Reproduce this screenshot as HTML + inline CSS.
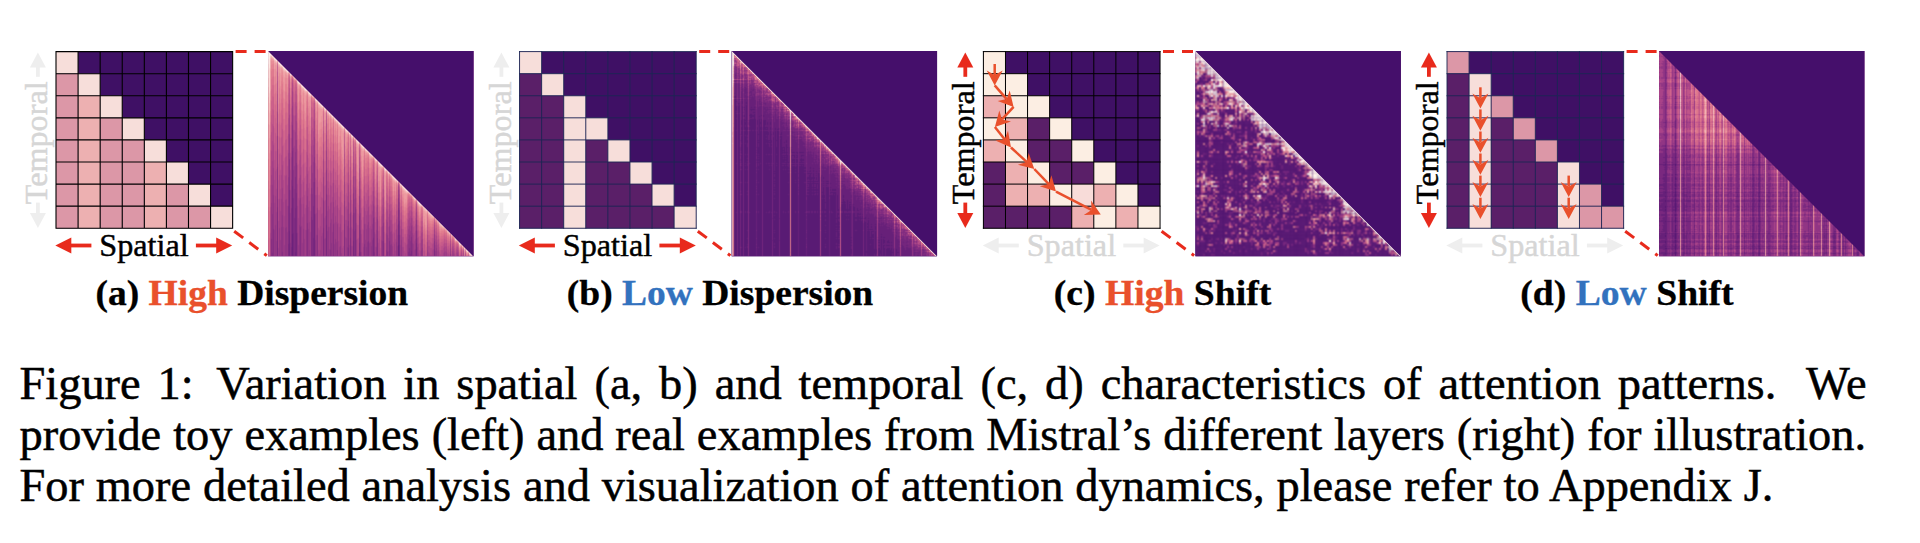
<!DOCTYPE html>
<html lang="en"><head><meta charset="utf-8"><title>Figure 1</title>
<style>
html,body{margin:0;padding:0;background:#fff;}
body{width:1920px;height:543px;overflow:hidden;position:relative;font-family:"Liberation Serif", "DejaVu Serif", serif;}
svg{position:absolute;left:0;top:0;font-family:"Liberation Serif", "DejaVu Serif", serif;}
.cap{position:absolute;left:19.5px;font-size:46.4px;line-height:52px;height:52px;color:#000;white-space:nowrap;-webkit-text-stroke:0.5px #000;}
</style></head><body>
<svg width="1920" height="543" viewBox="0 0 1920 543">
<defs>
<filter id="fs" filterUnits="userSpaceOnUse" x="-1" y="-1" width="208" height="208" color-interpolation-filters="sRGB"><feConvolveMatrix order="3" kernelMatrix="1 2 1 2 4 2 1 2 1" divisor="16" edgeMode="duplicate" preserveAlpha="true"/></filter>
<filter id="fm" filterUnits="userSpaceOnUse" x="-1" y="-1" width="208" height="208" color-interpolation-filters="sRGB"><feConvolveMatrix order="3" kernelMatrix="0 1 0 1 4 1 0 1 0" divisor="8" edgeMode="duplicate" preserveAlpha="true"/></filter>
<clipPath id="hc"><rect x="0" y="0" width="206" height="206"/></clipPath>
</defs>
<g transform="translate(56.00,51.60)">
<rect x="0" y="0" width="176.64" height="176.64" fill="#3f1065"/>
<rect x="0.00" y="0.00" width="22.13" height="22.13" fill="#f7deda"/>
<rect x="0.00" y="22.08" width="22.13" height="22.13" fill="#dc97a7"/>
<rect x="22.08" y="22.08" width="22.13" height="22.13" fill="#f7deda"/>
<rect x="0.00" y="44.16" width="22.13" height="22.13" fill="#dc97a7"/>
<rect x="22.08" y="44.16" width="22.13" height="22.13" fill="#edb0b1"/>
<rect x="44.16" y="44.16" width="22.13" height="22.13" fill="#f7deda"/>
<rect x="0.00" y="66.24" width="22.13" height="22.13" fill="#dc97a7"/>
<rect x="22.08" y="66.24" width="22.13" height="22.13" fill="#edb0b1"/>
<rect x="44.16" y="66.24" width="22.13" height="22.13" fill="#dc97a7"/>
<rect x="66.24" y="66.24" width="22.13" height="22.13" fill="#f7deda"/>
<rect x="0.00" y="88.32" width="22.13" height="22.13" fill="#dc97a7"/>
<rect x="22.08" y="88.32" width="22.13" height="22.13" fill="#edb0b1"/>
<rect x="44.16" y="88.32" width="22.13" height="22.13" fill="#dc97a7"/>
<rect x="66.24" y="88.32" width="22.13" height="22.13" fill="#dc97a7"/>
<rect x="88.32" y="88.32" width="22.13" height="22.13" fill="#f7deda"/>
<rect x="0.00" y="110.40" width="22.13" height="22.13" fill="#dc97a7"/>
<rect x="22.08" y="110.40" width="22.13" height="22.13" fill="#edb0b1"/>
<rect x="44.16" y="110.40" width="22.13" height="22.13" fill="#dc97a7"/>
<rect x="66.24" y="110.40" width="22.13" height="22.13" fill="#dc97a7"/>
<rect x="88.32" y="110.40" width="22.13" height="22.13" fill="#edb0b1"/>
<rect x="110.40" y="110.40" width="22.13" height="22.13" fill="#f7deda"/>
<rect x="0.00" y="132.48" width="22.13" height="22.13" fill="#dc97a7"/>
<rect x="22.08" y="132.48" width="22.13" height="22.13" fill="#edb0b1"/>
<rect x="44.16" y="132.48" width="22.13" height="22.13" fill="#dc97a7"/>
<rect x="66.24" y="132.48" width="22.13" height="22.13" fill="#dc97a7"/>
<rect x="88.32" y="132.48" width="22.13" height="22.13" fill="#edb0b1"/>
<rect x="110.40" y="132.48" width="22.13" height="22.13" fill="#dc97a7"/>
<rect x="132.48" y="132.48" width="22.13" height="22.13" fill="#f7deda"/>
<rect x="0.00" y="154.56" width="22.13" height="22.13" fill="#dc97a7"/>
<rect x="22.08" y="154.56" width="22.13" height="22.13" fill="#edb0b1"/>
<rect x="44.16" y="154.56" width="22.13" height="22.13" fill="#dc97a7"/>
<rect x="66.24" y="154.56" width="22.13" height="22.13" fill="#dc97a7"/>
<rect x="88.32" y="154.56" width="22.13" height="22.13" fill="#edb0b1"/>
<rect x="110.40" y="154.56" width="22.13" height="22.13" fill="#dc97a7"/>
<rect x="132.48" y="154.56" width="22.13" height="22.13" fill="#dc97a7"/>
<rect x="154.56" y="154.56" width="22.13" height="22.13" fill="#f7deda"/>
<path d="M0.00 0V176.64M0 0.00H176.64M22.08 0V176.64M0 22.08H176.64M44.16 0V176.64M0 44.16H176.64M66.24 0V176.64M0 66.24H176.64M88.32 0V176.64M0 88.32H176.64M110.40 0V176.64M0 110.40H176.64M132.48 0V176.64M0 132.48H176.64M154.56 0V176.64M0 154.56H176.64M176.64 0V176.64M0 176.64H176.64" stroke="#000000" stroke-width="1.1" fill="none" stroke-linecap="square"/>
</g>
<text x="144.0" y="256.4" font-size="32.2" text-anchor="middle" fill="black" stroke="black" stroke-width="0.45">Spatial</text>
<path d="M91.4 245.5H70.3" stroke="#e82a1c" stroke-width="3.8" fill="none"/>
<path d="M55.3 245.5L71.3 237.5V253.5Z" fill="#e82a1c"/>
<path d="M195.9 245.5H217.2" stroke="#e82a1c" stroke-width="3.8" fill="none"/>
<path d="M232.2 245.5L216.2 237.5V253.5Z" fill="#e82a1c"/>
<text transform="translate(47.0,142.8) rotate(-90)" font-size="32.2" text-anchor="middle" fill="#d6d6d6" stroke="#d6d6d6" stroke-width="0.45">Temporal</text>
<path d="M37.9 76.8V66.6" stroke="#eeeeee" stroke-width="3.8" fill="none"/>
<path d="M37.9 52.6L29.9 67.6H45.9Z" fill="#eeeeee"/>
<path d="M37.9 202.6V214.0" stroke="#eeeeee" stroke-width="3.8" fill="none"/>
<path d="M37.9 228.0L29.9 213.0H45.9Z" fill="#eeeeee"/>
<path d="M235.6 51.6H266.6" stroke="#e82a1c" stroke-width="3" stroke-dasharray="11 8" fill="none"/>
<path d="M234.2 231.2L266.8 255.6" stroke="#e82a1c" stroke-width="3" stroke-dasharray="11.2 7.6" fill="none"/>
<g transform="translate(268.1,51) scale(0.9968)" clip-path="url(#hc)"><g shape-rendering="crispEdges">
<rect x="-1" y="-1" width="208" height="208" fill="#450f6b"/>
<g filter="url(#fm)">
<rect x="-1" y="-1" width="208" height="208" fill="#8e3383"/>
<path d="M24.5 184v22M130.5 195v11" stroke="#641f78" stroke-width="1" fill="none"/>
<path d="M9.5 157v49M21.5 181v25M24.5 135v49M27.5 202v4M28.5 183v23M46.5 164v42M58.5 175v31M85.5 191v15M91.5 193v13M130.5 174v21M131.5 205v1M148.5 193v13" stroke="#6e237b" stroke-width="1" fill="none"/>
<path d="M9.5 116v41M20.5 194v12M21.5 139v42M23.5 197v9M24.5 100v35M25.5 183v23M27.5 158v44M28.5 142v41M43.5 167v39M44.5 205v1M45.5 188v18M46.5 131v33M55.5 178v28M58.5 143v32M65.5 205v1M76.5 174v32M80.5 198v8M82.5 188v18M85.5 163v28M87.5 179v27M91.5 166v27M105.5 188v18M109.5 188v18M115.5 191v15M130.5 158v16M131.5 185v20M143.5 201v5M148.5 180v13M166.5 200v6" stroke="#77277e" stroke-width="1" fill="none"/>
<path d="M3.5 189v17M4.5 203v3M5.5 179v27M9.5 85v31M14.5 202v4M20.5 155v39M21.5 108v31M23.5 158v39M24.5 74v26M25.5 147v36M26.5 168v38M27.5 126v32M28.5 112v30M32.5 177v29M39.5 173v33M43.5 137v30M44.5 170v35M45.5 155v33M46.5 106v25M49.5 185v21M55.5 149v29M58.5 119v24M60.5 205v1M62.5 200v6M65.5 174v31M69.5 200v6M76.5 150v24M80.5 171v27M82.5 163v25M85.5 142v21M86.5 205v1M87.5 157v22M91.5 145v21M92.5 202v4M96.5 194v12M100.5 191v15M105.5 168v20M106.5 202v4M109.5 169v19M115.5 173v18M118.5 200v6M119.5 202v4M121.5 191v15M130.5 147v11M131.5 171v14M133.5 205v1M140.5 202v4M141.5 198v8M142.5 204v2M143.5 187v14M148.5 170v10M166.5 191v9M182.5 204v2" stroke="#812c81" stroke-width="1" fill="none"/>
<path d="M3.5 152v37M4.5 164v39M5.5 144v35M7.5 175v31M9.5 61v24M11.5 178v28M13.5 177v29M14.5 165v37M17.5 178v28M18.5 177v29M20.5 126v29M21.5 83v25M22.5 193v13M23.5 129v29M24.5 55v19M25.5 119v28M26.5 138v30M27.5 101v25M28.5 89v23M29.5 183v23M31.5 175v31M32.5 147v30M35.5 179v27M38.5 180v26M39.5 145v28M41.5 200v6M43.5 114v23M44.5 143v27M45.5 131v24M46.5 86v20M47.5 190v16M49.5 158v27M55.5 126v23M58.5 100v19M60.5 177v28M62.5 173v27M63.5 193v13M65.5 151v23M67.5 189v17M69.5 174v26M72.5 196v10M76.5 131v19M79.5 197v9M80.5 151v20M82.5 144v19M85.5 125v17M86.5 181v24M87.5 139v18M91.5 130v15M92.5 180v22M96.5 174v20M98.5 197v9M99.5 192v14M100.5 172v19M103.5 196v10M104.5 190v16M105.5 153v15M106.5 182v20M108.5 197v9M109.5 154v15M114.5 191v15M115.5 159v14M118.5 183v17M119.5 185v17M121.5 176v15M122.5 195v11M123.5 194v12M128.5 192v14M130.5 139v8M131.5 160v11M133.5 190v15M140.5 189v13M141.5 185v13M142.5 191v13M143.5 176v11M144.5 193v13M145.5 205v1M147.5 199v7M148.5 162v8M153.5 200v6M154.5 198v8M159.5 200v6M166.5 184v7M168.5 198v8M182.5 199v5" stroke="#8d3383" stroke-width="1" fill="none"/>
<path d="M3.5 124v28M4.5 134v30M5.5 117v27M6.5 180v26M7.5 145v30M8.5 191v15M9.5 43v18M11.5 148v30M12.5 190v16M13.5 148v29M14.5 137v28M15.5 177v29M16.5 195v11M17.5 149v29M18.5 148v29M19.5 182v24M20.5 102v24M21.5 64v19M22.5 163v30M23.5 106v23M24.5 40v15M25.5 97v22M26.5 115v23M27.5 81v20M28.5 70v19M29.5 155v28M30.5 195v11M31.5 149v26M32.5 124v23M33.5 176v30M34.5 193v13M35.5 153v26M36.5 189v17M38.5 154v26M39.5 123v22M40.5 179v27M41.5 172v28M43.5 95v19M44.5 122v21M45.5 111v20M46.5 70v16M47.5 164v26M48.5 185v21M49.5 136v22M51.5 204v2M52.5 200v6M53.5 186v20M55.5 108v18M56.5 189v17M57.5 188v18M58.5 84v16M59.5 181v25M60.5 155v22M61.5 199v7M62.5 152v21M63.5 169v24M64.5 182v24M65.5 132v19M66.5 194v12M67.5 166v23M68.5 192v14M69.5 154v20M71.5 197v9M72.5 174v22M73.5 203v3M76.5 116v15M78.5 188v18M79.5 176v21M80.5 134v17M82.5 129v15M83.5 196v10M85.5 112v13M86.5 163v18M87.5 125v14M88.5 190v16M91.5 117v13M92.5 163v17M93.5 202v4M95.5 197v9M96.5 158v16M97.5 190v16M98.5 179v18M99.5 175v17M100.5 157v15M101.5 193v13M102.5 192v14M103.5 179v17M104.5 174v16M105.5 140v13M106.5 167v15M108.5 180v17M109.5 142v12M111.5 204v2M113.5 190v16M114.5 176v15M115.5 147v12M118.5 170v13M119.5 172v13M120.5 201v5M121.5 164v12M122.5 182v13M123.5 181v13M124.5 196v10M126.5 194v12M128.5 179v13M129.5 196v10M130.5 135v4M131.5 151v9M133.5 179v11M139.5 194v12M140.5 179v10M141.5 176v9M142.5 181v10M143.5 168v8M144.5 183v10M145.5 194v11M146.5 200v6M147.5 189v10M148.5 156v6M149.5 197v9M150.5 203v3M153.5 190v10M154.5 189v9M159.5 192v8M166.5 179v5M167.5 201v5M168.5 192v6M170.5 200v6M176.5 202v4M178.5 202v4M182.5 194v5M184.5 201v5M185.5 203v3M187.5 205v1M190.5 203v3M191.5 205v1M194.5 205v1M196.5 203v3" stroke="#993985" stroke-width="1" fill="none"/>
<path d="M2.5 183v23M3.5 100v24M4.5 110v24M5.5 94v23M6.5 152v28M7.5 120v25M8.5 162v29M9.5 30v13M10.5 198v8M11.5 124v24M12.5 161v29M13.5 124v24M14.5 114v23M15.5 151v26M16.5 166v29M17.5 125v24M18.5 124v24M19.5 155v27M20.5 83v19M21.5 49v15M22.5 139v24M23.5 87v19M24.5 32v8M25.5 79v18M26.5 95v20M27.5 64v17M28.5 55v15M29.5 133v22M30.5 168v27M31.5 127v22M32.5 104v20M33.5 153v23M34.5 167v26M35.5 131v22M36.5 164v25M37.5 180v26M38.5 133v21M39.5 104v19M40.5 156v23M41.5 150v22M42.5 182v24M43.5 79v16M44.5 104v18M45.5 94v17M46.5 58v12M47.5 144v20M48.5 163v22M49.5 118v18M50.5 200v6M51.5 180v24M52.5 176v24M53.5 164v22M54.5 183v23M55.5 93v15M56.5 168v21M57.5 166v22M58.5 72v12M59.5 161v20M60.5 137v18M61.5 177v22M62.5 134v18M63.5 151v18M64.5 163v19M65.5 117v15M66.5 173v21M67.5 149v17M68.5 172v20M69.5 137v17M70.5 191v15M71.5 177v20M72.5 156v18M73.5 182v21M74.5 198v8M76.5 103v13M77.5 187v19M78.5 170v18M79.5 159v17M80.5 121v13M81.5 195v11M82.5 116v13M83.5 177v19M84.5 196v10M85.5 101v11M86.5 148v15M87.5 113v12M88.5 173v17M91.5 106v11M92.5 149v14M93.5 184v18M95.5 180v17M96.5 145v13M97.5 174v16M98.5 165v14M99.5 161v14M100.5 145v12M101.5 178v15M102.5 176v16M103.5 165v14M104.5 161v13M105.5 130v10M106.5 155v12M107.5 197v9M108.5 167v13M109.5 132v10M111.5 189v15M113.5 177v13M114.5 164v12M115.5 138v9M118.5 159v11M119.5 161v11M120.5 188v13M121.5 154v10M122.5 170v12M123.5 170v11M124.5 184v12M125.5 204v2M126.5 183v11M127.5 201v5M128.5 169v10M129.5 185v11M130.5 134v1M131.5 143v8M132.5 195v11M133.5 170v9M134.5 197v9M135.5 197v9M137.5 203v3M139.5 184v10M140.5 170v9M141.5 168v8M142.5 173v8M143.5 161v7M144.5 175v8M145.5 185v9M146.5 191v9M147.5 181v8M148.5 153v3M149.5 188v9M150.5 194v9M152.5 201v5M153.5 183v7M154.5 182v7M159.5 185v7M160.5 202v4M161.5 203v3M162.5 205v1M163.5 205v1M164.5 200v6M165.5 199v7M166.5 175v4M167.5 195v6M168.5 186v6M169.5 201v5M170.5 194v6M175.5 203v3M176.5 197v5M177.5 201v5M178.5 197v5M180.5 204v2M182.5 191v3M184.5 197v4M185.5 199v4M186.5 204v2M187.5 202v3M189.5 202v4M190.5 200v3M191.5 202v3M194.5 202v3M196.5 201v2M198.5 204v2" stroke="#a54087" stroke-width="1" fill="none"/>
<path d="M2.5 157v26M3.5 81v19M4.5 90v20M5.5 75v19M6.5 129v23M7.5 100v20M8.5 138v24M9.5 21v9M10.5 171v27M11.5 103v21M12.5 138v23M13.5 104v20M14.5 95v19M15.5 129v22M16.5 143v23M17.5 106v19M18.5 105v19M19.5 134v21M20.5 67v16M21.5 37v12M22.5 119v20M23.5 71v16M24.5 29v3M25.5 64v15M26.5 79v16M27.5 51v13M28.5 43v12M29.5 114v19M30.5 147v21M31.5 109v18M32.5 88v16M33.5 133v20M34.5 146v21M35.5 113v18M36.5 144v20M37.5 158v22M38.5 116v17M39.5 89v15M40.5 137v19M41.5 132v18M42.5 161v21M43.5 66v13M44.5 89v15M45.5 80v14M46.5 52v6M47.5 127v17M48.5 144v19M49.5 103v15M50.5 178v22M51.5 160v20M52.5 157v19M53.5 146v18M54.5 163v20M55.5 80v13M56.5 150v18M57.5 149v17M58.5 65v7M59.5 144v17M60.5 122v15M61.5 159v18M62.5 120v14M63.5 135v16M64.5 146v17M65.5 104v13M66.5 156v17M67.5 134v15M68.5 155v17M69.5 124v13M70.5 173v18M71.5 160v17M72.5 141v15M73.5 165v17M74.5 180v18M75.5 196v10M76.5 93v10M77.5 170v17M78.5 155v15M79.5 145v14M80.5 109v12M81.5 178v17M82.5 105v11M83.5 162v15M84.5 179v17M85.5 93v8M86.5 136v12M87.5 103v10M88.5 159v14M89.5 189v17M90.5 203v3M91.5 99v7M92.5 138v11M93.5 170v14M94.5 193v13M95.5 167v13M96.5 134v11M97.5 161v13M98.5 153v12M99.5 149v12M100.5 134v11M101.5 165v13M102.5 164v12M103.5 154v11M104.5 150v11M105.5 121v9M106.5 145v10M107.5 184v13M108.5 156v11M109.5 124v8M110.5 193v13M111.5 176v13M113.5 166v11M114.5 154v10M115.5 130v8M116.5 193v13M118.5 150v9M119.5 152v9M120.5 177v11M121.5 145v9M122.5 161v9M123.5 160v10M124.5 174v10M125.5 192v12M126.5 173v10M127.5 189v12M128.5 161v8M129.5 175v10M130.5 133v1M131.5 138v5M132.5 185v10M133.5 162v8M134.5 187v10M135.5 187v10M136.5 201v5M137.5 193v10M138.5 195v11M139.5 176v8M140.5 163v7M141.5 161v7M142.5 166v7M143.5 155v6M144.5 168v7M145.5 177v8M146.5 183v8M147.5 174v7M148.5 152v1M149.5 181v7M150.5 187v7M151.5 200v6M152.5 193v8M153.5 177v6M154.5 176v6M156.5 201v5M159.5 180v5M160.5 196v6M161.5 196v7M162.5 198v7M163.5 198v7M164.5 194v6M165.5 193v6M166.5 172v3M167.5 189v6M168.5 182v4M169.5 195v6M170.5 189v5M171.5 202v4M172.5 204v2M173.5 200v6M174.5 200v6M175.5 198v5M176.5 193v4M177.5 196v5M178.5 193v4M179.5 203v3M180.5 200v4M182.5 189v2M184.5 194v3M185.5 196v3M186.5 201v3M187.5 198v4M189.5 199v3M190.5 197v3M191.5 200v2M194.5 200v2M196.5 200v1M198.5 203v1" stroke="#b04888" stroke-width="1" fill="none"/>
<path d="M2.5 134v23M3.5 64v17M4.5 73v17M5.5 59v16M6.5 109v20M7.5 82v18M8.5 118v20M9.5 15v6M10.5 148v23M11.5 86v17M12.5 119v19M13.5 86v18M14.5 78v17M15.5 110v19M16.5 124v19M17.5 89v17M18.5 88v17M19.5 115v19M20.5 53v14M21.5 29v8M22.5 102v17M23.5 57v14M24.5 28v1M25.5 51v13M26.5 65v14M27.5 40v11M28.5 36v7M29.5 98v16M30.5 129v18M31.5 94v15M32.5 74v14M33.5 116v17M34.5 129v17M35.5 98v15M36.5 127v17M37.5 140v18M38.5 101v15M39.5 76v13M40.5 120v17M41.5 116v16M42.5 143v18M43.5 56v10M44.5 77v12M45.5 68v12M46.5 50v2M47.5 112v15M48.5 129v15M49.5 90v13M50.5 160v18M51.5 144v16M52.5 141v16M53.5 131v15M54.5 147v16M55.5 70v10M56.5 135v15M57.5 134v15M58.5 62v3M59.5 130v14M60.5 109v13M61.5 144v15M62.5 107v13M63.5 122v13M64.5 132v14M65.5 93v11M66.5 142v14M67.5 121v13M68.5 141v14M69.5 112v12M70.5 158v15M71.5 146v14M72.5 129v12M73.5 151v14M74.5 165v15M75.5 180v16M76.5 85v8M77.5 156v14M78.5 142v13M79.5 132v13M80.5 100v9M81.5 164v14M82.5 96v9M83.5 149v13M84.5 165v14M85.5 90v3M86.5 125v11M87.5 96v7M88.5 147v12M89.5 175v14M90.5 188v15M91.5 96v3M92.5 127v11M93.5 158v12M94.5 179v14M95.5 155v12M96.5 125v9M97.5 150v11M98.5 142v11M99.5 139v10M100.5 125v9M101.5 155v10M102.5 153v11M103.5 144v10M104.5 140v10M105.5 114v7M106.5 136v9M107.5 172v12M108.5 147v9M109.5 117v7M110.5 181v12M111.5 166v10M112.5 198v8M113.5 156v10M114.5 146v8M115.5 124v6M116.5 182v11M117.5 205v1M118.5 142v8M119.5 144v8M120.5 167v10M121.5 138v7M122.5 153v8M123.5 153v7M124.5 165v9M125.5 182v10M126.5 165v8M127.5 180v9M128.5 153v8M129.5 167v8M130.5 132v1M131.5 136v2M132.5 176v9M133.5 155v7M134.5 179v8M135.5 179v8M136.5 192v9M137.5 184v9M138.5 187v8M139.5 169v7M140.5 157v6M141.5 155v6M142.5 160v6M143.5 151v4M144.5 162v6M145.5 171v6M146.5 176v7M147.5 168v6M148.5 151v1M149.5 175v6M150.5 180v7M151.5 193v7M152.5 186v7M153.5 171v6M154.5 171v5M156.5 194v7M159.5 175v5M160.5 190v6M161.5 190v6M162.5 192v6M163.5 193v5M164.5 188v6M165.5 188v5M166.5 170v2M167.5 185v4M168.5 178v4M169.5 190v5M170.5 185v4M171.5 197v5M172.5 200v4M173.5 196v4M174.5 196v4M175.5 194v4M176.5 189v4M177.5 193v3M178.5 190v3M179.5 199v4M180.5 196v4M181.5 202v4M182.5 187v2M183.5 204v2M184.5 192v2M185.5 193v3M186.5 198v3M187.5 196v2M188.5 203v3M189.5 197v2M190.5 196v1M191.5 198v2M193.5 205v1M194.5 199v1M196.5 199v1M198.5 202v1M201.5 205v1" stroke="#bb5189" stroke-width="1" fill="none"/>
<path d="M2.5 115v19M3.5 50v14M4.5 58v15M5.5 46v13M6.5 92v17M7.5 67v15M8.5 100v18M9.5 13v2M10.5 129v19M11.5 71v15M12.5 102v17M13.5 72v14M14.5 64v14M15.5 94v16M16.5 107v17M17.5 74v15M18.5 74v14M19.5 99v16M20.5 42v11M21.5 26v3M22.5 87v15M23.5 46v11M24.5 27v1M25.5 41v10M26.5 53v12M27.5 34v6M28.5 33v3M29.5 84v14M30.5 113v16M31.5 80v14M32.5 62v12M33.5 102v14M34.5 114v15M35.5 85v13M36.5 112v15M37.5 125v15M38.5 88v13M39.5 64v12M40.5 107v13M41.5 102v14M42.5 128v15M43.5 50v6M44.5 66v11M45.5 59v9M46.5 49v1M47.5 99v13M48.5 115v14M49.5 79v11M50.5 144v16M51.5 129v15M52.5 127v14M53.5 118v13M54.5 133v14M55.5 63v7M56.5 122v13M57.5 121v13M58.5 61v1M59.5 117v13M60.5 98v11M61.5 131v13M62.5 96v11M63.5 110v12M64.5 120v12M65.5 83v10M66.5 129v13M67.5 110v11M68.5 129v12M69.5 101v11M70.5 145v13M71.5 134v12M72.5 118v11M73.5 139v12M74.5 152v13M75.5 166v14M76.5 81v4M77.5 144v12M78.5 131v11M79.5 122v10M80.5 92v8M81.5 152v12M82.5 90v6M83.5 138v11M84.5 153v12M85.5 89v1M86.5 116v9M87.5 92v4M88.5 137v10M89.5 163v12M90.5 175v13M91.5 95v1M92.5 119v8M93.5 147v11M94.5 167v12M95.5 145v10M96.5 116v9M97.5 141v9M98.5 133v9M99.5 131v8M100.5 117v8M101.5 145v10M102.5 144v9M103.5 136v8M104.5 132v8M105.5 110v4M106.5 128v8M107.5 162v10M108.5 139v8M109.5 114v3M110.5 171v10M111.5 157v9M112.5 186v12M113.5 148v8M114.5 138v8M115.5 120v4M116.5 172v10M117.5 193v12M118.5 135v7M119.5 137v7M120.5 159v8M121.5 132v6M122.5 146v7M123.5 146v7M124.5 158v7M125.5 174v8M126.5 157v8M127.5 172v8M128.5 147v6M129.5 160v7M131.5 135v1M132.5 169v7M133.5 149v6M134.5 172v7M135.5 172v7M136.5 184v8M137.5 177v7M138.5 180v7M139.5 163v6M140.5 152v5M141.5 151v4M142.5 155v5M143.5 148v3M144.5 157v5M145.5 166v5M146.5 171v5M147.5 163v5M149.5 170v5M150.5 175v5M151.5 186v7M152.5 181v5M153.5 167v4M154.5 166v5M155.5 200v6M156.5 188v6M157.5 200v6M158.5 203v3M159.5 171v4M160.5 185v5M161.5 185v5M162.5 187v5M163.5 188v5M164.5 184v4M165.5 184v4M166.5 169v1M167.5 181v4M168.5 175v3M169.5 186v4M170.5 182v3M171.5 193v4M172.5 195v5M173.5 192v4M174.5 192v4M175.5 191v3M176.5 186v3M177.5 189v4M178.5 187v3M179.5 196v3M180.5 193v3M181.5 198v4M182.5 186v1M183.5 201v3M184.5 190v2M185.5 191v2M186.5 195v3M187.5 194v2M188.5 200v3M189.5 195v2M190.5 194v2M191.5 196v2M193.5 203v2M194.5 198v1M195.5 205v1M198.5 201v1M201.5 204v1" stroke="#c65a8a" stroke-width="1" fill="none"/>
<path d="M0.5 190v16M2.5 99v16M3.5 38v12M4.5 45v13M5.5 34v12M6.5 77v15M7.5 54v13M8.5 85v15M9.5 12v1M10.5 113v16M11.5 58v13M12.5 87v15M13.5 59v13M14.5 52v12M15.5 80v14M16.5 92v15M17.5 62v12M18.5 61v13M19.5 85v14M20.5 33v9M21.5 25v1M22.5 74v13M23.5 37v9M24.5 26v1M25.5 34v7M26.5 43v10M27.5 32v2M28.5 32v1M29.5 72v12M30.5 100v13M31.5 69v11M32.5 52v10M33.5 89v13M34.5 101v13M35.5 73v12M36.5 99v13M37.5 111v14M38.5 76v12M39.5 55v9M40.5 94v13M41.5 90v12M42.5 115v13M43.5 47v3M44.5 57v9M45.5 52v7M47.5 88v11M48.5 103v12M49.5 69v10M50.5 131v13M51.5 117v12M52.5 115v12M53.5 106v12M54.5 121v12M55.5 60v3M56.5 110v12M57.5 110v11M59.5 106v11M60.5 88v10M61.5 119v12M62.5 87v9M63.5 100v10M64.5 110v10M65.5 75v8M66.5 118v11M67.5 100v10M68.5 119v10M69.5 92v9M70.5 134v11M71.5 123v11M72.5 108v10M73.5 128v11M74.5 140v12M75.5 154v12M76.5 80v1M77.5 133v11M78.5 121v10M79.5 113v9M80.5 86v6M81.5 141v11M82.5 87v3M83.5 129v9M84.5 143v10M85.5 88v1M86.5 108v8M87.5 91v1M88.5 128v9M89.5 152v11M90.5 164v11M91.5 94v1M92.5 111v8M93.5 138v9M94.5 157v10M95.5 136v9M96.5 109v7M97.5 132v9M98.5 125v8M99.5 123v8M100.5 111v6M101.5 137v8M102.5 136v8M103.5 128v8M104.5 125v7M105.5 109v1M106.5 121v7M107.5 154v8M108.5 131v8M109.5 113v1M110.5 162v9M111.5 149v8M112.5 177v9M113.5 141v7M114.5 132v6M115.5 119v1M116.5 164v8M117.5 184v9M118.5 129v6M119.5 131v6M120.5 152v7M121.5 128v4M122.5 140v6M123.5 140v6M124.5 151v7M125.5 166v8M126.5 151v6M127.5 165v7M128.5 141v6M129.5 154v6M131.5 134v1M132.5 163v6M133.5 144v5M134.5 165v7M135.5 165v7M136.5 177v7M137.5 171v6M138.5 173v7M139.5 158v5M140.5 148v4M141.5 147v4M142.5 151v4M143.5 147v1M144.5 153v4M145.5 161v5M146.5 166v5M147.5 159v4M148.5 150v1M149.5 165v5M150.5 170v5M151.5 181v5M152.5 176v5M153.5 163v4M154.5 163v3M155.5 194v6M156.5 183v5M157.5 195v5M158.5 197v6M159.5 167v4M160.5 181v4M161.5 181v4M162.5 183v4M163.5 184v4M164.5 180v4M165.5 180v4M167.5 178v3M168.5 173v2M169.5 183v3M170.5 179v3M171.5 189v4M172.5 192v3M173.5 189v3M174.5 189v3M175.5 188v3M176.5 184v2M177.5 187v2M178.5 185v2M179.5 193v3M180.5 191v2M181.5 195v3M182.5 185v1M183.5 198v3M184.5 189v1M185.5 190v1M186.5 193v2M187.5 192v2M188.5 198v2M189.5 194v1M191.5 195v1M193.5 201v2M194.5 197v1M195.5 203v2M196.5 198v1" stroke="#ce628a" stroke-width="1" fill="none"/>
<path d="M0.5 157v33M2.5 84v15M3.5 28v10M4.5 34v11M5.5 25v9M6.5 64v13M7.5 42v12M8.5 72v13M10.5 98v15M11.5 47v11M12.5 74v13M13.5 48v11M14.5 41v11M15.5 68v12M16.5 79v13M17.5 51v11M18.5 50v11M19.5 73v12M20.5 27v6M21.5 24v1M22.5 63v11M23.5 31v6M25.5 30v4M26.5 36v7M27.5 30v2M28.5 31v1M29.5 62v10M30.5 88v12M31.5 58v11M32.5 44v8M33.5 78v11M34.5 89v12M35.5 63v10M36.5 87v12M37.5 99v12M38.5 66v10M39.5 48v7M40.5 83v11M41.5 80v10M42.5 103v12M43.5 46v1M44.5 51v6M45.5 50v2M46.5 48v1M47.5 78v10M48.5 92v11M49.5 61v8M50.5 119v12M51.5 106v11M52.5 104v11M53.5 96v10M54.5 110v11M55.5 59v1M56.5 100v10M57.5 99v11M58.5 60v1M59.5 96v10M60.5 79v9M61.5 109v10M62.5 78v9M63.5 91v9M64.5 100v10M65.5 71v4M66.5 109v9M67.5 91v9M68.5 109v10M69.5 84v8M70.5 124v10M71.5 114v9M72.5 99v9M73.5 119v9M74.5 130v10M75.5 143v11M76.5 79v1M77.5 124v9M78.5 112v9M79.5 104v9M80.5 84v2M81.5 132v9M82.5 86v1M83.5 120v9M84.5 134v9M85.5 87v1M86.5 100v8M87.5 90v1M88.5 120v8M89.5 143v9M90.5 154v10M91.5 93v1M92.5 104v7M93.5 130v8M94.5 148v9M95.5 128v8M96.5 104v5M97.5 125v7M98.5 118v7M99.5 116v7M100.5 107v4M101.5 130v7M102.5 129v7M103.5 121v7M104.5 118v7M105.5 108v1M106.5 116v5M107.5 146v8M108.5 125v6M109.5 112v1M110.5 154v8M111.5 142v7M112.5 169v8M113.5 135v6M114.5 126v6M115.5 118v1M116.5 157v7M117.5 176v8M118.5 125v4M119.5 127v4M120.5 146v6M121.5 126v2M122.5 135v5M123.5 135v5M124.5 145v6M125.5 160v6M126.5 145v6M127.5 159v6M128.5 137v4M129.5 148v6M130.5 131v1M131.5 133v1M132.5 157v6M133.5 140v4M134.5 160v5M135.5 160v5M136.5 172v5M137.5 165v6M138.5 168v5M139.5 153v5M140.5 145v3M141.5 146v1M142.5 148v3M143.5 146v1M144.5 150v3M145.5 157v4M146.5 161v5M147.5 155v4M149.5 161v4M150.5 166v4M151.5 176v5M152.5 171v5M153.5 160v3M154.5 160v3M155.5 189v5M156.5 179v4M157.5 190v5M158.5 192v5M159.5 165v2M160.5 177v4M161.5 177v4M162.5 179v4M163.5 180v4M164.5 177v3M165.5 177v3M166.5 168v1M167.5 175v3M168.5 172v1M169.5 180v3M170.5 176v3M171.5 186v3M172.5 188v4M173.5 186v3M174.5 186v3M175.5 185v3M176.5 182v2M177.5 185v2M178.5 183v2M179.5 190v3M180.5 188v3M181.5 193v2M183.5 196v2M184.5 188v1M185.5 189v1M186.5 192v1M187.5 191v1M188.5 196v2M189.5 193v1M190.5 193v1M191.5 194v1M192.5 204v2M193.5 200v1M195.5 201v2M198.5 200v1M201.5 203v1" stroke="#d56a8b" stroke-width="1" fill="none"/>
<path d="M0.5 130v27M1.5 188v18M2.5 71v13M3.5 20v8M4.5 26v8M5.5 18v7M6.5 53v11M7.5 33v9M8.5 60v12M9.5 11v1M10.5 85v13M11.5 37v10M12.5 62v12M13.5 38v10M14.5 33v8M15.5 57v11M16.5 68v11M17.5 41v10M18.5 41v9M19.5 62v11M20.5 25v2M21.5 23v1M22.5 53v10M23.5 28v3M25.5 29v1M26.5 32v4M28.5 30v1M29.5 52v10M30.5 77v11M31.5 50v8M32.5 39v5M33.5 68v10M34.5 78v11M35.5 54v9M36.5 77v10M37.5 88v11M38.5 57v9M39.5 44v4M40.5 74v9M41.5 70v10M42.5 93v10M44.5 49v2M45.5 49v1M47.5 69v9M48.5 83v9M49.5 56v5M50.5 109v10M51.5 96v10M52.5 95v9M53.5 86v10M54.5 100v10M55.5 58v1M56.5 91v9M57.5 90v9M59.5 88v8M60.5 72v7M61.5 100v9M62.5 72v6M63.5 83v8M64.5 92v8M65.5 69v2M66.5 100v9M67.5 84v7M68.5 101v8M69.5 78v6M70.5 115v9M71.5 105v9M72.5 92v7M73.5 110v9M74.5 121v9M75.5 134v9M76.5 78v1M77.5 115v9M78.5 105v7M79.5 97v7M80.5 83v1M81.5 124v8M82.5 85v1M83.5 112v8M84.5 126v8M86.5 95v5M87.5 89v1M88.5 112v8M89.5 135v8M90.5 145v9M92.5 99v5M93.5 123v7M94.5 140v8M95.5 121v7M96.5 101v3M97.5 118v7M98.5 112v6M99.5 110v6M100.5 105v2M101.5 123v7M102.5 123v6M103.5 116v5M104.5 113v5M106.5 112v4M107.5 140v6M108.5 120v5M109.5 111v1M110.5 148v6M111.5 136v6M112.5 161v8M113.5 129v6M114.5 122v4M116.5 151v6M117.5 169v7M118.5 123v2M119.5 124v3M120.5 140v6M121.5 125v1M122.5 130v5M123.5 130v5M124.5 140v5M125.5 154v6M126.5 140v5M127.5 153v6M128.5 134v3M129.5 144v4M132.5 152v5M133.5 138v2M134.5 155v5M135.5 155v5M136.5 166v6M137.5 160v5M138.5 163v5M139.5 149v4M140.5 144v1M141.5 145v1M142.5 146v2M144.5 148v2M145.5 153v4M146.5 158v3M147.5 153v2M148.5 149v1M149.5 158v3M150.5 162v4M151.5 172v4M152.5 168v3M153.5 158v2M154.5 159v1M155.5 184v5M156.5 175v4M157.5 185v5M158.5 188v4M159.5 163v2M160.5 173v4M161.5 174v3M162.5 176v3M163.5 177v3M164.5 174v3M165.5 174v3M167.5 173v2M168.5 171v1M169.5 177v3M170.5 175v1M171.5 183v3M172.5 186v2M173.5 183v3M174.5 184v2M175.5 183v2M176.5 180v2M177.5 183v2M178.5 182v1M179.5 188v2M180.5 186v2M181.5 191v2M182.5 184v1M183.5 193v3M184.5 187v1M185.5 188v1M186.5 191v1M188.5 194v2M189.5 192v1M192.5 202v2M193.5 198v2M194.5 196v1M195.5 200v1" stroke="#db738c" stroke-width="1" fill="none"/>
<path d="M0.5 108v22M1.5 161v27M2.5 60v11M3.5 14v6M4.5 18v8M5.5 13v5M6.5 43v10M7.5 25v8M8.5 50v10M10.5 73v12M11.5 29v8M12.5 52v10M13.5 30v8M14.5 26v7M15.5 47v10M16.5 57v11M17.5 33v8M18.5 33v8M19.5 52v10M20.5 24v1M22.5 44v9M23.5 27v1M24.5 25v1M25.5 28v1M26.5 30v2M27.5 29v1M29.5 44v8M30.5 67v10M31.5 42v8M32.5 36v3M33.5 59v9M34.5 69v9M35.5 47v7M36.5 68v9M37.5 79v9M38.5 50v7M39.5 43v1M40.5 65v9M41.5 62v8M42.5 83v10M43.5 45v1M44.5 47v2M45.5 48v1M47.5 62v7M48.5 74v9M49.5 53v3M50.5 99v10M51.5 87v9M52.5 86v9M53.5 78v8M54.5 91v9M55.5 57v1M56.5 82v9M57.5 82v8M59.5 80v8M60.5 67v5M61.5 92v8M62.5 68v4M63.5 76v7M64.5 84v8M65.5 68v1M66.5 92v8M67.5 77v7M68.5 93v8M69.5 74v4M70.5 106v9M71.5 98v7M72.5 85v7M73.5 103v7M74.5 113v8M75.5 125v9M77.5 108v7M78.5 98v7M79.5 91v6M81.5 116v8M82.5 84v1M83.5 105v7M84.5 118v8M86.5 91v4M88.5 106v6M89.5 128v7M90.5 138v7M92.5 97v2M93.5 116v7M94.5 133v7M95.5 115v6M96.5 100v1M97.5 112v6M98.5 107v5M99.5 106v4M100.5 103v2M101.5 117v6M102.5 117v6M103.5 111v5M104.5 110v3M105.5 107v1M106.5 110v2M107.5 133v7M108.5 115v5M110.5 141v7M111.5 130v6M112.5 155v6M113.5 124v5M114.5 119v3M115.5 117v1M116.5 145v6M117.5 162v7M118.5 122v1M119.5 123v1M120.5 135v5M121.5 124v1M122.5 128v2M123.5 128v2M124.5 136v4M125.5 149v5M126.5 136v4M127.5 148v5M128.5 132v2M129.5 139v5M132.5 148v4M133.5 137v1M134.5 150v5M135.5 151v4M136.5 161v5M137.5 156v4M138.5 158v5M139.5 146v3M140.5 143v1M141.5 144v1M142.5 145v1M143.5 145v1M145.5 151v2M146.5 154v4M147.5 151v2M149.5 155v3M150.5 159v3M151.5 168v4M152.5 164v4M153.5 157v1M154.5 158v1M155.5 180v4M156.5 172v3M157.5 181v4M158.5 184v4M160.5 170v3M161.5 171v3M162.5 173v3M163.5 174v3M164.5 171v3M165.5 172v2M167.5 172v1M169.5 175v2M170.5 174v1M171.5 181v2M172.5 183v3M173.5 181v2M174.5 181v3M175.5 181v2M177.5 182v1M178.5 181v1M179.5 186v2M180.5 185v1M181.5 189v2M183.5 191v2M186.5 190v1M187.5 190v1M188.5 193v1M190.5 192v1M191.5 193v1M192.5 200v2M193.5 197v1M195.5 199v1M199.5 205v1" stroke="#e17c8e" stroke-width="1" fill="none"/>
<path d="M0.5 89v19M1.5 138v23M2.5 49v11M3.5 10v4M4.5 13v5M5.5 10v3M6.5 34v9M7.5 18v7M8.5 40v10M10.5 63v10M11.5 22v7M12.5 43v9M13.5 24v6M14.5 21v5M15.5 39v8M16.5 48v9M17.5 27v6M18.5 27v6M19.5 44v8M20.5 23v1M22.5 37v7M23.5 26v1M25.5 27v1M26.5 29v1M29.5 38v6M30.5 59v8M31.5 38v4M32.5 35v1M33.5 51v8M34.5 60v9M35.5 42v5M36.5 60v8M37.5 70v9M38.5 45v5M39.5 42v1M40.5 57v8M41.5 55v7M42.5 75v8M45.5 47v1M46.5 47v1M47.5 56v6M48.5 67v7M49.5 52v1M50.5 91v8M51.5 79v8M52.5 78v8M53.5 71v7M54.5 83v8M56.5 75v7M57.5 75v7M58.5 59v1M59.5 73v7M60.5 65v2M61.5 84v8M62.5 66v2M63.5 71v5M64.5 77v7M66.5 85v7M67.5 73v4M68.5 86v7M69.5 73v1M70.5 99v7M71.5 91v7M72.5 80v5M73.5 96v7M74.5 106v7M75.5 118v7M77.5 101v7M78.5 91v7M79.5 86v5M80.5 82v1M81.5 109v7M83.5 99v6M84.5 112v6M85.5 86v1M86.5 90v1M88.5 100v6M89.5 121v7M90.5 131v7M91.5 92v1M92.5 96v1M93.5 110v6M94.5 126v7M95.5 109v6M96.5 99v1M97.5 107v5M98.5 104v3M99.5 104v2M101.5 112v5M102.5 112v5M103.5 108v3M104.5 108v2M106.5 109v1M107.5 128v5M108.5 113v2M110.5 136v5M111.5 125v5M112.5 149v6M113.5 120v4M114.5 118v1M116.5 139v6M117.5 156v6M118.5 121v1M119.5 122v1M120.5 131v4M121.5 123v1M122.5 126v2M123.5 127v1M124.5 132v4M125.5 144v5M126.5 133v3M127.5 144v4M128.5 131v1M129.5 136v3M131.5 132v1M132.5 144v4M133.5 136v1M134.5 146v4M135.5 147v4M136.5 157v4M137.5 152v4M138.5 154v4M139.5 144v2M141.5 143v1M144.5 147v1M145.5 149v2M146.5 152v2M147.5 150v1M149.5 154v1M150.5 156v3M151.5 165v3M152.5 161v3M153.5 156v1M154.5 157v1M155.5 177v3M156.5 169v3M157.5 178v3M158.5 180v4M159.5 162v1M160.5 168v2M161.5 169v2M162.5 171v2M163.5 171v3M164.5 170v1M165.5 170v2M166.5 167v1M167.5 171v1M168.5 170v1M169.5 174v1M170.5 173v1M171.5 179v2M172.5 181v2M173.5 179v2M174.5 180v1M175.5 180v1M176.5 179v1M177.5 181v1M179.5 185v1M180.5 184v1M181.5 187v2M183.5 190v1M184.5 186v1M185.5 187v1M186.5 189v1M188.5 192v1M189.5 191v1M192.5 199v1M196.5 197v1M198.5 199v1M199.5 204v1M200.5 205v1" stroke="#e58794" stroke-width="1" fill="none"/>
<path d="M0.5 73v16M1.5 119v19M2.5 40v9M3.5 8v2M4.5 10v3M5.5 9v1M6.5 26v8M7.5 14v4M8.5 32v8M9.5 10v1M10.5 53v10M11.5 18v4M12.5 35v8M13.5 19v5M14.5 19v2M15.5 31v8M16.5 40v8M17.5 23v4M18.5 24v3M19.5 36v8M20.5 22v1M21.5 22v1M22.5 31v6M23.5 25v1M28.5 29v1M29.5 35v3M30.5 51v8M31.5 35v3M33.5 44v7M34.5 53v7M35.5 40v2M36.5 52v8M37.5 62v8M38.5 43v2M39.5 41v1M40.5 51v6M41.5 49v6M42.5 67v8M44.5 46v1M47.5 52v4M48.5 60v7M50.5 83v8M51.5 72v7M52.5 71v7M53.5 65v6M54.5 76v7M56.5 69v6M57.5 69v6M59.5 68v5M60.5 64v1M61.5 78v6M62.5 65v1M63.5 68v3M64.5 72v5M65.5 67v1M66.5 79v6M67.5 71v2M68.5 80v6M69.5 72v1M70.5 92v7M71.5 85v6M72.5 77v3M73.5 89v7M74.5 99v7M75.5 108v10M76.5 77v1M77.5 95v6M78.5 86v5M79.5 84v2M81.5 103v6M83.5 94v5M84.5 105v7M86.5 89v1M87.5 88v1M88.5 96v4M89.5 114v7M90.5 122v9M92.5 95v1M93.5 105v5M94.5 119v7M95.5 105v4M96.5 98v1M97.5 104v3M98.5 102v2M99.5 103v1M100.5 102v1M101.5 108v4M102.5 108v4M103.5 107v1M104.5 107v1M107.5 123v5M108.5 112v1M109.5 110v1M110.5 130v6M111.5 121v4M112.5 141v8M113.5 118v2M114.5 117v1M116.5 134v5M117.5 149v7M118.5 120v1M120.5 128v3M122.5 125v1M123.5 126v1M124.5 129v3M125.5 140v4M126.5 131v2M127.5 140v4M129.5 134v2M132.5 140v4M134.5 143v3M135.5 143v4M136.5 153v4M137.5 148v4M138.5 151v3M139.5 143v1M140.5 142v1M142.5 144v1M144.5 146v1M145.5 148v1M146.5 150v2M149.5 153v1M150.5 155v1M151.5 162v3M152.5 159v2M154.5 156v1M155.5 173v4M156.5 166v3M157.5 175v3M158.5 177v3M159.5 161v1M160.5 166v2M161.5 167v2M162.5 169v2M163.5 169v2M164.5 168v2M165.5 169v1M167.5 170v1M169.5 173v1M171.5 177v2M172.5 179v2M173.5 178v1M174.5 179v1M175.5 179v1M177.5 180v1M178.5 180v1M179.5 183v2M180.5 183v1M181.5 186v1M182.5 183v1M183.5 189v1M187.5 189v1M192.5 198v1M193.5 196v1M194.5 195v1M195.5 198v1M197.5 204v2M199.5 203v1M200.5 204v1M201.5 202v1" stroke="#e9919a" stroke-width="1" fill="none"/>
<path d="M0.5 59v14M1.5 102v17M2.5 18v22M3.5 7v1M4.5 8v2M5.5 8v1M6.5 18v8M7.5 12v2M8.5 20v12M10.5 25v28M11.5 16v2M12.5 22v13M13.5 17v2M14.5 18v1M15.5 24v7M16.5 26v14M17.5 21v2M18.5 22v2M19.5 27v9M22.5 28v3M26.5 28v1M27.5 28v1M29.5 33v2M30.5 37v14M31.5 34v1M32.5 34v1M33.5 39v5M34.5 41v12M35.5 39v1M36.5 42v10M37.5 44v18M38.5 42v1M40.5 46v5M41.5 46v3M42.5 49v18M43.5 44v1M47.5 51v1M48.5 54v6M49.5 51v1M50.5 57v26M51.5 57v15M52.5 58v13M53.5 58v7M54.5 60v16M55.5 56v1M56.5 61v8M57.5 62v7M59.5 64v4M60.5 63v1M61.5 67v11M63.5 67v1M64.5 69v3M66.5 71v8M67.5 70v1M68.5 73v7M70.5 76v16M71.5 76v9M72.5 76v1M73.5 78v11M74.5 80v19M75.5 82v26M77.5 82v13M78.5 83v3M79.5 83v1M81.5 87v16M82.5 83v1M83.5 88v6M84.5 90v15M88.5 93v3M89.5 95v19M90.5 97v25M92.5 94v1M93.5 98v7M94.5 100v19M95.5 100v5M97.5 102v2M98.5 101v1M99.5 102v1M101.5 106v2M102.5 107v1M103.5 106v1M105.5 106v1M106.5 108v1M107.5 112v11M108.5 111v1M110.5 116v14M111.5 116v5M112.5 119v22M113.5 117v1M115.5 116v1M116.5 122v12M117.5 124v25M119.5 121v1M120.5 125v3M124.5 128v1M125.5 130v10M126.5 130v1M127.5 132v8M128.5 130v1M129.5 133v1M132.5 137v3M133.5 135v1M134.5 139v4M135.5 140v3M136.5 142v11M137.5 142v6M138.5 143v8M139.5 142v1M143.5 144v1M147.5 149v1M149.5 152v1M150.5 154v1M151.5 156v6M152.5 157v2M153.5 155v1M155.5 161v12M156.5 161v5M157.5 163v12M158.5 164v13M160.5 165v1M161.5 165v2M162.5 167v2M163.5 168v1M165.5 168v1M169.5 172v1M170.5 172v1M171.5 176v1M172.5 177v2M173.5 177v1M174.5 178v1M175.5 178v1M176.5 178v1M181.5 185v1M183.5 188v1M186.5 188v1M188.5 191v1M190.5 191v1M192.5 197v1M197.5 202v2M199.5 202v1M200.5 203v1M202.5 205v1" stroke="#ed9ca0" stroke-width="1" fill="none"/>
<path d="M0.5 46v13M1.5 87v15M2.5 9v9M3.5 6v1M4.5 7v1M6.5 12v6M7.5 11v1M8.5 14v6M10.5 16v9M11.5 15v1M12.5 17v5M13.5 16v1M14.5 17v1M15.5 20v4M16.5 21v5M17.5 20v1M18.5 21v1M19.5 24v3M22.5 26v2M25.5 26v1M29.5 32v1M30.5 34v3M33.5 37v2M34.5 38v3M35.5 38v1M36.5 40v2M37.5 41v3M38.5 41v1M40.5 44v2M41.5 45v1M42.5 46v3M45.5 46v1M47.5 50v1M48.5 52v2M50.5 54v3M51.5 55v2M52.5 56v2M53.5 57v1M54.5 58v2M56.5 60v1M57.5 61v1M59.5 63v1M60.5 62v1M61.5 65v2M62.5 64v1M63.5 66v1M64.5 68v1M66.5 70v1M68.5 72v1M69.5 71v1M70.5 74v2M71.5 75v1M72.5 75v1M73.5 77v1M74.5 78v2M75.5 79v3M77.5 81v1M78.5 82v1M79.5 82v1M80.5 81v1M81.5 85v2M83.5 87v1M84.5 88v2M86.5 88v1M88.5 92v1M89.5 93v2M90.5 94v3M93.5 97v1M94.5 98v2M95.5 99v1M97.5 100v2M99.5 101v1M101.5 104v2M102.5 105v2M104.5 106v1M107.5 111v1M110.5 114v2M111.5 115v1M112.5 116v3M113.5 116v1M114.5 116v1M116.5 120v2M117.5 121v3M120.5 123v2M121.5 122v1M122.5 124v1M123.5 125v1M124.5 127v1M125.5 129v1M126.5 129v1M127.5 131v1M129.5 132v1M130.5 130v1M132.5 136v1M134.5 138v1M135.5 139v1M136.5 140v2M137.5 141v1M138.5 142v1M141.5 142v1M145.5 147v1M146.5 149v1M149.5 151v1M150.5 153v1M151.5 155v1M152.5 155v2M155.5 159v2M156.5 160v1M157.5 161v2M158.5 162v2M160.5 163v2M161.5 164v1M162.5 165v2M163.5 166v2M164.5 167v1M167.5 169v1M168.5 169v1M171.5 174v2M172.5 176v1M173.5 176v1M174.5 177v1M177.5 179v1M179.5 182v1M180.5 182v1M181.5 184v1M183.5 186v2M184.5 185v1M185.5 186v1M191.5 192v1M192.5 196v1M193.5 195v1M195.5 197v1M197.5 201v1" stroke="#f0a8a9" stroke-width="1" fill="none"/>
<path d="M0.5 36v10M1.5 74v13M2.5 7v2M3.5 5v1M5.5 7v1M6.5 10v2M7.5 10v1M8.5 12v2M10.5 14v2M11.5 14v1M12.5 16v1M14.5 16v1M15.5 19v1M16.5 20v1M19.5 22v2M20.5 21v1M22.5 25v1M23.5 24v1M30.5 33v1M31.5 33v1M33.5 36v1M34.5 37v1M35.5 37v1M36.5 39v1M37.5 40v1M38.5 40v1M39.5 40v1M40.5 43v1M41.5 44v1M42.5 45v1M44.5 45v1M48.5 51v1M50.5 53v1M51.5 54v1M52.5 55v1M53.5 56v1M54.5 57v1M56.5 59v1M57.5 60v1M59.5 62v1M61.5 64v1M63.5 65v1M64.5 67v1M65.5 66v1M66.5 69v1M67.5 69v1M68.5 71v1M70.5 73v1M71.5 74v1M72.5 74v1M73.5 76v1M74.5 77v1M75.5 78v1M77.5 80v1M78.5 81v1M79.5 81v1M81.5 84v1M83.5 86v1M84.5 87v1M88.5 91v1M89.5 92v1M90.5 93v1M93.5 96v1M94.5 97v1M95.5 98v1M96.5 97v1M98.5 100v1M100.5 101v1M103.5 105v1M107.5 110v1M108.5 110v1M110.5 113v1M111.5 114v1M112.5 115v1M116.5 119v1M117.5 120v1M118.5 119v1M125.5 128v1M127.5 130v1M132.5 135v1M134.5 137v1M135.5 138v1M136.5 139v1M137.5 140v1M138.5 141v1M139.5 141v1M140.5 141v1M142.5 143v1M144.5 145v1M146.5 148v1M148.5 148v1M151.5 154v1M154.5 155v1M155.5 158v1M156.5 159v1M157.5 160v1M158.5 161v1M164.5 166v1M165.5 167v1M169.5 171v1M172.5 175v1M175.5 177v1M187.5 188v1M188.5 190v1M189.5 190v1M192.5 195v1M197.5 200v1M199.5 201v1M200.5 202v1M202.5 204v1" stroke="#f2b4b3" stroke-width="1" fill="none"/>
<path d="M0.5 27v9M1.5 62v12M2.5 5v2M4.5 6v1M6.5 9v1M7.5 9v1M8.5 11v1M10.5 13v1M11.5 13v1M12.5 15v1M13.5 15v1M15.5 18v1M16.5 19v1M17.5 19v1M18.5 20v1M24.5 24v1M26.5 27v1M29.5 31v1M32.5 33v1M40.5 42v1M41.5 43v1M46.5 46v1M47.5 49v1M48.5 50v1M49.5 50v1M51.5 53v1M52.5 54v1M53.5 55v1M54.5 56v1M56.5 58v1M57.5 59v1M58.5 58v1M59.5 61v1M61.5 63v1M64.5 66v1M66.5 68v1M68.5 70v1M70.5 72v1M71.5 73v1M73.5 75v1M74.5 76v1M77.5 79v1M78.5 80v1M81.5 83v1M83.5 85v1M84.5 86v1M88.5 90v1M89.5 91v1M92.5 93v1M93.5 95v1M94.5 96v1M95.5 97v1M97.5 99v1M101.5 103v1M102.5 104v1M106.5 107v1M107.5 109v1M110.5 112v1M111.5 113v1M113.5 115v1M116.5 118v1M119.5 120v1M120.5 122v1M124.5 126v1M125.5 127v1M126.5 128v1M127.5 129v1M128.5 129v1M129.5 131v1M132.5 134v1M133.5 134v1M134.5 136v1M135.5 137v1M136.5 138v1M137.5 139v1M138.5 140v1M147.5 148v1M150.5 152v1M151.5 153v1M152.5 154v1M153.5 154v1M156.5 158v1M157.5 159v1M159.5 160v1M160.5 162v1M161.5 163v1M162.5 164v1M163.5 165v1M170.5 171v1M171.5 173v1M172.5 174v1M173.5 175v1M174.5 176v1M176.5 177v1M178.5 179v1M179.5 181v1M181.5 183v1M183.5 185v1M186.5 187v1M192.5 194v1M196.5 196v1M197.5 199v1M203.5 205v1" stroke="#f5c1bd" stroke-width="1" fill="none"/>
<path d="M0.5 19v8M1.5 52v10M9.5 9v1M12.5 14v1M15.5 17v1M16.5 18v1M19.5 21v1M22.5 24v1M30.5 32v1M33.5 35v1M34.5 36v1M36.5 38v1M37.5 39v1M42.5 44v1M50.5 52v1M60.5 61v1M62.5 63v1M69.5 70v1M75.5 77v1M85.5 85v1M86.5 87v1M90.5 92v1M91.5 91v1M99.5 100v1M104.5 105v1M112.5 114v1M114.5 115v1M117.5 119v1M122.5 123v1M123.5 124v1M131.5 131v1M145.5 146v1M155.5 157v1M158.5 160v1M166.5 166v1M167.5 168v1M177.5 178v1M195.5 196v1M198.5 198v1" stroke="#f8cdc7" stroke-width="1" fill="none"/>
<path d="M0.5 13v6M1.5 42v10M2.5 4v1M3.5 4v1M5.5 6v1M6.5 8v1M8.5 10v1M10.5 12v1M14.5 15v1M21.5 21v1M28.5 28v1M31.5 32v1M35.5 36v1M38.5 39v1M43.5 43v1M63.5 64v1M67.5 68v1M72.5 73v1M76.5 76v1M79.5 80v1M87.5 87v1M98.5 99v1M103.5 104v1M105.5 105v1M108.5 109v1M109.5 109v1M115.5 115v1M139.5 140v1M143.5 143v1M146.5 147v1M149.5 150v1M165.5 166v1M169.5 170v1M175.5 176v1M180.5 181v1M182.5 182v1M188.5 189v1M193.5 194v1M194.5 194v1M201.5 201v1" stroke="#fadad3" stroke-width="1" fill="none"/>
<path d="M0.5 8v5M1.5 17v25M4.5 5v1M7.5 8v1M11.5 12v1M13.5 14v1M17.5 18v1M18.5 19v1M27.5 27v1M29.5 30v1M33.5 34v1M34.5 35v1M36.5 37v1M40.5 41v1M41.5 42v1M42.5 43v1M47.5 48v1M48.5 49v1M50.5 51v1M51.5 52v1M52.5 53v1M53.5 54v1M54.5 55v1M55.5 55v1M56.5 57v1M57.5 58v1M59.5 60v1M61.5 62v1M64.5 65v1M66.5 67v1M68.5 69v1M70.5 71v1M71.5 72v1M73.5 74v1M74.5 75v1M75.5 76v1M77.5 78v1M78.5 79v1M80.5 80v1M81.5 82v1M82.5 82v1M83.5 84v1M84.5 85v1M88.5 89v1M89.5 90v1M90.5 91v1M93.5 94v1M94.5 95v1M95.5 96v1M97.5 98v1M101.5 102v1M102.5 103v1M107.5 108v1M110.5 111v1M111.5 112v1M112.5 113v1M113.5 114v1M116.5 117v1M120.5 121v1M124.5 125v1M125.5 126v1M126.5 127v1M127.5 128v1M129.5 130v1M132.5 133v1M134.5 135v1M135.5 136v1M136.5 137v1M137.5 138v1M138.5 139v1M150.5 151v1M151.5 152v1M152.5 153v1M155.5 156v1M156.5 157v1M157.5 158v1M158.5 159v1M160.5 161v1M161.5 162v1M162.5 163v1M163.5 164v1M164.5 165v1M171.5 172v1M172.5 173v1M173.5 174v1M174.5 175v1M179.5 180v1M181.5 182v1M183.5 184v1M190.5 190v1M192.5 193v1M197.5 198v1M199.5 200v1M200.5 201v1M202.5 203v1M203.5 204v1M204.5 205v1" stroke="#fce6e0" stroke-width="1" fill="none"/>
<path d="M0.5 0v8M1.5 1v16M2.5 2v2M3.5 3v1M4.5 4v1M5.5 5v1M6.5 6v2M7.5 7v1M8.5 8v2M10.5 10v2M11.5 11v1M12.5 12v2M13.5 13v1M14.5 14v1M15.5 15v2M16.5 16v2M17.5 17v1M18.5 18v1M19.5 19v2M20.5 20v1M22.5 22v2M23.5 23v1M25.5 25v1M26.5 26v1M29.5 29v1M30.5 30v2M31.5 31v1M32.5 32v1M33.5 33v1M34.5 34v1M35.5 35v1M36.5 36v1M37.5 37v2M38.5 38v1M39.5 39v1M40.5 40v1M41.5 41v1M42.5 42v1M44.5 44v1M45.5 45v1M47.5 47v1M48.5 48v1M49.5 49v1M50.5 50v1M51.5 51v1M52.5 52v1M53.5 53v1M54.5 54v1M56.5 56v1M57.5 57v1M59.5 59v1M60.5 60v1M61.5 61v1M62.5 62v1M63.5 63v1M64.5 64v1M65.5 65v1M66.5 66v1M67.5 67v1M68.5 68v1M69.5 69v1M70.5 70v1M71.5 71v1M72.5 72v1M73.5 73v1M74.5 74v1M75.5 75v1M77.5 77v1M78.5 78v1M79.5 79v1M81.5 81v1M83.5 83v1M84.5 84v1M86.5 86v1M88.5 88v1M89.5 89v1M90.5 90v1M92.5 92v1M93.5 93v1M94.5 94v1M95.5 95v1M96.5 96v1M97.5 97v1M98.5 98v1M99.5 99v1M100.5 100v1M101.5 101v1M102.5 102v1M103.5 103v1M104.5 104v1M106.5 106v1M107.5 107v1M108.5 108v1M110.5 110v1M111.5 111v1M112.5 112v1M113.5 113v1M114.5 114v1M116.5 116v1M117.5 117v2M118.5 118v1M119.5 119v1M120.5 120v1M121.5 121v1M122.5 122v1M123.5 123v1M124.5 124v1M125.5 125v1M126.5 126v1M127.5 127v1M128.5 128v1M129.5 129v1M132.5 132v1M133.5 133v1M134.5 134v1M135.5 135v1M136.5 136v1M137.5 137v1M138.5 138v1M139.5 139v1M140.5 140v1M141.5 141v1M142.5 142v1M144.5 144v1M145.5 145v1M146.5 146v1M147.5 147v1M149.5 149v1M150.5 150v1M151.5 151v1M152.5 152v1M153.5 153v1M154.5 154v1M155.5 155v1M156.5 156v1M157.5 157v1M158.5 158v1M159.5 159v1M160.5 160v1M161.5 161v1M162.5 162v1M163.5 163v1M164.5 164v1M165.5 165v1M167.5 167v1M168.5 168v1M169.5 169v1M170.5 170v1M171.5 171v1M172.5 172v1M173.5 173v1M174.5 174v1M175.5 175v1M176.5 176v1M177.5 177v1M178.5 178v1M179.5 179v1M180.5 180v1M181.5 181v1M183.5 183v1M184.5 184v1M185.5 185v1M186.5 186v1M187.5 187v1M188.5 188v1M189.5 189v1M191.5 191v1M192.5 192v1M193.5 193v1M195.5 195v1M197.5 197v1M199.5 199v1M200.5 200v1M202.5 202v1M203.5 203v1M204.5 204v1M205.5 205v1" stroke="#fef3ec" stroke-width="1" fill="none"/>
</g>
<path d="M0 0L-1 -1H207V207Z" fill="#450f6b" shape-rendering="geometricPrecision"/>
</g></g>
<text x="95.5" y="304.7" font-size="35.6" font-weight="bold" textLength="312.6" lengthAdjust="spacingAndGlyphs"><tspan fill="#000" stroke="#000" stroke-width="0.3">(a) </tspan><tspan fill="#e9502c" stroke="#e9502c" stroke-width="0.3">High</tspan><tspan fill="#000" stroke="#000" stroke-width="0.3"> Dispersion</tspan></text>
<g transform="translate(519.55,51.60)">
<rect x="0" y="0" width="176.64" height="176.64" fill="#3f1065"/>
<rect x="0.00" y="0.00" width="22.13" height="22.13" fill="#f7deda"/>
<rect x="0.00" y="22.08" width="22.13" height="22.13" fill="#5a1f68"/>
<rect x="22.08" y="22.08" width="22.13" height="22.13" fill="#f7deda"/>
<rect x="0.00" y="44.16" width="22.13" height="22.13" fill="#5a1f68"/>
<rect x="22.08" y="44.16" width="22.13" height="22.13" fill="#5a1f68"/>
<rect x="44.16" y="44.16" width="22.13" height="22.13" fill="#f7deda"/>
<rect x="0.00" y="66.24" width="22.13" height="22.13" fill="#5a1f68"/>
<rect x="22.08" y="66.24" width="22.13" height="22.13" fill="#5a1f68"/>
<rect x="44.16" y="66.24" width="22.13" height="22.13" fill="#f7deda"/>
<rect x="66.24" y="66.24" width="22.13" height="22.13" fill="#f7deda"/>
<rect x="0.00" y="88.32" width="22.13" height="22.13" fill="#5a1f68"/>
<rect x="22.08" y="88.32" width="22.13" height="22.13" fill="#5a1f68"/>
<rect x="44.16" y="88.32" width="22.13" height="22.13" fill="#f7deda"/>
<rect x="66.24" y="88.32" width="22.13" height="22.13" fill="#5a1f68"/>
<rect x="88.32" y="88.32" width="22.13" height="22.13" fill="#f7deda"/>
<rect x="0.00" y="110.40" width="22.13" height="22.13" fill="#5a1f68"/>
<rect x="22.08" y="110.40" width="22.13" height="22.13" fill="#5a1f68"/>
<rect x="44.16" y="110.40" width="22.13" height="22.13" fill="#f7deda"/>
<rect x="66.24" y="110.40" width="22.13" height="22.13" fill="#5a1f68"/>
<rect x="88.32" y="110.40" width="22.13" height="22.13" fill="#5a1f68"/>
<rect x="110.40" y="110.40" width="22.13" height="22.13" fill="#f7deda"/>
<rect x="0.00" y="132.48" width="22.13" height="22.13" fill="#5a1f68"/>
<rect x="22.08" y="132.48" width="22.13" height="22.13" fill="#5a1f68"/>
<rect x="44.16" y="132.48" width="22.13" height="22.13" fill="#f7deda"/>
<rect x="66.24" y="132.48" width="22.13" height="22.13" fill="#5a1f68"/>
<rect x="88.32" y="132.48" width="22.13" height="22.13" fill="#5a1f68"/>
<rect x="110.40" y="132.48" width="22.13" height="22.13" fill="#5a1f68"/>
<rect x="132.48" y="132.48" width="22.13" height="22.13" fill="#f7deda"/>
<rect x="0.00" y="154.56" width="22.13" height="22.13" fill="#5a1f68"/>
<rect x="22.08" y="154.56" width="22.13" height="22.13" fill="#5a1f68"/>
<rect x="44.16" y="154.56" width="22.13" height="22.13" fill="#f7deda"/>
<rect x="66.24" y="154.56" width="22.13" height="22.13" fill="#5a1f68"/>
<rect x="88.32" y="154.56" width="22.13" height="22.13" fill="#5a1f68"/>
<rect x="110.40" y="154.56" width="22.13" height="22.13" fill="#5a1f68"/>
<rect x="132.48" y="154.56" width="22.13" height="22.13" fill="#5a1f68"/>
<rect x="154.56" y="154.56" width="22.13" height="22.13" fill="#f7deda"/>
<path d="M0.00 0V176.64M0 0.00H176.64M22.08 0V176.64M0 22.08H176.64M44.16 0V176.64M0 44.16H176.64M66.24 0V176.64M0 66.24H176.64M88.32 0V176.64M0 88.32H176.64M110.40 0V176.64M0 110.40H176.64M132.48 0V176.64M0 132.48H176.64M154.56 0V176.64M0 154.56H176.64M176.64 0V176.64M0 176.64H176.64" stroke="#1c2653" stroke-width="0.9" fill="none" stroke-linecap="square"/>
</g>
<text x="607.5" y="256.4" font-size="32.2" text-anchor="middle" fill="black" stroke="black" stroke-width="0.45">Spatial</text>
<path d="M554.9 245.5H533.8" stroke="#e82a1c" stroke-width="3.8" fill="none"/>
<path d="M518.8 245.5L534.8 237.5V253.5Z" fill="#e82a1c"/>
<path d="M659.4 245.5H680.8" stroke="#e82a1c" stroke-width="3.8" fill="none"/>
<path d="M695.8 245.5L679.8 237.5V253.5Z" fill="#e82a1c"/>
<text transform="translate(510.5,142.8) rotate(-90)" font-size="32.2" text-anchor="middle" fill="#d6d6d6" stroke="#d6d6d6" stroke-width="0.45">Temporal</text>
<path d="M501.4 76.8V66.6" stroke="#eeeeee" stroke-width="3.8" fill="none"/>
<path d="M501.4 52.6L493.4 67.6H509.4Z" fill="#eeeeee"/>
<path d="M501.4 202.6V214.0" stroke="#eeeeee" stroke-width="3.8" fill="none"/>
<path d="M501.4 228.0L493.4 213.0H509.4Z" fill="#eeeeee"/>
<path d="M699.2 51.6H730.2" stroke="#e82a1c" stroke-width="3" stroke-dasharray="11 8" fill="none"/>
<path d="M697.8 231.2L730.4 255.6" stroke="#e82a1c" stroke-width="3" stroke-dasharray="11.2 7.6" fill="none"/>
<g transform="translate(731.7,51) scale(0.9968)" clip-path="url(#hc)"><g shape-rendering="crispEdges">
<rect x="-1" y="-1" width="208" height="208" fill="#450f6b"/>
<g filter="url(#fm)">
<rect x="-1" y="-1" width="208" height="208" fill="#561973"/>
<path d="M2.5 42v1M2.5 45v2M2.5 48v158M3.5 45v2M3.5 48v158M4.5 50v1M4.5 55v5M4.5 61v1M4.5 63v4M4.5 68v11M4.5 80v32M4.5 113v49M4.5 163v43M6.5 52v2M6.5 55v151M7.5 48v1M7.5 52v1M7.5 54v8M7.5 63v143M9.5 69v5M9.5 76v3M9.5 80v4M9.5 85v7M9.5 93v10M9.5 104v8M9.5 113v1M9.5 115v3M9.5 119v12M9.5 132v11M9.5 144v17M9.5 163v34M9.5 198v8M10.5 48v1M10.5 50v3M10.5 55v151M12.5 56v1M12.5 58v1M12.5 64v2M12.5 68v11M12.5 80v126M13.5 69v1M13.5 71v3M13.5 76v3M13.5 80v4M13.5 85v7M13.5 93v10M13.5 104v8M13.5 113v1M13.5 115v3M13.5 119v12M13.5 132v29M13.5 163v34M13.5 198v8M14.5 51v2M14.5 54v152M15.5 76v3M15.5 80v4M15.5 86v1M15.5 89v3M15.5 96v7M15.5 104v3M15.5 108v2M15.5 111v1M15.5 115v3M15.5 119v12M15.5 132v8M15.5 141v2M15.5 144v17M15.5 163v17M15.5 181v7M15.5 189v5M15.5 195v1M15.5 198v8M17.5 64v1M17.5 69v6M17.5 76v3M17.5 80v32M17.5 113v49M17.5 163v43M18.5 58v1M18.5 63v4M18.5 68v11M18.5 80v126M19.5 56v1M19.5 58v2M19.5 63v4M19.5 68v138M20.5 58v1M20.5 64v2M20.5 68v11M20.5 80v126M21.5 58v1M21.5 61v1M21.5 64v2M21.5 68v11M21.5 80v126M22.5 56v1M22.5 58v1M22.5 61v1M22.5 63v143M23.5 68v11M23.5 80v126M25.5 69v5M25.5 76v3M25.5 80v126M26.5 83v1M26.5 89v1M26.5 91v1M26.5 96v7M26.5 104v1M26.5 106v1M26.5 108v2M26.5 111v1M26.5 115v3M26.5 119v12M26.5 132v11M26.5 144v17M26.5 163v34M26.5 198v8M27.5 65v1M27.5 68v138M28.5 71v2M28.5 76v3M28.5 80v32M28.5 113v93M29.5 64v1M29.5 68v138M31.5 64v2M31.5 69v137M32.5 69v10M32.5 80v126M33.5 69v5M33.5 76v3M33.5 80v126M34.5 76v1M34.5 78v1M34.5 80v4M34.5 85v2M34.5 88v4M34.5 93v10M34.5 104v8M34.5 113v49M34.5 163v43M35.5 71v3M35.5 76v3M35.5 80v126M36.5 81v3M36.5 89v3M36.5 93v10M36.5 104v8M36.5 113v49M36.5 163v43M37.5 89v1M37.5 91v1M37.5 96v7M37.5 104v8M37.5 113v1M37.5 115v3M37.5 119v42M37.5 163v43M38.5 71v3M38.5 76v3M38.5 80v126M39.5 83v1M39.5 89v3M39.5 93v2M39.5 96v7M39.5 104v8M39.5 113v1M39.5 115v47M39.5 163v43M41.5 81v3M41.5 86v26M41.5 113v93M42.5 120v1M42.5 122v1M42.5 126v2M42.5 130v1M42.5 132v1M42.5 136v1M42.5 138v2M42.5 141v1M42.5 144v3M42.5 148v13M42.5 163v2M42.5 166v3M42.5 170v10M42.5 181v1M42.5 183v5M42.5 189v4M42.5 195v1M42.5 198v8M43.5 77v2M43.5 80v126M44.5 89v1M44.5 96v7M44.5 104v8M44.5 113v1M44.5 115v47M44.5 163v43M45.5 78v1M45.5 80v126M46.5 77v2M46.5 80v126M48.5 83v1M48.5 85v2M48.5 88v118M49.5 81v3M49.5 85v121M50.5 96v7M50.5 104v8M50.5 113v1M50.5 115v91M51.5 96v1M51.5 99v1M51.5 101v1M51.5 104v1M51.5 106v1M51.5 108v4M51.5 113v1M51.5 115v3M51.5 119v42M51.5 163v43M52.5 91v1M52.5 96v7M52.5 104v8M52.5 113v93M53.5 101v1M53.5 104v1M53.5 106v1M53.5 108v2M53.5 111v1M53.5 113v1M53.5 115v3M53.5 119v43M53.5 163v43M54.5 89v3M54.5 93v113M55.5 96v1M55.5 101v1M55.5 104v8M55.5 113v1M55.5 115v91M56.5 111v1M56.5 116v2M56.5 119v2M56.5 122v9M56.5 132v11M56.5 144v17M56.5 163v43M57.5 96v7M57.5 104v8M57.5 113v93M59.5 96v1M59.5 98v4M59.5 104v8M59.5 113v93M60.5 101v1M60.5 104v1M60.5 108v4M60.5 113v1M60.5 115v91M61.5 101v1M61.5 104v1M61.5 108v2M61.5 111v1M61.5 113v1M61.5 115v91M62.5 101v1M62.5 104v3M62.5 108v4M62.5 113v1M62.5 115v91M63.5 96v7M63.5 104v8M63.5 113v93M64.5 116v2M64.5 119v2M64.5 122v7M64.5 130v1M64.5 132v29M64.5 163v43M65.5 101v1M65.5 104v1M65.5 106v1M65.5 108v4M65.5 113v1M65.5 115v91M66.5 101v2M66.5 104v3M66.5 108v4M66.5 113v93M68.5 101v1M68.5 111v1M68.5 113v1M68.5 115v91M69.5 101v1M69.5 108v2M69.5 111v1M69.5 113v1M69.5 115v91M70.5 101v1M70.5 104v2M70.5 107v5M70.5 113v93M71.5 101v1M71.5 104v1M71.5 108v2M71.5 111v1M71.5 113v1M71.5 115v91M72.5 101v1M72.5 104v1M72.5 108v2M72.5 111v1M72.5 113v93M73.5 116v2M73.5 119v2M73.5 122v9M73.5 132v74M74.5 116v2M74.5 119v2M74.5 122v9M74.5 132v30M74.5 163v43M76.5 120v1M76.5 122v1M76.5 126v3M76.5 130v1M76.5 132v1M76.5 134v1M76.5 136v1M76.5 138v2M76.5 141v2M76.5 144v17M76.5 163v43M77.5 122v1M77.5 126v2M77.5 130v1M77.5 132v1M77.5 136v1M77.5 138v2M77.5 141v2M77.5 144v17M77.5 163v43M78.5 120v1M78.5 122v1M78.5 124v5M78.5 130v1M78.5 132v29M78.5 163v43M79.5 116v2M79.5 119v2M79.5 122v84M80.5 122v1M80.5 126v3M80.5 130v1M80.5 132v29M80.5 163v43M81.5 126v2M81.5 130v1M81.5 132v1M81.5 136v1M81.5 138v2M81.5 141v2M81.5 144v17M81.5 163v43M82.5 117v1M82.5 119v2M82.5 122v84M83.5 126v2M83.5 130v1M83.5 132v1M83.5 136v1M83.5 138v2M83.5 141v2M83.5 144v17M83.5 163v43M84.5 130v1M84.5 132v1M84.5 136v1M84.5 138v2M84.5 141v1M84.5 144v17M84.5 163v43M85.5 120v1M85.5 122v1M85.5 124v1M85.5 126v3M85.5 130v1M85.5 132v74M86.5 130v1M86.5 132v1M86.5 138v2M86.5 141v1M86.5 144v17M86.5 163v43M87.5 122v9M87.5 132v74M88.5 117v1M88.5 119v2M88.5 122v84M90.5 124v7M90.5 132v74M91.5 141v1M91.5 144v3M91.5 148v13M91.5 163v43M92.5 126v2M92.5 130v1M92.5 132v1M92.5 134v1M92.5 136v70M93.5 144v3M93.5 148v13M93.5 163v43M94.5 151v1M94.5 159v2M94.5 163v2M94.5 167v2M94.5 171v4M94.5 176v4M94.5 181v1M94.5 183v5M94.5 189v5M94.5 195v1M94.5 198v8M95.5 130v1M95.5 132v1M95.5 134v1M95.5 136v70M96.5 130v1M96.5 132v1M96.5 136v70M97.5 130v1M97.5 132v1M97.5 136v70M99.5 132v1M99.5 136v1M99.5 138v2M99.5 141v2M99.5 144v62M100.5 141v1M100.5 144v17M100.5 163v43M101.5 138v2M101.5 141v1M101.5 144v18M101.5 163v43M102.5 138v2M102.5 141v65M103.5 138v2M103.5 141v2M103.5 144v62M104.5 138v2M104.5 141v65M105.5 168v1M105.5 173v2M105.5 176v2M105.5 179v1M105.5 181v1M105.5 187v1M105.5 189v4M105.5 195v1M105.5 199v7M106.5 144v17M106.5 163v43M107.5 159v2M107.5 163v2M107.5 167v2M107.5 171v9M107.5 181v7M107.5 189v5M107.5 195v1M107.5 198v8M108.5 167v2M108.5 172v3M108.5 176v2M108.5 179v1M108.5 181v1M108.5 183v3M108.5 187v1M108.5 189v5M108.5 195v1M108.5 198v8M110.5 151v1M110.5 153v8M110.5 163v43M111.5 151v1M111.5 153v8M111.5 163v43M112.5 144v3M112.5 148v58M113.5 150v11M113.5 163v43M114.5 151v1M114.5 153v8M114.5 163v43M115.5 159v2M115.5 163v2M115.5 166v3M115.5 170v36M116.5 149v13M116.5 163v43M117.5 159v2M117.5 163v2M117.5 166v3M117.5 170v36M118.5 151v1M118.5 153v8M118.5 163v43M119.5 151v1M119.5 153v1M119.5 155v6M119.5 163v43M120.5 187v1M120.5 190v1M120.5 192v1M120.5 195v1M120.5 199v5M122.5 153v1M122.5 155v6M122.5 163v43M123.5 156v5M123.5 163v43M124.5 167v2M124.5 171v9M124.5 181v25M125.5 167v2M125.5 171v9M125.5 181v25M126.5 158v3M126.5 163v43M127.5 160v1M127.5 163v2M127.5 166v40M128.5 164v1M128.5 167v2M128.5 170v36M129.5 159v1M129.5 163v2M129.5 166v40M130.5 168v1M130.5 171v35M131.5 164v1M131.5 166v3M131.5 170v36M133.5 168v1M133.5 171v35M134.5 167v2M134.5 172v34M135.5 201v2M136.5 173v2M136.5 176v2M136.5 179v1M136.5 181v25M137.5 168v1M137.5 170v36M138.5 179v1M138.5 181v25M139.5 179v1M139.5 187v1M139.5 189v5M139.5 195v11M140.5 174v1M140.5 176v2M140.5 179v1M140.5 181v25M141.5 179v1M141.5 181v1M141.5 184v4M141.5 189v17M142.5 181v1M142.5 184v4M142.5 189v17M143.5 199v5M144.5 174v1M144.5 176v4M144.5 181v25M145.5 199v5M147.5 190v1M147.5 192v1M147.5 195v1M147.5 198v8M148.5 190v1M148.5 192v1M148.5 195v1M148.5 198v8M149.5 200v4M150.5 184v1M150.5 186v2M150.5 189v17M152.5 187v1M152.5 189v5M152.5 195v11M153.5 187v1M153.5 190v3M153.5 195v1M153.5 198v8M155.5 195v1M155.5 199v7M156.5 191v2M156.5 195v1M156.5 198v8M157.5 190v3M157.5 195v1M157.5 198v8M158.5 192v1M158.5 195v1M158.5 198v8M159.5 200v6M160.5 192v1M160.5 195v1M160.5 198v8M161.5 202v1M162.5 199v7M165.5 199v7M166.5 202v1M167.5 202v1" stroke="#591b74" stroke-width="1" fill="none"/>
<path d="M2.5 29v2M2.5 32v10M2.5 43v2M3.5 24v1M3.5 27v1M3.5 29v2M3.5 32v13M4.5 29v1M4.5 32v15M4.5 48v2M4.5 51v4M4.5 60v1M4.5 62v1M4.5 67v1M4.5 79v1M4.5 112v1M4.5 162v1M6.5 32v15M6.5 48v4M6.5 54v1M7.5 29v1M7.5 32v15M7.5 49v3M7.5 53v1M7.5 62v1M9.5 36v1M9.5 38v1M9.5 40v7M9.5 48v21M9.5 74v2M9.5 79v1M9.5 84v1M9.5 92v1M9.5 103v1M9.5 112v1M9.5 114v1M9.5 118v1M9.5 131v1M9.5 143v1M9.5 161v2M9.5 197v1M10.5 33v1M10.5 35v1M10.5 37v11M10.5 49v1M10.5 53v2M12.5 36v1M12.5 38v9M12.5 48v8M12.5 57v1M12.5 59v5M12.5 66v2M12.5 79v1M13.5 36v7M13.5 44v3M13.5 48v21M13.5 70v1M13.5 74v2M13.5 79v1M13.5 84v1M13.5 92v1M13.5 103v1M13.5 112v1M13.5 114v1M13.5 118v1M13.5 131v1M13.5 161v2M13.5 197v1M14.5 34v1M14.5 37v14M14.5 53v1M15.5 41v1M15.5 45v2M15.5 48v28M15.5 79v1M15.5 84v2M15.5 87v2M15.5 92v4M15.5 103v1M15.5 107v1M15.5 110v1M15.5 112v3M15.5 118v1M15.5 131v1M15.5 140v1M15.5 143v1M15.5 161v2M15.5 180v1M15.5 188v1M15.5 194v1M15.5 196v2M17.5 41v2M17.5 44v20M17.5 65v4M17.5 75v1M17.5 79v1M17.5 112v1M17.5 162v1M18.5 40v2M18.5 44v1M18.5 46v1M18.5 48v10M18.5 59v4M18.5 67v1M18.5 79v1M19.5 38v1M19.5 40v5M19.5 46v10M19.5 57v1M19.5 60v3M19.5 67v1M20.5 39v1M20.5 45v13M20.5 59v5M20.5 66v2M20.5 79v1M21.5 38v2M21.5 43v1M21.5 46v12M21.5 59v2M21.5 62v2M21.5 66v2M21.5 79v1M22.5 43v13M22.5 57v1M22.5 59v2M22.5 62v1M23.5 49v5M23.5 55v13M23.5 79v1M24.5 96v1M24.5 99v1M24.5 101v1M24.5 104v1M24.5 108v2M24.5 111v1M24.5 116v2M24.5 119v2M24.5 122v7M24.5 130v1M24.5 132v3M24.5 136v1M24.5 138v2M24.5 141v2M24.5 144v17M24.5 163v17M24.5 181v7M24.5 189v5M24.5 195v2M24.5 198v8M25.5 50v19M25.5 74v2M25.5 79v1M26.5 56v27M26.5 84v5M26.5 90v1M26.5 92v4M26.5 103v1M26.5 105v1M26.5 107v1M26.5 110v1M26.5 112v3M26.5 118v1M26.5 131v1M26.5 143v1M26.5 161v2M26.5 197v1M27.5 48v6M27.5 55v10M27.5 66v2M28.5 50v1M28.5 52v2M28.5 55v16M28.5 73v3M28.5 79v1M28.5 112v1M29.5 51v13M29.5 65v3M31.5 52v1M31.5 55v9M31.5 66v3M32.5 52v1M32.5 56v3M32.5 60v9M32.5 79v1M33.5 52v2M33.5 56v13M33.5 74v2M33.5 79v1M34.5 56v1M34.5 58v4M34.5 63v13M34.5 77v1M34.5 79v1M34.5 84v1M34.5 87v1M34.5 92v1M34.5 103v1M34.5 112v1M34.5 162v1M35.5 56v4M35.5 61v10M35.5 74v2M35.5 79v1M36.5 58v1M36.5 63v4M36.5 68v13M36.5 84v5M36.5 92v1M36.5 103v1M36.5 112v1M36.5 162v1M37.5 56v1M37.5 58v1M37.5 60v1M37.5 62v27M37.5 90v1M37.5 92v4M37.5 103v1M37.5 112v1M37.5 114v1M37.5 118v1M37.5 161v2M38.5 56v1M38.5 58v1M38.5 61v10M38.5 74v2M38.5 79v1M39.5 63v1M39.5 66v1M39.5 68v15M39.5 84v5M39.5 92v1M39.5 95v1M39.5 103v1M39.5 112v1M39.5 114v1M39.5 162v1M40.5 168v1M40.5 190v1M41.5 65v16M41.5 84v2M41.5 112v1M42.5 71v49M42.5 121v1M42.5 123v3M42.5 128v2M42.5 131v1M42.5 133v3M42.5 137v1M42.5 140v1M42.5 142v2M42.5 147v1M42.5 161v2M42.5 165v1M42.5 169v1M42.5 180v1M42.5 182v1M42.5 188v1M42.5 193v2M42.5 196v2M43.5 58v1M43.5 61v16M43.5 79v1M44.5 68v21M44.5 90v6M44.5 103v1M44.5 112v1M44.5 114v1M44.5 162v1M45.5 66v1M45.5 68v10M45.5 79v1M46.5 61v1M46.5 65v12M46.5 79v1M47.5 168v1M47.5 190v1M48.5 68v1M48.5 70v13M48.5 84v1M48.5 87v1M49.5 66v1M49.5 69v12M49.5 84v1M50.5 69v1M50.5 71v3M50.5 75v21M50.5 103v1M50.5 112v1M50.5 114v1M51.5 71v2M51.5 74v5M51.5 80v16M51.5 97v2M51.5 100v1M51.5 102v2M51.5 105v1M51.5 107v1M51.5 112v1M51.5 114v1M51.5 118v1M51.5 161v2M52.5 72v1M52.5 76v3M52.5 80v11M52.5 92v4M52.5 103v1M52.5 112v1M53.5 78v1M53.5 80v21M53.5 102v2M53.5 105v1M53.5 107v1M53.5 110v1M53.5 112v1M53.5 114v1M53.5 118v1M53.5 162v1M54.5 71v4M54.5 76v13M54.5 92v1M55.5 76v3M55.5 80v4M55.5 85v11M55.5 97v4M55.5 102v2M55.5 112v1M55.5 114v1M56.5 78v1M56.5 80v4M56.5 85v26M56.5 112v4M56.5 118v1M56.5 121v1M56.5 131v1M56.5 143v1M56.5 161v2M57.5 78v1M57.5 80v16M57.5 103v1M57.5 112v1M59.5 76v3M59.5 80v16M59.5 97v1M59.5 102v2M59.5 112v1M60.5 80v3M60.5 84v17M60.5 102v2M60.5 105v3M60.5 112v1M60.5 114v1M61.5 81v1M61.5 85v2M61.5 88v13M61.5 102v2M61.5 105v3M61.5 110v1M61.5 112v1M61.5 114v1M62.5 78v1M62.5 81v3M62.5 85v16M62.5 102v2M62.5 107v1M62.5 112v1M62.5 114v1M63.5 81v1M63.5 83v13M63.5 103v1M63.5 112v1M64.5 86v1M64.5 89v27M64.5 118v1M64.5 121v1M64.5 129v1M64.5 131v1M64.5 161v2M65.5 86v1M65.5 89v1M65.5 91v10M65.5 102v2M65.5 105v1M65.5 107v1M65.5 112v1M65.5 114v1M66.5 81v1M66.5 83v1M66.5 85v2M66.5 88v13M66.5 103v1M66.5 107v1M66.5 112v1M67.5 122v1M67.5 126v2M67.5 130v1M67.5 132v1M67.5 136v1M67.5 138v2M67.5 141v1M67.5 144v17M67.5 163v43M68.5 86v1M68.5 88v13M68.5 102v9M68.5 112v1M68.5 114v1M69.5 86v1M69.5 88v13M69.5 102v6M69.5 110v1M69.5 112v1M69.5 114v1M70.5 86v1M70.5 88v13M70.5 102v2M70.5 106v1M70.5 112v1M71.5 90v11M71.5 102v2M71.5 105v3M71.5 110v1M71.5 112v1M71.5 114v1M72.5 91v3M72.5 95v6M72.5 102v2M72.5 105v3M72.5 110v1M72.5 112v1M73.5 92v2M73.5 95v21M73.5 118v1M73.5 121v1M73.5 131v1M74.5 97v19M74.5 118v1M74.5 121v1M74.5 131v1M74.5 162v1M75.5 144v2M75.5 149v12M75.5 163v2M75.5 166v3M75.5 170v10M75.5 181v1M75.5 183v5M75.5 189v5M75.5 195v1M75.5 198v8M76.5 98v1M76.5 101v19M76.5 121v1M76.5 123v3M76.5 129v1M76.5 131v1M76.5 133v1M76.5 135v1M76.5 137v1M76.5 140v1M76.5 143v1M76.5 161v2M77.5 100v22M77.5 123v3M77.5 128v2M77.5 131v1M77.5 133v3M77.5 137v1M77.5 140v1M77.5 143v1M77.5 161v2M78.5 101v1M78.5 103v17M78.5 121v1M78.5 123v1M78.5 129v1M78.5 131v1M78.5 161v2M79.5 100v16M79.5 118v1M79.5 121v1M80.5 101v1M80.5 103v19M80.5 123v3M80.5 129v1M80.5 131v1M80.5 161v2M81.5 104v1M81.5 106v6M81.5 113v13M81.5 128v2M81.5 131v1M81.5 133v3M81.5 137v1M81.5 140v1M81.5 143v1M81.5 161v2M82.5 101v16M82.5 118v1M82.5 121v1M83.5 108v1M83.5 111v15M83.5 128v2M83.5 131v1M83.5 133v3M83.5 137v1M83.5 140v1M83.5 143v1M83.5 161v2M84.5 104v1M84.5 106v1M84.5 108v4M84.5 113v17M84.5 131v1M84.5 133v3M84.5 137v1M84.5 140v1M84.5 142v2M84.5 161v2M85.5 104v5M85.5 110v10M85.5 121v1M85.5 123v1M85.5 125v1M85.5 129v1M85.5 131v1M86.5 113v17M86.5 131v1M86.5 133v5M86.5 140v1M86.5 142v2M86.5 161v2M87.5 101v1M87.5 105v1M87.5 107v3M87.5 111v11M87.5 131v1M88.5 108v9M88.5 118v1M88.5 121v1M90.5 110v1M90.5 113v11M90.5 131v1M91.5 115v3M91.5 119v22M91.5 142v2M91.5 147v1M91.5 161v2M92.5 113v13M92.5 128v2M92.5 131v1M92.5 133v1M92.5 135v1M93.5 116v2M93.5 119v25M93.5 147v1M93.5 161v2M94.5 116v2M94.5 119v32M94.5 152v7M94.5 161v2M94.5 165v2M94.5 169v2M94.5 175v1M94.5 180v1M94.5 182v1M94.5 188v1M94.5 194v1M94.5 196v2M95.5 117v13M95.5 131v1M95.5 133v1M95.5 135v1M96.5 115v15M96.5 131v1M96.5 133v3M97.5 115v15M97.5 131v1M97.5 133v3M98.5 144v2M98.5 148v13M98.5 163v43M99.5 115v3M99.5 119v13M99.5 133v3M99.5 137v1M99.5 140v1M99.5 143v1M100.5 120v1M100.5 123v18M100.5 142v2M100.5 161v2M101.5 122v16M101.5 140v1M101.5 142v2M101.5 162v1M102.5 117v1M102.5 119v2M102.5 122v16M102.5 140v1M103.5 120v1M103.5 123v15M103.5 140v1M103.5 143v1M104.5 119v1M104.5 122v1M104.5 124v1M104.5 126v12M104.5 140v1M105.5 127v1M105.5 130v1M105.5 132v2M105.5 135v33M105.5 169v4M105.5 175v1M105.5 178v1M105.5 180v1M105.5 182v5M105.5 188v1M105.5 193v2M105.5 196v3M106.5 122v3M106.5 126v18M106.5 161v2M107.5 130v1M107.5 134v1M107.5 137v22M107.5 161v2M107.5 165v2M107.5 169v2M107.5 180v1M107.5 188v1M107.5 194v1M107.5 196v2M108.5 130v1M108.5 132v1M108.5 134v33M108.5 169v3M108.5 175v1M108.5 178v1M108.5 180v1M108.5 182v1M108.5 186v1M108.5 188v1M108.5 194v1M108.5 196v2M110.5 127v1M110.5 130v1M110.5 132v1M110.5 134v3M110.5 138v13M110.5 152v1M110.5 161v2M111.5 130v1M111.5 132v1M111.5 134v2M111.5 137v14M111.5 152v1M111.5 161v2M112.5 130v1M112.5 133v11M112.5 147v1M113.5 127v1M113.5 130v1M113.5 133v17M113.5 161v2M114.5 135v16M114.5 152v1M114.5 161v2M115.5 138v21M115.5 161v2M115.5 165v1M115.5 169v1M116.5 130v1M116.5 136v1M116.5 138v11M116.5 162v1M117.5 138v21M117.5 161v2M117.5 165v1M117.5 169v1M118.5 134v1M118.5 137v14M118.5 152v1M118.5 161v2M119.5 138v2M119.5 141v10M119.5 152v1M119.5 154v1M119.5 161v2M120.5 144v3M120.5 148v39M120.5 188v2M120.5 191v1M120.5 193v2M120.5 196v3M120.5 204v2M122.5 139v1M122.5 141v12M122.5 154v1M122.5 161v2M123.5 140v3M123.5 144v12M123.5 161v2M124.5 144v23M124.5 169v2M124.5 180v1M125.5 145v1M125.5 149v18M125.5 169v2M125.5 180v1M126.5 142v1M126.5 144v2M126.5 147v11M126.5 161v2M127.5 145v15M127.5 161v2M127.5 165v1M128.5 145v1M128.5 147v1M128.5 149v15M128.5 165v2M128.5 169v1M129.5 145v1M129.5 149v1M129.5 151v8M129.5 160v3M129.5 165v1M130.5 149v5M130.5 155v13M130.5 169v2M131.5 149v15M131.5 165v1M131.5 169v1M133.5 153v2M133.5 156v12M133.5 169v2M134.5 151v16M134.5 169v3M135.5 159v2M135.5 164v37M135.5 203v3M136.5 153v1M136.5 156v2M136.5 159v2M136.5 162v11M136.5 175v1M136.5 178v1M136.5 180v1M137.5 153v2M137.5 156v12M137.5 169v1M138.5 157v4M138.5 163v16M138.5 180v1M139.5 160v1M139.5 164v15M139.5 180v7M139.5 188v1M139.5 194v1M140.5 159v2M140.5 163v11M140.5 175v1M140.5 178v1M140.5 180v1M141.5 159v1M141.5 164v15M141.5 180v1M141.5 182v2M141.5 188v1M142.5 164v17M142.5 182v2M142.5 188v1M143.5 167v32M143.5 204v2M144.5 159v1M144.5 166v8M144.5 175v1M144.5 180v1M145.5 167v2M145.5 170v29M145.5 204v2M147.5 168v1M147.5 173v17M147.5 191v1M147.5 193v2M147.5 196v2M148.5 168v1M148.5 170v2M148.5 173v17M148.5 191v1M148.5 193v2M148.5 196v2M149.5 168v1M149.5 174v1M149.5 176v24M149.5 204v2M150.5 167v2M150.5 170v1M150.5 172v12M150.5 185v1M150.5 188v1M151.5 173v2M151.5 176v30M152.5 168v1M152.5 172v15M152.5 188v1M152.5 194v1M153.5 175v12M153.5 188v2M153.5 193v2M153.5 196v2M154.5 174v32M155.5 173v2M155.5 176v19M155.5 196v3M156.5 177v1M156.5 179v12M156.5 193v2M156.5 196v2M157.5 177v1M157.5 179v11M157.5 193v2M157.5 196v2M158.5 175v1M158.5 177v15M158.5 193v2M158.5 196v2M159.5 179v21M160.5 176v1M160.5 178v14M160.5 193v2M160.5 196v2M161.5 182v20M161.5 203v3M162.5 179v1M162.5 182v1M162.5 184v15M164.5 187v19M165.5 179v1M165.5 182v2M165.5 185v14M166.5 189v13M166.5 203v3M167.5 186v1M167.5 189v13M167.5 203v3M168.5 191v2M168.5 194v1M168.5 197v9M170.5 187v1M170.5 189v1M170.5 191v15M171.5 195v11M172.5 192v1M172.5 196v10M173.5 198v8M174.5 200v6M175.5 192v1M175.5 195v1M175.5 197v9M176.5 191v1M176.5 195v1M176.5 197v9M177.5 198v8M178.5 198v8M179.5 198v8M180.5 200v6M183.5 200v1M183.5 202v4M184.5 202v1M186.5 202v1M186.5 205v1M187.5 203v1M187.5 205v1M188.5 202v1M189.5 205v1" stroke="#672079" stroke-width="1" fill="none"/>
<path d="M2.5 17v2M2.5 20v8M2.5 47v1M3.5 22v2M3.5 25v2M3.5 47v1M4.5 16v1M4.5 18v2M4.5 21v7M4.5 30v1M4.5 47v1M5.5 48v1M5.5 50v3M5.5 54v8M5.5 63v143M6.5 22v1M6.5 27v1M6.5 29v2M6.5 47v1M7.5 19v1M7.5 21v1M7.5 24v4M7.5 30v1M7.5 47v1M8.5 83v1M8.5 89v1M8.5 96v4M8.5 101v1M8.5 104v1M8.5 108v2M8.5 111v1M8.5 115v3M8.5 119v12M8.5 132v8M8.5 141v2M8.5 144v17M8.5 163v34M8.5 198v8M9.5 27v1M9.5 29v2M9.5 32v4M9.5 37v1M9.5 39v1M9.5 47v1M10.5 24v2M10.5 29v2M10.5 32v1M10.5 34v1M10.5 36v1M11.5 56v1M11.5 61v1M11.5 64v2M11.5 68v11M11.5 80v126M12.5 29v2M12.5 32v4M12.5 37v1M12.5 47v1M13.5 29v2M13.5 32v4M13.5 43v1M13.5 47v1M14.5 27v1M14.5 29v5M14.5 35v2M15.5 33v1M15.5 35v6M15.5 42v3M15.5 47v1M17.5 30v1M17.5 34v7M17.5 43v1M18.5 34v1M18.5 36v4M18.5 42v2M18.5 45v1M18.5 47v1M19.5 29v1M19.5 34v4M19.5 39v1M19.5 45v1M20.5 33v1M20.5 36v3M20.5 40v5M21.5 34v4M21.5 40v3M21.5 44v2M22.5 32v1M22.5 37v6M23.5 38v1M23.5 40v3M23.5 45v4M23.5 54v1M24.5 56v1M24.5 58v38M24.5 97v2M24.5 100v1M24.5 102v2M24.5 105v3M24.5 110v1M24.5 112v4M24.5 118v1M24.5 121v1M24.5 129v1M24.5 131v1M24.5 135v1M24.5 137v1M24.5 140v1M24.5 143v1M24.5 161v2M24.5 180v1M24.5 188v1M24.5 194v1M24.5 197v1M25.5 39v1M25.5 41v1M25.5 45v5M26.5 45v2M26.5 48v1M26.5 50v6M27.5 39v3M27.5 44v4M27.5 54v1M28.5 40v1M28.5 45v5M28.5 51v1M28.5 54v1M29.5 41v1M29.5 46v5M30.5 76v3M30.5 80v126M31.5 41v1M31.5 45v7M31.5 53v2M32.5 47v1M32.5 49v3M32.5 53v3M32.5 59v1M33.5 46v1M33.5 48v1M33.5 51v1M33.5 54v2M34.5 46v1M34.5 48v1M34.5 51v5M34.5 57v1M34.5 62v1M35.5 50v6M35.5 60v1M36.5 52v6M36.5 59v4M36.5 67v1M37.5 46v1M37.5 50v6M37.5 57v1M37.5 59v1M37.5 61v1M38.5 46v1M38.5 50v6M38.5 57v1M38.5 59v2M39.5 53v1M39.5 56v1M39.5 58v5M39.5 64v2M39.5 67v1M40.5 77v2M40.5 80v88M40.5 169v21M40.5 191v15M41.5 57v2M41.5 61v4M42.5 58v1M42.5 60v2M42.5 63v8M43.5 53v5M43.5 59v2M44.5 58v3M44.5 63v5M45.5 58v2M45.5 61v5M45.5 67v1M46.5 56v1M46.5 58v2M46.5 62v3M47.5 77v2M47.5 80v4M47.5 85v83M47.5 169v21M47.5 191v15M48.5 63v1M48.5 65v3M48.5 69v1M49.5 58v2M49.5 61v1M49.5 63v3M49.5 67v2M50.5 58v1M50.5 61v2M50.5 64v5M50.5 70v1M50.5 74v1M51.5 63v4M51.5 68v3M51.5 73v1M51.5 79v1M52.5 68v4M52.5 73v3M52.5 79v1M53.5 71v7M53.5 79v1M54.5 63v1M54.5 65v1M54.5 68v3M54.5 75v1M55.5 70v1M55.5 72v1M55.5 74v2M55.5 79v1M55.5 84v1M56.5 69v1M56.5 71v7M56.5 79v1M56.5 84v1M57.5 69v1M57.5 71v2M57.5 75v3M57.5 79v1M59.5 69v7M59.5 79v1M60.5 72v3M60.5 76v4M60.5 83v1M61.5 76v3M61.5 80v1M61.5 82v3M61.5 87v1M62.5 71v1M62.5 77v1M62.5 79v2M62.5 84v1M63.5 76v5M63.5 82v1M64.5 78v1M64.5 80v6M64.5 87v2M65.5 78v1M65.5 80v4M65.5 85v1M65.5 87v2M65.5 90v1M66.5 77v2M66.5 80v1M66.5 82v1M66.5 84v1M66.5 87v1M67.5 93v1M67.5 97v25M67.5 123v3M67.5 128v2M67.5 131v1M67.5 133v3M67.5 137v1M67.5 140v1M67.5 142v2M67.5 161v2M68.5 78v1M68.5 80v4M68.5 85v1M68.5 87v1M69.5 78v1M69.5 80v6M70.5 77v1M70.5 80v4M70.5 85v1M70.5 87v1M71.5 80v4M71.5 86v4M72.5 84v7M72.5 94v1M73.5 85v2M73.5 88v4M73.5 94v1M74.5 88v1M74.5 90v7M75.5 101v1M75.5 105v7M75.5 113v31M75.5 146v3M75.5 161v2M75.5 165v1M75.5 169v1M75.5 180v1M75.5 182v1M75.5 188v1M75.5 194v1M75.5 196v2M76.5 91v7M76.5 99v2M77.5 89v1M77.5 91v9M78.5 93v1M78.5 96v5M78.5 102v1M79.5 91v9M80.5 91v1M80.5 93v1M80.5 96v5M80.5 102v1M81.5 92v1M81.5 95v2M81.5 98v6M81.5 105v1M81.5 112v1M82.5 91v5M82.5 97v4M83.5 96v12M83.5 109v2M84.5 97v2M84.5 100v4M84.5 105v1M84.5 107v1M84.5 112v1M85.5 96v2M85.5 99v5M85.5 109v1M86.5 101v1M86.5 104v9M87.5 97v1M87.5 99v2M87.5 102v3M87.5 106v1M87.5 110v1M88.5 97v1M88.5 99v9M90.5 101v1M90.5 103v2M90.5 106v4M90.5 111v2M91.5 103v4M91.5 108v2M91.5 111v4M91.5 118v1M92.5 103v4M92.5 108v5M93.5 106v2M93.5 113v3M93.5 118v1M94.5 108v8M94.5 118v1M95.5 110v2M95.5 113v4M96.5 113v2M97.5 108v3M97.5 112v3M98.5 123v21M98.5 146v2M98.5 161v2M99.5 114v1M99.5 118v1M100.5 114v6M100.5 121v2M101.5 114v8M102.5 113v4M102.5 118v1M102.5 121v1M103.5 115v1M103.5 117v3M103.5 121v2M104.5 114v1M104.5 117v2M104.5 120v1M104.5 123v1M104.5 125v1M105.5 115v1M105.5 117v1M105.5 119v8M105.5 128v2M105.5 131v1M105.5 134v1M106.5 116v2M106.5 119v2M106.5 125v1M107.5 124v2M107.5 127v3M107.5 131v3M107.5 135v2M108.5 120v1M108.5 122v1M108.5 124v6M108.5 131v1M108.5 133v1M110.5 122v1M110.5 124v2M110.5 128v2M110.5 131v1M110.5 133v1M110.5 137v1M111.5 124v6M111.5 131v1M111.5 133v1M111.5 136v1M112.5 123v7M112.5 131v2M113.5 120v1M113.5 122v1M113.5 124v3M113.5 128v2M113.5 131v2M114.5 127v8M115.5 128v10M116.5 127v3M116.5 131v5M116.5 137v1M117.5 126v1M117.5 128v10M118.5 127v1M118.5 129v5M118.5 135v2M119.5 127v1M119.5 130v1M119.5 132v1M119.5 137v1M119.5 140v1M120.5 138v6M120.5 147v1M121.5 153v8M121.5 163v43M122.5 134v1M122.5 137v2M122.5 140v1M123.5 138v2M123.5 143v1M124.5 138v1M124.5 140v4M125.5 140v5M125.5 146v3M126.5 139v3M126.5 143v1M126.5 146v1M127.5 137v2M127.5 140v5M128.5 138v1M128.5 140v1M128.5 142v3M128.5 146v1M128.5 148v1M129.5 138v1M129.5 140v1M129.5 142v3M129.5 146v3M129.5 150v1M130.5 144v5M130.5 154v1M131.5 142v1M131.5 145v4M132.5 168v1M132.5 173v7M132.5 181v25M133.5 146v7M133.5 155v1M134.5 142v1M134.5 144v7M135.5 151v1M135.5 153v1M135.5 156v3M135.5 161v3M136.5 149v1M136.5 151v2M136.5 154v2M136.5 158v1M136.5 161v1M137.5 151v1M137.5 155v1M138.5 150v1M138.5 152v5M138.5 161v2M139.5 152v5M139.5 158v2M139.5 161v3M140.5 155v2M140.5 158v1M140.5 161v2M141.5 153v2M141.5 156v3M141.5 160v4M142.5 156v8M143.5 153v1M143.5 155v12M144.5 153v1M144.5 156v3M144.5 160v6M145.5 160v7M145.5 169v1M147.5 162v4M147.5 167v1M147.5 169v4M148.5 164v4M148.5 169v1M148.5 172v1M149.5 164v1M149.5 166v2M149.5 169v5M149.5 175v1M150.5 160v1M150.5 164v1M150.5 166v1M150.5 169v1M150.5 171v1M151.5 164v1M151.5 166v7M151.5 175v1M152.5 164v4M152.5 169v3M153.5 167v2M153.5 170v1M153.5 172v3M154.5 167v7M155.5 167v6M155.5 175v1M156.5 167v1M156.5 173v4M156.5 178v1M157.5 167v1M157.5 170v2M157.5 173v4M157.5 178v1M158.5 168v1M158.5 170v1M158.5 172v3M158.5 176v1M159.5 170v1M159.5 173v6M160.5 168v1M160.5 170v6M160.5 177v1M161.5 173v9M162.5 168v1M162.5 170v1M162.5 172v7M162.5 180v2M162.5 183v1M164.5 174v1M164.5 179v4M164.5 184v3M165.5 174v1M165.5 177v2M165.5 180v2M165.5 184v1M166.5 180v9M167.5 179v2M167.5 182v4M167.5 187v2M168.5 182v1M168.5 186v5M168.5 193v1M168.5 195v2M170.5 179v1M170.5 182v5M170.5 188v1M170.5 190v1M171.5 186v1M171.5 188v7M172.5 186v6M172.5 193v3M173.5 189v9M174.5 190v10M175.5 187v5M175.5 193v2M175.5 196v1M176.5 186v5M176.5 192v3M176.5 196v1M177.5 191v2M177.5 194v4M178.5 189v9M179.5 189v9M180.5 191v1M180.5 196v4M182.5 197v9M183.5 197v3M183.5 201v1M184.5 197v1M184.5 199v2M184.5 203v3M185.5 200v1M185.5 202v4M186.5 199v2M186.5 203v2M187.5 200v3M187.5 204v1M188.5 200v2M188.5 203v3M189.5 199v6M191.5 199v2M191.5 202v4M192.5 199v5M192.5 205v1M193.5 200v1M193.5 202v1M193.5 205v1M194.5 202v1M194.5 204v2" stroke="#74267d" stroke-width="1" fill="none"/>
<path d="M2.5 15v2M2.5 19v1M2.5 31v1M3.5 9v1M3.5 13v1M3.5 15v7M3.5 31v1M4.5 17v1M4.5 20v1M4.5 31v1M5.5 29v1M5.5 32v15M5.5 49v1M5.5 53v1M5.5 62v1M6.5 17v2M6.5 20v1M6.5 23v3M6.5 31v1M7.5 17v2M7.5 20v1M7.5 22v2M7.5 31v1M8.5 46v1M8.5 48v1M8.5 50v33M8.5 84v5M8.5 90v6M8.5 100v1M8.5 102v2M8.5 105v3M8.5 110v1M8.5 112v3M8.5 118v1M8.5 131v1M8.5 140v1M8.5 143v1M8.5 161v2M8.5 197v1M9.5 18v1M9.5 23v4M10.5 26v2M10.5 31v1M11.5 37v4M11.5 42v5M11.5 48v8M11.5 57v4M11.5 62v2M11.5 66v2M11.5 79v1M12.5 19v1M12.5 22v3M12.5 27v1M12.5 31v1M13.5 23v5M13.5 31v1M14.5 19v1M14.5 23v2M14.5 26v1M15.5 29v2M15.5 32v1M15.5 34v1M16.5 69v1M16.5 71v3M16.5 76v3M16.5 80v126M17.5 27v1M17.5 29v1M17.5 32v2M18.5 33v1M18.5 35v1M19.5 30v4M20.5 29v4M20.5 34v2M21.5 29v2M21.5 32v2M22.5 35v2M23.5 36v1M23.5 39v1M23.5 43v2M24.5 41v1M24.5 45v11M24.5 57v1M25.5 37v2M25.5 40v1M25.5 43v2M26.5 38v4M26.5 44v1M26.5 47v1M26.5 49v1M27.5 38v1M27.5 42v2M28.5 37v1M28.5 39v1M28.5 41v4M29.5 37v2M29.5 40v1M29.5 42v1M29.5 44v2M30.5 51v1M30.5 53v1M30.5 55v21M30.5 79v1M31.5 37v1M31.5 39v2M31.5 42v3M32.5 40v1M32.5 43v2M32.5 46v1M33.5 41v1M33.5 44v1M33.5 49v2M34.5 40v1M34.5 44v2M34.5 47v1M34.5 49v2M35.5 41v1M35.5 45v5M36.5 46v3M36.5 50v2M37.5 47v1M37.5 49v1M38.5 44v1M38.5 47v1M39.5 51v2M39.5 54v2M39.5 57v1M40.5 58v1M40.5 61v1M40.5 63v4M40.5 68v9M40.5 79v1M41.5 51v6M41.5 59v2M42.5 52v5M42.5 59v1M42.5 62v1M43.5 47v6M44.5 51v1M44.5 53v1M44.5 56v2M44.5 61v2M45.5 51v4M45.5 56v1M45.5 60v1M46.5 50v6M46.5 57v1M46.5 60v1M47.5 65v1M47.5 68v9M47.5 79v1M47.5 84v1M48.5 58v1M48.5 61v2M48.5 64v1M49.5 56v1M49.5 60v1M49.5 62v1M50.5 56v2M50.5 59v2M50.5 63v1M51.5 58v1M51.5 61v1M51.5 67v1M52.5 62v2M52.5 65v3M53.5 68v3M54.5 58v1M54.5 62v1M54.5 66v2M55.5 63v1M55.5 69v1M55.5 71v1M55.5 73v1M56.5 66v1M56.5 68v1M56.5 70v1M57.5 66v1M57.5 68v1M57.5 70v1M57.5 73v2M59.5 66v3M60.5 70v2M60.5 75v1M61.5 70v4M61.5 79v1M62.5 72v1M62.5 74v3M64.5 72v1M64.5 74v2M64.5 77v1M64.5 79v1M65.5 77v1M65.5 79v1M65.5 84v1M66.5 71v1M66.5 79v1M67.5 80v1M67.5 82v2M67.5 88v5M67.5 94v3M68.5 75v1M68.5 77v1M68.5 79v1M68.5 84v1M69.5 75v1M69.5 77v1M69.5 87v1M70.5 78v1M70.5 84v1M71.5 77v2M71.5 84v2M72.5 78v1M72.5 80v4M73.5 78v1M73.5 80v5M73.5 87v1M74.5 81v2M74.5 84v4M74.5 89v1M75.5 93v1M75.5 95v6M75.5 102v3M75.5 112v1M76.5 81v1M76.5 85v2M76.5 88v3M77.5 81v1M77.5 86v1M77.5 88v1M77.5 90v1M78.5 86v1M78.5 88v2M78.5 91v2M78.5 94v2M79.5 85v1M79.5 90v1M80.5 88v1M80.5 90v1M80.5 92v1M80.5 94v2M81.5 89v3M81.5 93v2M81.5 97v1M82.5 88v2M82.5 96v1M84.5 92v2M84.5 96v1M84.5 99v1M85.5 92v2M85.5 95v1M85.5 98v1M86.5 98v3M86.5 102v2M87.5 92v1M87.5 96v1M87.5 98v1M88.5 91v1M88.5 93v1M88.5 98v1M90.5 100v1M90.5 102v1M90.5 105v1M91.5 100v2M91.5 107v1M91.5 110v1M92.5 101v1M92.5 107v1M93.5 100v1M93.5 103v2M93.5 109v4M94.5 100v8M95.5 101v1M95.5 103v4M95.5 108v2M96.5 103v2M96.5 106v1M96.5 108v5M97.5 103v3M97.5 107v1M97.5 111v1M98.5 115v8M99.5 105v2M99.5 108v6M100.5 113v1M101.5 108v1M101.5 110v4M102.5 110v1M103.5 110v1M103.5 112v3M103.5 116v1M104.5 113v1M104.5 115v2M104.5 121v1M105.5 113v1M105.5 116v1M105.5 118v1M106.5 113v3M106.5 118v1M106.5 121v1M107.5 115v1M107.5 117v7M107.5 126v1M108.5 116v4M108.5 121v1M108.5 123v1M110.5 118v4M110.5 123v1M110.5 126v1M111.5 117v3M111.5 122v2M112.5 117v1M112.5 119v1M112.5 121v2M113.5 117v3M113.5 123v1M114.5 123v3M115.5 122v6M116.5 122v1M116.5 124v2M117.5 122v4M117.5 127v1M118.5 124v3M118.5 128v1M119.5 124v1M119.5 128v1M119.5 133v4M120.5 128v1M120.5 130v1M120.5 133v5M121.5 138v1M121.5 141v12M121.5 161v2M122.5 127v2M122.5 130v1M122.5 132v2M122.5 135v2M123.5 127v2M123.5 131v2M123.5 134v4M124.5 134v2M124.5 139v1M125.5 137v3M126.5 134v1M126.5 137v2M127.5 134v3M127.5 139v1M128.5 139v1M128.5 141v1M129.5 139v1M129.5 141v1M130.5 138v1M130.5 140v1M130.5 142v1M131.5 140v2M131.5 143v2M132.5 156v1M132.5 158v10M132.5 169v4M132.5 180v1M133.5 142v4M134.5 138v4M134.5 143v1M135.5 145v1M135.5 147v1M135.5 149v2M135.5 152v1M135.5 154v2M136.5 144v5M136.5 150v1M137.5 144v1M137.5 146v1M137.5 148v2M137.5 152v1M138.5 145v2M138.5 148v2M138.5 151v1M139.5 147v2M139.5 151v1M139.5 157v1M140.5 149v3M140.5 153v2M140.5 157v1M141.5 149v4M141.5 155v1M142.5 147v1M142.5 149v1M142.5 153v2M143.5 150v2M143.5 154v1M144.5 152v1M144.5 155v1M145.5 153v1M145.5 156v2M145.5 159v1M147.5 156v1M147.5 159v1M147.5 161v1M147.5 166v1M148.5 156v1M148.5 158v6M149.5 160v1M149.5 162v1M149.5 165v1M150.5 156v1M150.5 159v1M150.5 161v3M150.5 165v1M151.5 156v1M151.5 159v5M151.5 165v1M152.5 158v3M152.5 162v1M153.5 165v1M153.5 171v1M154.5 160v1M154.5 164v3M155.5 160v2M155.5 164v3M156.5 168v4M157.5 165v1M157.5 168v1M157.5 172v1M158.5 166v1M158.5 169v1M158.5 171v1M159.5 166v3M159.5 171v2M160.5 164v2M160.5 167v1M161.5 168v5M162.5 167v1M163.5 198v8M164.5 170v1M164.5 173v1M164.5 176v3M164.5 183v1M165.5 168v1M165.5 170v1M165.5 172v2M165.5 175v2M166.5 174v1M166.5 177v3M167.5 174v3M167.5 181v1M168.5 178v3M168.5 183v3M170.5 177v2M170.5 180v2M171.5 179v1M171.5 182v1M171.5 187v1M172.5 180v6M173.5 179v4M173.5 184v1M173.5 186v3M174.5 180v1M174.5 182v8M175.5 180v1M175.5 182v2M175.5 186v1M176.5 180v1M177.5 185v2M177.5 188v3M177.5 193v1M178.5 182v1M178.5 186v1M179.5 186v2M180.5 186v2M180.5 189v2M180.5 192v4M182.5 187v1M182.5 189v8M183.5 191v1M183.5 194v3M184.5 196v1M184.5 198v1M184.5 201v1M185.5 191v2M185.5 195v5M185.5 201v1M186.5 196v2M186.5 201v1M187.5 198v2M188.5 195v1M188.5 197v3M189.5 195v1M189.5 197v2M191.5 197v1M191.5 201v1M192.5 197v1M192.5 204v1M193.5 201v1M193.5 203v2M194.5 199v2M194.5 203v1M195.5 202v2M195.5 205v1M196.5 204v1M197.5 203v3M199.5 203v1" stroke="#822c81" stroke-width="1" fill="none"/>
<path d="M2.5 7v1M2.5 9v2M2.5 13v1M3.5 10v1M3.5 14v1M4.5 10v2M4.5 15v1M5.5 22v1M5.5 24v4M5.5 30v1M5.5 47v1M6.5 15v1M6.5 19v1M6.5 21v1M6.5 26v1M7.5 16v1M8.5 34v1M8.5 36v10M8.5 49v1M9.5 16v2M9.5 20v1M9.5 22v1M9.5 31v1M10.5 16v1M10.5 19v1M10.5 21v1M10.5 23v1M11.5 30v1M11.5 33v4M11.5 41v1M11.5 47v1M12.5 16v3M12.5 20v1M12.5 25v2M12.5 28v1M13.5 19v2M14.5 21v1M14.5 25v1M14.5 28v1M15.5 24v3M15.5 28v1M15.5 31v1M16.5 45v2M16.5 48v21M16.5 70v1M16.5 74v2M16.5 79v1M17.5 23v2M17.5 31v1M18.5 24v1M18.5 29v1M18.5 32v1M19.5 23v1M19.5 27v2M21.5 27v1M21.5 31v1M22.5 33v2M23.5 29v1M23.5 32v1M23.5 35v1M23.5 37v1M24.5 34v1M24.5 36v5M24.5 42v3M25.5 34v3M25.5 42v1M26.5 36v2M26.5 42v2M27.5 32v2M27.5 35v3M28.5 35v2M28.5 38v1M29.5 36v1M29.5 39v1M29.5 43v1M30.5 44v1M30.5 46v5M30.5 52v1M30.5 54v1M32.5 42v1M32.5 48v1M33.5 42v1M33.5 45v1M33.5 47v1M34.5 38v2M34.5 41v1M34.5 43v1M35.5 38v3M35.5 44v1M36.5 41v1M36.5 45v1M36.5 49v1M37.5 41v1M37.5 44v2M37.5 48v1M38.5 45v1M38.5 48v2M39.5 49v2M40.5 53v1M40.5 56v2M40.5 59v2M40.5 62v1M40.5 67v1M42.5 46v1M42.5 57v1M44.5 52v1M44.5 55v1M45.5 57v1M47.5 56v1M47.5 60v4M47.5 66v2M48.5 55v1M48.5 57v1M48.5 60v1M49.5 52v1M49.5 54v1M49.5 57v1M50.5 53v1M50.5 55v1M51.5 56v1M51.5 60v1M51.5 62v1M52.5 61v1M53.5 61v1M53.5 63v1M53.5 65v3M54.5 59v2M54.5 64v1M55.5 61v2M55.5 65v4M56.5 60v1M56.5 62v1M56.5 64v2M56.5 67v1M57.5 63v1M57.5 65v1M59.5 63v1M59.5 65v1M60.5 65v2M60.5 69v1M61.5 74v2M62.5 65v1M62.5 69v2M62.5 73v1M63.5 71v2M63.5 75v1M64.5 69v3M64.5 73v1M64.5 76v1M65.5 72v1M65.5 75v1M66.5 70v1M66.5 74v3M67.5 78v2M67.5 81v1M67.5 85v3M68.5 72v3M68.5 76v1M69.5 74v1M69.5 76v1M69.5 79v1M70.5 76v1M70.5 79v1M71.5 76v1M72.5 76v1M72.5 79v1M73.5 77v1M73.5 79v1M74.5 78v1M74.5 80v1M75.5 90v3M75.5 94v1M76.5 80v1M76.5 84v1M76.5 87v1M77.5 80v1M77.5 84v2M78.5 83v1M78.5 85v1M78.5 90v1M79.5 83v1M80.5 85v1M80.5 87v1M80.5 89v1M81.5 86v2M82.5 87v1M82.5 90v1M83.5 89v1M83.5 92v2M83.5 95v1M84.5 88v1M84.5 91v1M84.5 94v2M85.5 90v2M85.5 94v1M86.5 92v1M86.5 95v3M87.5 93v1M87.5 95v1M88.5 92v1M88.5 95v2M90.5 95v5M91.5 97v3M91.5 102v1M92.5 96v2M92.5 99v2M92.5 102v1M93.5 101v1M93.5 105v1M93.5 108v1M94.5 98v1M95.5 112v1M96.5 101v1M96.5 105v1M96.5 107v1M97.5 102v1M97.5 106v1M98.5 107v1M98.5 109v1M98.5 112v3M99.5 103v1M99.5 107v1M100.5 105v2M100.5 110v1M101.5 105v1M102.5 107v1M102.5 109v1M102.5 111v2M103.5 108v1M103.5 111v1M104.5 109v1M104.5 111v1M105.5 112v1M105.5 114v1M107.5 116v1M108.5 113v3M110.5 115v3M111.5 115v1M111.5 120v1M112.5 120v1M113.5 121v1M114.5 118v2M114.5 122v1M114.5 126v1M115.5 120v1M116.5 123v1M116.5 126v1M117.5 120v2M118.5 121v3M119.5 123v1M119.5 125v1M119.5 129v1M119.5 131v1M120.5 126v2M120.5 131v2M121.5 132v1M121.5 136v1M121.5 139v2M122.5 124v3M122.5 131v1M123.5 130v1M123.5 133v1M124.5 131v1M124.5 136v1M125.5 132v1M125.5 134v3M126.5 130v1M126.5 133v1M127.5 130v3M128.5 134v1M128.5 136v1M129.5 135v3M130.5 141v1M130.5 143v1M131.5 136v1M131.5 138v1M132.5 148v2M132.5 151v5M132.5 157v1M133.5 138v1M133.5 140v2M135.5 142v2M135.5 148v1M136.5 141v2M137.5 140v1M137.5 145v1M137.5 147v1M137.5 150v1M138.5 144v1M138.5 147v1M139.5 145v1M139.5 149v2M140.5 147v2M140.5 152v1M142.5 146v1M142.5 151v2M142.5 155v1M143.5 146v4M143.5 152v1M144.5 149v1M144.5 151v1M144.5 154v1M145.5 154v1M145.5 158v1M146.5 187v1M146.5 189v17M147.5 153v2M147.5 157v2M147.5 160v1M148.5 153v3M148.5 157v1M149.5 153v1M149.5 159v1M149.5 161v1M149.5 163v1M150.5 153v1M151.5 158v1M152.5 156v2M152.5 161v1M152.5 163v1M153.5 161v2M153.5 164v1M153.5 166v1M153.5 169v1M154.5 159v1M154.5 161v3M155.5 159v1M155.5 162v2M156.5 164v2M156.5 172v1M157.5 162v1M157.5 166v1M157.5 169v1M158.5 163v3M158.5 167v1M159.5 165v1M159.5 169v1M160.5 163v1M160.5 166v1M160.5 169v1M161.5 164v1M162.5 166v1M162.5 169v1M162.5 171v1M163.5 179v1M163.5 182v16M164.5 172v1M164.5 175v1M165.5 171v1M166.5 173v1M167.5 172v1M167.5 177v2M168.5 174v2M168.5 177v1M168.5 181v1M170.5 173v4M171.5 180v2M171.5 183v1M171.5 185v1M172.5 178v2M173.5 183v1M173.5 185v1M174.5 179v1M175.5 184v2M176.5 182v3M177.5 187v1M178.5 187v2M179.5 182v1M179.5 185v1M179.5 188v1M180.5 185v1M181.5 197v9M182.5 186v1M182.5 188v1M183.5 189v1M183.5 192v1M184.5 191v1M184.5 194v2M185.5 189v1M185.5 194v1M186.5 190v1M186.5 194v1M186.5 198v1M187.5 195v1M187.5 197v1M189.5 194v1M189.5 196v1M191.5 198v1M192.5 198v1M193.5 198v2M194.5 201v1M195.5 200v2M195.5 204v1M196.5 200v1M196.5 202v2M196.5 205v1M197.5 200v1M197.5 202v1M199.5 204v2" stroke="#933684" stroke-width="1" fill="none"/>
<path d="M2.5 11v1M2.5 14v1M2.5 28v1M3.5 7v1M4.5 12v2M4.5 28v1M5.5 16v6M5.5 23v1M5.5 31v1M6.5 28v1M7.5 10v1M7.5 13v3M7.5 28v1M8.5 23v1M8.5 25v3M8.5 29v2M8.5 32v2M8.5 35v1M8.5 47v1M9.5 13v1M9.5 19v1M9.5 28v1M10.5 17v1M10.5 20v1M10.5 22v1M10.5 28v1M11.5 24v3M11.5 29v1M11.5 32v1M12.5 21v1M13.5 16v3M13.5 21v2M13.5 28v1M14.5 17v1M14.5 20v1M14.5 22v1M15.5 19v1M15.5 23v1M15.5 27v1M16.5 32v1M16.5 35v1M16.5 37v8M16.5 47v1M17.5 21v1M17.5 25v1M18.5 23v1M18.5 25v1M18.5 27v1M18.5 30v2M19.5 24v1M19.5 26v1M20.5 24v1M20.5 26v1M20.5 28v1M21.5 23v1M21.5 26v1M21.5 28v1M22.5 28v2M23.5 34v1M24.5 32v2M24.5 35v1M25.5 29v4M26.5 34v1M30.5 38v4M30.5 43v1M30.5 45v1M31.5 35v2M31.5 38v1M32.5 36v1M32.5 39v1M32.5 41v1M32.5 45v1M33.5 37v1M33.5 39v2M34.5 37v1M35.5 37v1M35.5 43v1M36.5 42v1M36.5 44v1M37.5 40v1M37.5 43v1M38.5 42v1M39.5 45v3M40.5 50v3M40.5 54v1M41.5 45v2M41.5 50v1M42.5 51v1M43.5 46v1M44.5 48v1M44.5 54v1M45.5 49v2M45.5 55v1M47.5 52v1M47.5 54v1M47.5 57v3M47.5 64v1M48.5 53v1M48.5 56v1M48.5 59v1M49.5 53v1M51.5 54v1M51.5 59v1M52.5 56v1M52.5 58v2M52.5 64v1M53.5 62v1M54.5 61v1M55.5 60v1M55.5 64v1M56.5 58v1M56.5 61v1M56.5 63v1M57.5 62v1M57.5 67v1M59.5 64v1M60.5 68v1M61.5 65v2M61.5 69v1M62.5 68v1M63.5 69v2M63.5 73v2M65.5 71v1M65.5 73v1M65.5 76v1M66.5 69v1M66.5 72v2M67.5 76v2M67.5 84v1M68.5 70v2M69.5 71v2M70.5 72v1M70.5 74v2M71.5 75v1M71.5 79v1M72.5 77v1M73.5 76v1M74.5 83v1M75.5 81v1M75.5 83v1M75.5 85v2M75.5 88v2M76.5 82v2M77.5 82v2M77.5 87v1M78.5 82v1M78.5 84v1M79.5 82v1M79.5 86v1M79.5 88v2M80.5 83v1M80.5 86v1M81.5 85v1M81.5 88v1M82.5 85v2M83.5 91v1M83.5 94v1M84.5 90v1M85.5 88v1M86.5 91v1M86.5 93v1M87.5 91v1M87.5 94v1M88.5 94v1M89.5 160v1M89.5 163v2M89.5 167v2M89.5 170v10M89.5 181v25M90.5 94v1M92.5 95v1M92.5 98v1M93.5 97v1M93.5 99v1M94.5 99v1M95.5 99v1M95.5 102v1M95.5 107v1M96.5 99v2M97.5 101v1M98.5 104v3M98.5 108v1M98.5 111v1M99.5 104v1M100.5 103v1M100.5 107v1M100.5 111v2M101.5 106v2M101.5 109v1M102.5 104v2M102.5 108v1M103.5 106v1M104.5 108v1M104.5 112v1M105.5 110v1M108.5 112v1M110.5 114v1M111.5 114v1M111.5 121v1M112.5 116v1M112.5 118v1M113.5 116v1M114.5 121v1M115.5 117v1M115.5 121v1M116.5 119v2M118.5 120v1M119.5 126v1M120.5 123v1M120.5 125v1M120.5 129v1M121.5 127v1M121.5 130v1M121.5 134v2M121.5 137v1M122.5 129v1M123.5 126v1M124.5 128v1M124.5 130v1M124.5 137v1M127.5 129v1M127.5 133v1M128.5 130v1M128.5 135v1M128.5 137v1M129.5 134v1M130.5 135v2M131.5 139v1M132.5 142v2M132.5 145v3M132.5 150v1M134.5 137v1M135.5 139v1M135.5 144v1M135.5 146v1M136.5 139v1M136.5 143v1M137.5 142v2M138.5 140v4M139.5 143v1M139.5 146v1M140.5 143v1M141.5 145v4M142.5 145v1M142.5 148v1M142.5 150v1M143.5 145v1M144.5 147v1M144.5 150v1M145.5 149v1M145.5 151v2M145.5 155v1M146.5 167v2M146.5 170v17M146.5 188v1M148.5 152v1M149.5 156v1M149.5 158v1M151.5 153v3M153.5 158v3M153.5 163v1M154.5 158v1M155.5 158v1M156.5 162v1M157.5 161v1M157.5 164v1M158.5 162v1M159.5 162v3M160.5 162v1M161.5 165v1M161.5 167v1M163.5 174v1M163.5 177v1M163.5 180v2M164.5 168v2M164.5 171v1M165.5 167v1M165.5 169v1M166.5 170v1M166.5 175v2M167.5 170v2M168.5 176v1M169.5 190v1M169.5 195v1M169.5 197v9M171.5 175v1M171.5 184v1M172.5 175v1M172.5 177v1M173.5 178v1M174.5 181v1M175.5 179v1M175.5 181v1M176.5 185v1M177.5 182v1M177.5 184v1M178.5 180v1M178.5 184v1M180.5 184v1M180.5 188v1M181.5 194v3M183.5 188v1M183.5 190v1M183.5 193v1M184.5 187v2M184.5 192v1M185.5 188v1M185.5 190v1M185.5 193v1M186.5 191v3M186.5 195v1M187.5 191v1M187.5 194v1M188.5 193v1M188.5 196v1M189.5 191v3M190.5 200v6M191.5 195v2M192.5 195v2M193.5 197v1M194.5 197v1M195.5 199v1M196.5 199v1M197.5 201v1M198.5 202v4M200.5 203v1M201.5 205v1M202.5 205v1" stroke="#a44087" stroke-width="1" fill="none"/>
<path d="M2.5 8v1M2.5 12v1M3.5 8v1M3.5 11v1M3.5 28v1M4.5 7v1M4.5 9v1M4.5 14v1M5.5 15v1M6.5 11v2M6.5 16v1M7.5 12v1M8.5 19v1M8.5 24v1M8.5 31v1M9.5 14v2M9.5 21v1M10.5 13v1M10.5 15v1M10.5 18v1M11.5 20v1M11.5 23v1M11.5 31v1M14.5 18v1M15.5 20v1M16.5 24v1M16.5 29v2M16.5 33v2M16.5 36v1M17.5 19v1M17.5 26v1M17.5 28v1M18.5 22v1M19.5 25v1M20.5 23v1M20.5 25v1M20.5 27v1M21.5 25v1M22.5 27v1M22.5 30v2M24.5 29v3M26.5 30v1M26.5 32v2M26.5 35v1M28.5 34v1M29.5 32v1M29.5 34v2M30.5 37v1M30.5 42v1M31.5 34v1M32.5 38v1M33.5 38v1M33.5 43v1M34.5 42v1M35.5 42v1M36.5 38v1M37.5 42v1M38.5 40v2M38.5 43v1M39.5 44v1M40.5 46v1M40.5 55v1M41.5 47v2M42.5 48v1M42.5 50v1M45.5 47v2M47.5 51v1M47.5 53v1M47.5 55v1M48.5 51v1M49.5 51v1M49.5 55v1M50.5 52v1M50.5 54v1M51.5 53v1M51.5 57v1M52.5 60v1M53.5 56v1M53.5 58v1M53.5 60v1M53.5 64v1M54.5 56v1M57.5 61v1M57.5 64v1M59.5 62v1M60.5 62v3M61.5 67v2M62.5 66v1M63.5 65v1M65.5 69v1M66.5 68v1M67.5 72v1M69.5 73v1M71.5 74v1M73.5 75v1M74.5 77v1M74.5 79v1M75.5 80v1M75.5 87v1M76.5 78v1M79.5 81v1M79.5 87v1M80.5 84v1M82.5 84v1M83.5 88v1M84.5 86v1M84.5 89v1M85.5 89v1M86.5 94v1M87.5 89v1M88.5 90v1M89.5 126v34M89.5 161v2M89.5 165v2M89.5 169v1M89.5 180v1M90.5 93v1M91.5 95v2M92.5 94v1M93.5 98v1M93.5 102v1M94.5 97v1M96.5 102v1M97.5 100v1M98.5 101v1M98.5 103v1M98.5 110v1M99.5 102v1M100.5 104v1M100.5 108v2M101.5 103v1M102.5 106v1M103.5 105v1M103.5 107v1M103.5 109v1M104.5 110v1M105.5 108v1M105.5 111v1M106.5 109v4M107.5 113v1M108.5 111v1M110.5 113v1M111.5 113v1M111.5 116v1M112.5 115v1M113.5 115v1M114.5 117v1M114.5 120v1M115.5 119v1M116.5 121v1M119.5 122v1M120.5 122v1M120.5 124v1M121.5 126v1M121.5 128v2M121.5 131v1M121.5 133v1M123.5 125v1M123.5 129v1M124.5 127v1M124.5 129v1M124.5 132v2M125.5 128v1M125.5 130v1M125.5 133v1M126.5 135v2M128.5 133v1M129.5 133v1M130.5 134v1M130.5 139v1M131.5 134v1M131.5 137v1M132.5 138v1M132.5 144v1M133.5 139v1M134.5 136v1M135.5 138v1M135.5 140v2M136.5 140v1M139.5 142v1M141.5 143v1M144.5 146v1M145.5 147v1M145.5 150v1M146.5 159v4M146.5 164v3M146.5 169v1M147.5 155v1M150.5 154v2M150.5 157v2M151.5 157v1M152.5 154v1M153.5 156v1M154.5 156v2M155.5 157v1M156.5 161v1M156.5 166v1M157.5 163v1M158.5 161v1M161.5 163v1M161.5 166v1M162.5 164v2M163.5 170v1M163.5 173v1M163.5 176v1M163.5 178v1M166.5 168v1M166.5 172v1M167.5 173v1M168.5 172v2M169.5 182v1M169.5 186v2M169.5 189v1M169.5 191v4M169.5 196v1M171.5 176v1M171.5 178v1M172.5 174v1M172.5 176v1M173.5 176v2M176.5 179v1M176.5 181v1M177.5 180v2M178.5 183v1M178.5 185v1M179.5 184v1M180.5 182v1M181.5 187v1M181.5 189v5M183.5 187v1M184.5 193v1M185.5 187v1M186.5 189v1M187.5 192v1M187.5 196v1M188.5 194v1M190.5 197v1M190.5 199v1M194.5 196v1M194.5 198v1M195.5 197v1M199.5 202v1M200.5 205v1M201.5 204v1M202.5 204v1" stroke="#b44c89" stroke-width="1" fill="none"/>
<path d="M2.5 4v1M5.5 8v4M5.5 13v2M5.5 28v1M7.5 9v1M8.5 22v1M9.5 12v1M10.5 14v1M11.5 17v1M11.5 19v1M11.5 27v1M14.5 16v1M15.5 17v1M16.5 23v1M16.5 26v2M16.5 31v1M17.5 20v1M17.5 22v1M18.5 28v1M19.5 21v2M21.5 24v1M23.5 30v2M23.5 33v1M25.5 28v1M26.5 31v1M28.5 32v1M29.5 31v1M30.5 35v1M32.5 37v1M36.5 40v1M37.5 39v1M39.5 43v1M39.5 48v1M40.5 45v1M40.5 47v2M41.5 49v1M42.5 47v1M42.5 49v1M43.5 45v1M44.5 46v1M44.5 49v2M47.5 50v1M48.5 52v1M51.5 55v1M52.5 57v1M55.5 58v1M57.5 60v1M60.5 67v1M61.5 63v1M63.5 66v3M64.5 68v1M65.5 74v1M70.5 71v1M71.5 73v1M72.5 74v1M75.5 78v1M75.5 82v1M78.5 80v2M78.5 87v1M79.5 84v1M83.5 86v1M83.5 90v1M86.5 89v1M89.5 111v1M89.5 115v11M90.5 92v1M91.5 94v1M93.5 96v1M94.5 96v1M95.5 100v1M98.5 102v1M99.5 101v1M101.5 104v1M102.5 103v1M105.5 109v1M107.5 114v1M109.5 156v5M109.5 163v43M112.5 114v1M114.5 116v1M115.5 118v1M117.5 119v1M118.5 119v1M121.5 124v2M123.5 124v1M125.5 127v1M125.5 129v1M125.5 131v1M127.5 128v1M129.5 131v1M131.5 135v1M132.5 139v3M133.5 136v1M136.5 138v1M137.5 141v1M140.5 144v3M144.5 148v1M146.5 156v3M146.5 163v1M147.5 149v1M147.5 151v1M148.5 151v1M149.5 154v1M149.5 157v1M152.5 155v1M153.5 157v1M156.5 159v1M158.5 159v1M159.5 161v1M163.5 169v1M163.5 175v1M164.5 166v1M166.5 169v1M167.5 169v1M168.5 170v1M169.5 180v1M169.5 183v3M169.5 188v1M171.5 174v1M171.5 177v1M176.5 178v1M179.5 183v1M181.5 188v1M182.5 184v2M183.5 185v2M184.5 186v1M184.5 189v2M187.5 189v1M187.5 193v1M188.5 190v3M190.5 196v1M190.5 198v1M191.5 194v1M192.5 194v1M196.5 198v1M197.5 199v1M198.5 200v1M200.5 202v1M200.5 204v1M201.5 203v1" stroke="#c3588a" stroke-width="1" fill="none"/>
<path d="M2.5 5v2M3.5 12v1M4.5 5v1M4.5 8v1M5.5 12v1M6.5 8v1M6.5 13v2M7.5 11v1M8.5 21v1M8.5 28v1M11.5 21v2M11.5 28v1M15.5 18v1M15.5 21v2M16.5 20v2M16.5 25v1M16.5 28v1M18.5 26v1M22.5 25v2M23.5 25v1M24.5 27v1M25.5 33v1M27.5 29v1M27.5 31v1M27.5 34v1M28.5 31v1M28.5 33v1M30.5 32v1M30.5 34v1M30.5 36v1M32.5 35v1M33.5 35v1M34.5 36v1M36.5 39v1M36.5 43v1M37.5 38v1M38.5 39v1M40.5 43v2M41.5 43v1M45.5 46v1M46.5 49v1M50.5 51v1M51.5 52v1M52.5 55v1M53.5 59v1M54.5 57v1M55.5 57v1M57.5 58v1M59.5 61v1M62.5 67v1M64.5 66v1M65.5 68v1M67.5 71v1M67.5 74v2M70.5 73v1M71.5 72v1M74.5 76v1M75.5 84v1M77.5 78v2M79.5 80v1M80.5 81v2M83.5 87v1M84.5 87v1M85.5 87v1M86.5 90v1M87.5 90v1M89.5 104v7M89.5 112v3M90.5 91v1M91.5 93v1M92.5 93v1M98.5 100v1M104.5 105v1M104.5 107v1M107.5 112v1M109.5 138v18M109.5 161v2M116.5 117v2M119.5 121v1M126.5 132v1M128.5 132v1M129.5 132v1M130.5 132v2M130.5 137v1M132.5 136v1M139.5 144v1M141.5 142v1M141.5 144v1M146.5 151v1M146.5 153v1M146.5 155v1M152.5 153v1M156.5 160v1M156.5 163v1M157.5 160v1M163.5 167v2M163.5 171v1M164.5 167v1M169.5 174v4M169.5 179v1M169.5 181v1M170.5 172v1M171.5 173v1M173.5 174v1M174.5 175v4M175.5 176v3M178.5 179v1M179.5 181v1M180.5 183v1M181.5 186v1M185.5 186v1M186.5 187v1M187.5 190v1M190.5 195v1M191.5 192v2M193.5 196v1M196.5 201v1M199.5 200v2" stroke="#d0648a" stroke-width="1" fill="none"/>
<path d="M1.5 72v1M1.5 76v3M1.5 80v126M6.5 9v2M8.5 14v2M8.5 17v2M8.5 20v1M11.5 16v1M11.5 18v1M12.5 14v2M16.5 19v1M17.5 18v1M18.5 20v1M22.5 23v2M24.5 26v1M24.5 28v1M26.5 28v1M28.5 30v1M29.5 33v1M30.5 33v1M31.5 32v1M39.5 40v1M40.5 49v1M42.5 45v1M44.5 47v1M46.5 48v1M48.5 54v1M49.5 50v1M52.5 53v1M53.5 55v1M53.5 57v1M54.5 55v1M55.5 56v1M56.5 59v1M58.5 202v1M62.5 64v1M64.5 65v1M65.5 70v1M72.5 75v1M76.5 77v1M76.5 79v1M81.5 83v2M84.5 85v1M86.5 88v1M89.5 98v4M89.5 103v1M91.5 92v1M94.5 95v1M95.5 98v1M96.5 98v1M100.5 102v1M104.5 106v1M106.5 107v2M108.5 110v1M109.5 130v8M113.5 114v1M114.5 115v1M117.5 118v1M126.5 127v3M126.5 131v1M128.5 131v1M129.5 130v1M132.5 135v1M133.5 134v1M134.5 135v1M138.5 139v1M142.5 143v2M143.5 144v1M145.5 146v1M146.5 149v2M146.5 152v1M146.5 154v1M147.5 152v1M148.5 150v1M149.5 151v1M149.5 155v1M150.5 152v1M155.5 156v1M157.5 159v1M158.5 160v1M159.5 160v1M160.5 161v1M163.5 172v1M166.5 171v1M167.5 168v1M168.5 171v1M169.5 178v1M173.5 175v1M176.5 177v1M177.5 183v1M181.5 183v2M194.5 195v1M195.5 198v1M197.5 198v1M202.5 203v1M203.5 205v1" stroke="#d9708b" stroke-width="1" fill="none"/>
<path d="M1.5 45v2M1.5 48v24M1.5 73v3M1.5 79v1M2.5 3v1M3.5 5v1M4.5 6v1M9.5 10v1M11.5 13v3M13.5 15v1M16.5 22v1M18.5 21v1M23.5 24v1M24.5 25v1M33.5 36v1M39.5 41v1M41.5 44v1M47.5 49v1M58.5 117v1M58.5 119v2M58.5 122v80M58.5 203v3M62.5 63v1M64.5 67v1M67.5 69v1M67.5 73v1M68.5 69v1M69.5 70v1M72.5 73v1M73.5 74v1M75.5 77v1M75.5 79v1M87.5 88v1M89.5 93v1M89.5 95v3M89.5 102v1M97.5 98v2M103.5 104v1M107.5 109v1M107.5 111v1M109.5 124v6M110.5 112v1M111.5 112v1M119.5 120v1M121.5 123v1M131.5 132v1M133.5 137v1M137.5 138v2M140.5 142v1M144.5 145v1M145.5 148v1M146.5 148v1M154.5 155v1M157.5 158v1M163.5 165v1M169.5 173v1M172.5 173v1M177.5 179v1M178.5 181v1M179.5 180v1M181.5 185v1M186.5 188v1M188.5 189v1M190.5 193v2M192.5 193v1M198.5 201v1M204.5 205v1" stroke="#e17c8e" stroke-width="1" fill="none"/>
<path d="M1.5 32v1M1.5 34v11M5.5 7v1M8.5 16v1M10.5 12v1M12.5 13v1M15.5 16v1M16.5 18v1M18.5 19v1M20.5 21v1M23.5 26v3M26.5 27v1M26.5 29v1M27.5 30v1M28.5 29v1M32.5 34v1M40.5 41v1M41.5 42v1M42.5 44v1M46.5 47v1M48.5 49v1M58.5 96v21M58.5 118v1M58.5 121v1M59.5 60v1M65.5 67v1M75.5 76v1M78.5 79v1M81.5 82v1M83.5 84v1M85.5 86v1M88.5 89v1M89.5 92v1M89.5 94v1M93.5 95v1M96.5 97v1M99.5 100v1M100.5 101v1M105.5 107v1M107.5 108v1M107.5 110v1M109.5 115v2M109.5 118v2M109.5 121v3M112.5 113v1M122.5 123v1M124.5 126v1M128.5 129v1M131.5 133v1M132.5 137v1M136.5 137v1M149.5 150v1M149.5 152v1M161.5 162v1M163.5 166v1M166.5 167v1M169.5 172v1M187.5 188v1M189.5 190v1M190.5 192v1M193.5 194v2M198.5 199v1M201.5 202v1" stroke="#e78c97" stroke-width="1" fill="none"/>
<path d="M1.5 23v1M1.5 25v1M1.5 29v2M1.5 33v1M1.5 47v1M3.5 6v1M8.5 10v1M8.5 12v1M10.5 11v1M19.5 20v1M20.5 22v1M25.5 27v1M29.5 30v1M31.5 33v1M33.5 34v1M34.5 35v1M35.5 36v1M39.5 42v1M43.5 44v1M44.5 45v1M48.5 50v1M52.5 54v1M55.5 59v1M58.5 80v1M58.5 84v12M60.5 61v1M61.5 64v1M67.5 68v1M67.5 70v1M82.5 83v1M83.5 85v1M89.5 91v1M95.5 97v1M105.5 106v1M109.5 114v1M109.5 117v1M109.5 120v1M115.5 116v1M120.5 121v1M125.5 126v1M132.5 134v1M135.5 136v1M139.5 140v2M147.5 150v1M150.5 151v1M151.5 152v1M153.5 154v1M156.5 158v1M162.5 163v1M164.5 165v1M165.5 166v1M168.5 169v1M181.5 182v1M182.5 183v1" stroke="#ed9ba0" stroke-width="1" fill="none"/>
<path d="M1.5 17v1M1.5 20v1M1.5 24v1M1.5 26v2M6.5 7v1M7.5 8v1M8.5 13v1M13.5 14v1M16.5 17v1M36.5 37v1M42.5 43v1M47.5 48v1M57.5 59v1M58.5 72v1M58.5 77v3M58.5 81v3M61.5 62v1M65.5 66v1M74.5 75v1M95.5 96v1M108.5 109v1M110.5 111v1M121.5 122v1M130.5 131v1M133.5 135v1M140.5 141v1M148.5 149v1M153.5 155v1M169.5 171v1M170.5 171v1M190.5 191v1M196.5 197v1M203.5 204v1" stroke="#f1acac" stroke-width="1" fill="none"/>
<path d="M0.5 81v3M0.5 86v6M0.5 93v113M1.5 15v2M1.5 18v2M1.5 21v2M1.5 31v1M3.5 4v1M8.5 11v1M21.5 22v1M27.5 28v1M32.5 33v1M40.5 42v1M51.5 51v1M56.5 57v1M58.5 70v2M58.5 73v4M66.5 67v1M93.5 94v1M98.5 99v1M101.5 102v1M127.5 127v1M132.5 133v1M135.5 137v1M146.5 147v1M169.5 170v1M177.5 178v1M180.5 181v1M191.5 191v1M195.5 196v1" stroke="#f4bdba" stroke-width="1" fill="none"/>
<path d="M0.5 54v27M0.5 84v2M0.5 92v1M9.5 11v1M14.5 15v1M19.5 19v1M30.5 31v1M49.5 49v1M56.5 56v1M58.5 69v1M69.5 69v1M71.5 71v1M72.5 72v1M77.5 77v1M81.5 81v1M82.5 82v1M88.5 88v1M101.5 101v1M106.5 106v1M109.5 113v1M117.5 117v1M118.5 118v1M142.5 142v1M143.5 143v1M154.5 154v1M156.5 157v1M160.5 160v1M161.5 161v1M162.5 162v1M174.5 174v1M175.5 175v1M182.5 182v1M183.5 184v1M184.5 185v1M189.5 189v1M200.5 200v1M202.5 202v1" stroke="#f8cfc9" stroke-width="1" fill="none"/>
<path d="M0.5 36v11M0.5 48v6M1.5 8v2M1.5 14v1M1.5 28v1M5.5 6v1M13.5 13v1M29.5 29v1M46.5 46v1M50.5 50v1M58.5 63v1M58.5 65v1M58.5 67v2M66.5 66v1M68.5 68v1M70.5 70v1M90.5 90v1M93.5 93v1M97.5 97v1M103.5 103v1M109.5 111v1M115.5 115v1M122.5 122v1M124.5 125v1M138.5 138v1M140.5 140v1M141.5 141v1M145.5 145v1M147.5 148v1M153.5 153v1M156.5 156v1M170.5 170v1M171.5 172v1M179.5 179v1M186.5 186v1M188.5 188v1M200.5 201v1M205.5 205v1" stroke="#fbe1da" stroke-width="1" fill="none"/>
<path d="M0.5 0v36M0.5 47v1M1.5 1v7M1.5 10v4M2.5 2v1M3.5 3v1M4.5 4v1M5.5 5v1M6.5 6v1M7.5 7v1M8.5 8v2M9.5 9v1M10.5 10v1M11.5 11v2M12.5 12v1M14.5 14v1M15.5 15v1M16.5 16v1M17.5 17v1M18.5 18v1M20.5 20v1M21.5 21v1M22.5 22v1M23.5 23v1M24.5 24v1M25.5 25v2M26.5 26v1M27.5 27v1M28.5 28v1M30.5 30v1M31.5 31v1M32.5 32v1M33.5 33v1M34.5 34v1M35.5 35v1M36.5 36v1M37.5 37v1M38.5 38v1M39.5 39v1M40.5 40v1M41.5 41v1M42.5 42v1M43.5 43v1M44.5 44v1M45.5 45v1M47.5 47v1M48.5 48v1M52.5 52v1M53.5 53v2M54.5 54v1M55.5 55v1M57.5 57v1M58.5 58v5M58.5 64v1M58.5 66v1M59.5 59v1M60.5 60v1M61.5 61v1M62.5 62v1M63.5 63v2M64.5 64v1M65.5 65v1M67.5 67v1M73.5 73v1M74.5 74v1M75.5 75v1M76.5 76v1M78.5 78v1M79.5 79v1M80.5 80v1M83.5 83v1M84.5 84v1M85.5 85v1M86.5 86v2M87.5 87v1M89.5 89v2M91.5 91v1M92.5 92v1M94.5 94v1M95.5 95v1M96.5 96v1M98.5 98v1M99.5 99v1M100.5 100v1M102.5 102v1M104.5 104v1M105.5 105v1M107.5 107v1M108.5 108v1M109.5 109v2M109.5 112v1M110.5 110v1M111.5 111v1M112.5 112v1M113.5 113v1M114.5 114v1M116.5 116v1M119.5 119v1M120.5 120v1M121.5 121v1M123.5 123v1M124.5 124v1M125.5 125v1M126.5 126v1M128.5 128v1M129.5 129v1M130.5 130v1M131.5 131v1M132.5 132v1M133.5 133v1M134.5 134v1M135.5 135v1M136.5 136v1M137.5 137v1M139.5 139v1M144.5 144v1M146.5 146v1M147.5 147v1M148.5 148v1M149.5 149v1M150.5 150v1M151.5 151v1M152.5 152v1M155.5 155v1M157.5 157v1M158.5 158v1M159.5 159v1M163.5 163v2M164.5 164v1M165.5 165v1M166.5 166v1M167.5 167v1M168.5 168v1M169.5 169v1M171.5 171v1M172.5 172v1M173.5 173v1M176.5 176v1M177.5 177v1M178.5 178v1M180.5 180v1M181.5 181v1M183.5 183v1M184.5 184v1M185.5 185v1M187.5 187v1M190.5 190v1M192.5 192v1M193.5 193v1M194.5 194v1M195.5 195v1M196.5 196v1M197.5 197v1M198.5 198v1M199.5 199v1M201.5 201v1M203.5 203v1M204.5 204v1" stroke="#fef3ec" stroke-width="1" fill="none"/>
</g>
<path d="M0 0L206 206" stroke="#fdf1ea" stroke-width="1.2" shape-rendering="geometricPrecision"/>
<path d="M0 0L-1 -1H207V207Z" fill="#450f6b" shape-rendering="geometricPrecision"/>
</g></g>
<text x="566.8" y="304.7" font-size="35.6" font-weight="bold" textLength="306.4" lengthAdjust="spacingAndGlyphs"><tspan fill="#000" stroke="#000" stroke-width="0.3">(b) </tspan><tspan fill="#3272be" stroke="#3272be" stroke-width="0.3">Low</tspan><tspan fill="#000" stroke="#000" stroke-width="0.3"> Dispersion</tspan></text>
<g transform="translate(983.40,51.60)">
<rect x="0" y="0" width="176.64" height="176.64" fill="#3f1065"/>
<rect x="0.00" y="0.00" width="22.13" height="22.13" fill="#fceee3"/>
<rect x="0.00" y="22.08" width="22.13" height="22.13" fill="#fceee3"/>
<rect x="22.08" y="22.08" width="22.13" height="22.13" fill="#fceee3"/>
<rect x="0.00" y="44.16" width="22.13" height="22.13" fill="#edb0b1"/>
<rect x="22.08" y="44.16" width="22.13" height="22.13" fill="#fceee3"/>
<rect x="44.16" y="44.16" width="22.13" height="22.13" fill="#fceee3"/>
<rect x="0.00" y="66.24" width="22.13" height="22.13" fill="#fceee3"/>
<rect x="22.08" y="66.24" width="22.13" height="22.13" fill="#edb0b1"/>
<rect x="44.16" y="66.24" width="22.13" height="22.13" fill="#5a1f68"/>
<rect x="66.24" y="66.24" width="22.13" height="22.13" fill="#fceee3"/>
<rect x="0.00" y="88.32" width="22.13" height="22.13" fill="#edb0b1"/>
<rect x="22.08" y="88.32" width="22.13" height="22.13" fill="#fceee3"/>
<rect x="44.16" y="88.32" width="22.13" height="22.13" fill="#5a1f68"/>
<rect x="66.24" y="88.32" width="22.13" height="22.13" fill="#5a1f68"/>
<rect x="88.32" y="88.32" width="22.13" height="22.13" fill="#fceee3"/>
<rect x="0.00" y="110.40" width="22.13" height="22.13" fill="#5a1f68"/>
<rect x="22.08" y="110.40" width="22.13" height="22.13" fill="#edb0b1"/>
<rect x="44.16" y="110.40" width="22.13" height="22.13" fill="#fceee3"/>
<rect x="66.24" y="110.40" width="22.13" height="22.13" fill="#5a1f68"/>
<rect x="88.32" y="110.40" width="22.13" height="22.13" fill="#5a1f68"/>
<rect x="110.40" y="110.40" width="22.13" height="22.13" fill="#fceee3"/>
<rect x="0.00" y="132.48" width="22.13" height="22.13" fill="#5a1f68"/>
<rect x="22.08" y="132.48" width="22.13" height="22.13" fill="#edb0b1"/>
<rect x="44.16" y="132.48" width="22.13" height="22.13" fill="#edb0b1"/>
<rect x="66.24" y="132.48" width="22.13" height="22.13" fill="#fceee3"/>
<rect x="88.32" y="132.48" width="22.13" height="22.13" fill="#f8dcd9"/>
<rect x="110.40" y="132.48" width="22.13" height="22.13" fill="#edb0b1"/>
<rect x="132.48" y="132.48" width="22.13" height="22.13" fill="#fceee3"/>
<rect x="0.00" y="154.56" width="22.13" height="22.13" fill="#5a1f68"/>
<rect x="22.08" y="154.56" width="22.13" height="22.13" fill="#5a1f68"/>
<rect x="44.16" y="154.56" width="22.13" height="22.13" fill="#5a1f68"/>
<rect x="66.24" y="154.56" width="22.13" height="22.13" fill="#5a1f68"/>
<rect x="88.32" y="154.56" width="22.13" height="22.13" fill="#edb0b1"/>
<rect x="110.40" y="154.56" width="22.13" height="22.13" fill="#fceee3"/>
<rect x="132.48" y="154.56" width="22.13" height="22.13" fill="#edb0b1"/>
<rect x="154.56" y="154.56" width="22.13" height="22.13" fill="#fceee3"/>
<path d="M0.00 0V176.64M0 0.00H176.64M22.08 0V176.64M0 22.08H176.64M44.16 0V176.64M0 44.16H176.64M66.24 0V176.64M0 66.24H176.64M88.32 0V176.64M0 88.32H176.64M110.40 0V176.64M0 110.40H176.64M132.48 0V176.64M0 132.48H176.64M154.56 0V176.64M0 154.56H176.64M176.64 0V176.64M0 176.64H176.64" stroke="#000000" stroke-width="1.0" fill="none" stroke-linecap="square"/>
</g>
<text x="1071.4" y="256.4" font-size="32.2" text-anchor="middle" fill="#d6d6d6" stroke="#d6d6d6" stroke-width="0.45">Spatial</text>
<path d="M1018.8 245.5H997.7" stroke="#eeeeee" stroke-width="3.8" fill="none"/>
<path d="M982.7 245.5L998.7 237.5V253.5Z" fill="#eeeeee"/>
<path d="M1123.3 245.5H1144.6" stroke="#eeeeee" stroke-width="3.8" fill="none"/>
<path d="M1159.6 245.5L1143.6 237.5V253.5Z" fill="#eeeeee"/>
<text transform="translate(974.4,142.8) rotate(-90)" font-size="32.2" text-anchor="middle" fill="black" stroke="black" stroke-width="0.45">Temporal</text>
<path d="M965.3 76.8V66.6" stroke="#e82a1c" stroke-width="3.8" fill="none"/>
<path d="M965.3 52.6L957.3 67.6H973.3Z" fill="#e82a1c"/>
<path d="M965.3 202.6V214.0" stroke="#e82a1c" stroke-width="3.8" fill="none"/>
<path d="M965.3 228.0L957.3 213.0H973.3Z" fill="#e82a1c"/>
<path d="M1163.0 51.6H1193.9" stroke="#e82a1c" stroke-width="3" stroke-dasharray="11 8" fill="none"/>
<path d="M1161.6 231.2L1194.1 255.6" stroke="#e82a1c" stroke-width="3" stroke-dasharray="11.2 7.6" fill="none"/>
<g transform="translate(1195.4,51) scale(0.9968)" clip-path="url(#hc)"><g shape-rendering="crispEdges">
<rect x="-1" y="-1" width="208" height="208" fill="#450f6b"/>
<g filter="url(#fs)">
<rect x="-1" y="-1" width="208" height="208" fill="#5b1b75"/>
<path d="M8 23h2M4 27h2M8 27h2M4 29h4M12 29h4M2 31h12M18 31h2M0 33h4M8 33h2M0 35h2M4 37h2M10 37h2M24 37h2M0 39h2M24 39h4M0 41h4M6 41h2M22 41h2M26 41h2M0 43h6M28 43h2M0 45h2M6 45h2M10 45h4M24 45h2M0 47h4M12 47h2M16 47h2M28 47h2M32 47h2M0 49h8M14 49h2M22 49h2M28 49h2M32 49h2M26 51h2M14 55h2M28 55h2M38 55h2M4 57h2M10 57h4M42 57h2M4 59h4M12 59h2M18 59h2M24 59h2M30 59h10M50 59h2M0 61h10M24 61h2M30 61h10M42 61h2M0 63h2M4 63h6M24 63h6M32 63h8M42 63h2M4 65h2M26 65h4M38 65h2M42 65h2M54 65h2M0 67h4M50 67h4M0 69h4M42 69h2M46 69h2M50 69h2M54 69h2M0 71h6M10 71h2M14 71h4M24 71h4M36 71h4M42 71h14M58 71h2M0 73h2M4 73h4M10 73h2M14 73h2M24 73h4M36 73h2M42 73h16M0 75h6M12 75h2M16 75h2M24 75h2M42 75h2M46 75h12M60 75h2M0 77h2M6 77h2M16 77h4M22 77h10M34 77h4M46 77h4M52 77h4M58 77h2M62 77h2M0 79h2M4 79h4M12 79h6M26 79h2M32 79h6M40 79h16M58 79h2M62 79h2M0 81h2M14 81h18M36 81h6M46 81h4M52 81h8M62 81h4M0 83h2M4 83h2M10 83h6M18 83h12M36 83h2M40 83h8M52 83h10M66 83h2M74 83h2M0 85h4M6 85h2M18 85h2M24 85h2M28 85h6M36 85h2M40 85h4M52 85h10M64 85h4M0 87h12M20 87h2M28 87h8M40 87h10M52 87h4M58 87h4M68 87h8M0 89h14M18 89h20M40 89h2M46 89h4M52 89h6M60 89h2M70 89h6M78 89h2M0 91h14M18 91h8M28 91h12M42 91h2M46 91h2M54 91h4M70 91h2M76 91h4M84 91h2M0 93h8M10 93h2M18 93h14M34 93h2M38 93h4M46 93h2M58 93h2M0 95h2M4 95h6M12 95h2M16 95h18M36 95h6M54 95h8M64 95h2M74 95h2M84 95h2M0 97h14M16 97h18M36 97h4M42 97h2M46 97h2M54 97h4M64 97h4M80 97h6M0 99h18M20 99h16M38 99h6M52 99h14M70 99h2M78 99h4M84 99h2M0 101h2M4 101h10M24 101h6M34 101h2M38 101h4M52 101h2M56 101h2M78 101h4M84 101h2M0 103h2M4 103h4M12 103h2M18 103h12M32 103h16M54 103h2M58 103h4M70 103h2M80 103h2M90 103h2M94 103h2M0 105h2M4 105h2M8 105h6M18 105h14M36 105h6M44 105h2M48 105h4M54 105h2M58 105h2M62 105h4M76 105h6M84 105h6M98 105h2M0 107h40M42 107h16M62 107h4M68 107h2M72 107h2M78 107h14M94 107h2M0 109h10M12 109h24M38 109h6M52 109h2M56 109h2M70 109h4M76 109h14M92 109h2M96 109h4M6 111h2M14 111h18M34 111h2M38 111h2M52 111h10M78 111h12M92 111h2M98 111h2M0 113h10M12 113h6M20 113h22M44 113h2M52 113h8M62 113h2M66 113h4M74 113h2M78 113h6M86 113h8M96 113h6M0 115h2M4 115h4M12 115h4M18 115h16M36 115h10M56 115h6M68 115h2M80 115h6M88 115h12M102 115h2M106 115h4M0 117h8M12 117h38M54 117h16M74 117h12M88 117h14M106 117h2M0 119h2M4 119h2M8 119h2M12 119h24M38 119h12M52 119h10M64 119h6M72 119h2M78 119h24M106 119h4M0 121h2M4 121h2M12 121h4M18 121h16M38 121h26M66 121h4M74 121h4M84 121h4M94 121h14M0 123h2M4 123h2M12 123h22M38 123h6M46 123h14M64 123h2M68 123h2M74 123h4M82 123h2M86 123h4M92 123h6M100 123h8M2 125h4M12 125h2M18 125h12M32 125h2M36 125h4M42 125h6M52 125h4M66 125h2M70 125h2M84 125h14M102 125h4M112 125h2M0 127h2M16 127h4M22 127h4M28 127h8M38 127h2M42 127h6M50 127h12M76 127h4M86 127h2M92 127h10M104 127h8M0 129h2M18 129h26M46 129h10M58 129h2M62 129h2M70 129h4M76 129h2M84 129h12M100 129h18M0 131h2M4 131h2M24 131h4M30 131h2M34 131h16M52 131h14M72 131h2M76 131h4M86 131h2M90 131h4M96 131h2M104 131h2M108 131h2M112 131h2M0 133h2M4 133h2M18 133h26M46 133h2M52 133h6M60 133h4M74 133h4M80 133h2M84 133h2M90 133h2M96 133h4M104 133h2M108 133h4M114 133h2M4 135h2M14 135h2M24 135h6M32 135h16M52 135h4M58 135h4M74 135h2M78 135h2M84 135h4M90 135h6M98 135h14M122 135h2M0 137h6M10 137h2M16 137h2M22 137h12M36 137h22M64 137h2M70 137h2M74 137h8M84 137h16M102 137h10M118 137h2M0 139h6M10 139h2M16 139h2M22 139h6M32 139h4M38 139h8M48 139h2M52 139h4M62 139h4M72 139h2M76 139h2M80 139h12M94 139h6M102 139h6M120 139h2M0 141h2M4 141h2M12 141h2M16 141h2M24 141h8M36 141h4M42 141h2M46 141h2M50 141h4M64 141h4M72 141h2M80 141h6M88 141h10M104 141h4M114 141h2M118 141h2M0 143h6M8 143h4M14 143h4M20 143h20M42 143h8M52 143h12M66 143h6M78 143h4M84 143h4M90 143h6M100 143h6M108 143h2M114 143h2M122 143h8M2 145h2M12 145h2M18 145h2M22 145h4M30 145h2M34 145h10M46 145h2M54 145h4M68 145h2M74 145h6M82 145h2M88 145h2M92 145h4M98 145h2M102 145h4M108 145h2M126 145h2M132 145h2M0 147h2M20 147h2M24 147h4M40 147h8M54 147h4M72 147h10M84 147h4M92 147h14M114 147h2M118 147h2M124 147h6M132 147h2M140 147h4M0 149h6M8 149h4M16 149h2M22 149h10M38 149h8M48 149h2M52 149h4M58 149h4M64 149h4M70 149h2M74 149h8M90 149h16M108 149h26M138 149h4M0 151h2M4 151h4M10 151h2M14 151h4M20 151h2M24 151h8M36 151h4M42 151h6M50 151h6M60 151h2M66 151h8M76 151h2M80 151h2M84 151h2M88 151h2M92 151h2M96 151h2M100 151h6M108 151h6M116 151h16M136 151h8M0 153h8M12 153h6M22 153h8M36 153h8M46 153h2M50 153h10M64 153h22M90 153h2M94 153h26M122 153h2M126 153h8M136 153h10M0 155h4M12 155h4M18 155h2M22 155h8M36 155h8M46 155h4M52 155h2M58 155h2M62 155h14M78 155h2M86 155h2M92 155h2M96 155h8M106 155h4M112 155h2M118 155h8M128 155h16M0 157h2M6 157h8M18 157h2M22 157h8M42 157h2M46 157h2M52 157h6M60 157h4M66 157h4M72 157h6M82 157h4M88 157h2M96 157h8M106 157h10M118 157h2M122 157h4M128 157h2M132 157h2M140 157h8M0 159h2M4 159h2M10 159h4M18 159h2M24 159h2M28 159h2M42 159h2M46 159h4M54 159h4M62 159h2M66 159h16M84 159h4M90 159h2M94 159h6M104 159h12M118 159h20M144 159h2M148 159h2M4 161h2M8 161h6M16 161h2M22 161h8M32 161h6M58 161h2M68 161h2M74 161h4M80 161h2M84 161h4M94 161h2M98 161h4M104 161h16M122 161h2M128 161h8M140 161h6M0 163h2M4 163h2M8 163h2M12 163h2M18 163h4M24 163h10M38 163h6M52 163h2M56 163h2M74 163h8M84 163h16M102 163h12M116 163h8M126 163h4M132 163h2M144 163h2M0 165h2M6 165h4M12 165h4M18 165h2M22 165h12M36 165h8M46 165h2M50 165h2M54 165h2M58 165h4M64 165h2M68 165h2M76 165h2M82 165h6M92 165h12M108 165h2M112 165h6M122 165h2M130 165h2M136 165h2M140 165h2M0 167h2M4 167h2M12 167h6M24 167h8M36 167h4M50 167h8M62 167h2M66 167h4M72 167h6M80 167h8M90 167h2M94 167h2M98 167h2M104 167h12M118 167h2M142 167h2M160 167h2M0 169h10M18 169h18M40 169h4M46 169h2M52 169h4M62 169h2M66 169h2M70 169h6M84 169h2M92 169h24M126 169h4M142 169h2M0 171h12M20 171h2M24 171h20M46 171h4M54 171h14M70 171h4M76 171h4M84 171h2M88 171h10M102 171h12M116 171h2M120 171h4M126 171h6M138 171h6M146 171h2M152 171h4M160 171h2M166 171h2M0 173h8M12 173h10M24 173h10M36 173h2M40 173h8M52 173h4M60 173h4M66 173h10M78 173h2M82 173h8M92 173h2M98 173h16M116 173h2M122 173h6M130 173h4M136 173h4M142 173h6M154 173h4M162 173h4M0 175h14M16 175h2M22 175h8M38 175h2M42 175h14M62 175h2M66 175h8M76 175h2M80 175h6M88 175h28M120 175h2M124 175h2M128 175h2M132 175h2M136 175h2M140 175h2M144 175h4M150 175h4M156 175h6M164 175h4M170 175h2M4 177h2M8 177h10M22 177h12M38 177h2M42 177h12M56 177h2M60 177h6M68 177h4M76 177h10M88 177h10M104 177h6M122 177h2M128 177h30M160 177h14M0 179h2M4 179h4M12 179h4M20 179h24M46 179h2M52 179h8M62 179h12M78 179h4M84 179h2M88 179h22M112 179h4M118 179h2M126 179h4M132 179h14M148 179h2M152 179h6M160 179h10M174 179h2M0 181h2M4 181h4M10 181h4M16 181h2M20 181h18M42 181h8M54 181h4M60 181h2M64 181h2M68 181h2M74 181h2M78 181h12M94 181h6M102 181h8M112 181h6M120 181h4M128 181h2M132 181h2M136 181h2M140 181h6M148 181h4M154 181h2M158 181h4M166 181h4M172 181h6M0 183h10M12 183h2M18 183h12M32 183h4M40 183h4M46 183h2M52 183h6M68 183h4M76 183h2M82 183h34M118 183h8M140 183h2M144 183h2M158 183h4M166 183h2M172 183h2M176 183h2M0 185h2M4 185h32M38 185h4M46 185h2M54 185h8M64 185h14M80 185h44M126 185h6M134 185h4M140 185h12M156 185h2M160 185h2M164 185h2M168 185h10M0 187h2M4 187h2M8 187h34M44 187h12M58 187h24M84 187h34M120 187h18M142 187h6M154 187h14M170 187h2M174 187h6M0 189h2M4 189h2M8 189h8M18 189h2M24 189h2M28 189h2M36 189h4M52 189h2M60 189h6M68 189h6M76 189h2M84 189h2M88 189h22M114 189h2M122 189h10M142 189h6M158 189h6M176 189h2M0 191h4M10 191h4M16 191h14M46 191h2M52 191h2M62 191h2M78 191h22M102 191h10M114 191h2M120 191h14M136 191h2M140 191h2M144 191h4M156 191h8M168 191h2M176 191h2M182 191h2M0 193h2M4 193h16M22 193h4M28 193h2M32 193h2M38 193h2M42 193h2M46 193h10M58 193h4M64 193h2M72 193h2M78 193h2M84 193h4M92 193h8M102 193h2M106 193h12M120 193h8M140 193h6M152 193h2M156 193h12M176 193h4M0 195h2M4 195h8M18 195h10M30 195h2M34 195h22M58 195h2M64 195h4M76 195h4M84 195h4M90 195h2M94 195h2M98 195h18M120 195h8M134 195h4M142 195h4M148 195h4M158 195h4M164 195h4M170 195h2M176 195h10M188 195h2M192 195h2M0 197h32M34 197h2M38 197h10M50 197h10M66 197h2M72 197h2M76 197h2M80 197h12M94 197h22M120 197h6M128 197h4M134 197h2M138 197h10M150 197h4M156 197h14M174 197h4M180 197h6M188 197h2M0 199h12M14 199h4M20 199h10M32 199h24M58 199h4M64 199h8M76 199h34M112 199h16M136 199h14M152 199h10M164 199h4M170 199h10M182 199h2M186 199h4M192 199h2M0 201h10M12 201h2M16 201h2M20 201h6M28 201h6M36 201h8M46 201h4M52 201h18M72 201h6M82 201h28M114 201h2M120 201h4M126 201h8M136 201h26M164 201h4M174 201h8M184 201h8M0 203h28M30 203h8M40 203h26M68 203h4M74 203h2M78 203h34M114 203h4M122 203h8M134 203h2M138 203h18M158 203h12M172 203h2M176 203h18M0 205h8M10 205h6M20 205h46M68 205h4M74 205h46M122 205h48M174 205h6M182 205h14" stroke="#5b1b75" stroke-width="2" fill="none"/>
<path d="M0 23h2M6 25h4M6 27h2M14 27h2M0 29h2M8 29h2M4 33h4M22 37h2M26 37h2M4 39h2M4 41h2M28 41h2M4 45h2M28 45h2M4 47h4M22 47h2M34 47h2M30 49h2M38 49h2M0 51h2M4 51h2M14 51h2M18 51h2M10 53h2M2 55h4M32 55h4M6 57h2M34 57h2M0 59h2M14 59h4M28 59h2M42 59h2M12 61h2M26 61h4M50 61h2M10 63h2M18 63h4M52 63h6M24 65h2M32 65h2M50 65h2M26 67h4M4 69h2M24 69h4M18 71h2M38 73h4M32 75h2M12 77h2M2 79h2M22 79h4M28 79h2M38 79h2M12 81h2M34 81h2M42 81h4M60 81h2M48 83h2M4 85h2M8 85h2M34 85h2M44 85h4M12 87h2M16 87h2M22 87h2M56 87h2M66 87h2M84 87h2M16 89h2M42 89h2M50 89h2M76 89h2M26 91h2M72 91h4M12 93h2M32 93h2M36 93h2M60 93h2M2 95h2M44 95h2M52 95h2M14 97h2M40 97h2M48 97h2M52 97h2M76 97h2M36 99h2M18 101h4M46 101h2M54 101h2M86 101h2M8 103h4M14 103h4M52 103h2M56 103h2M62 103h4M82 103h2M96 103h2M16 105h2M42 105h2M82 105h2M40 107h2M58 107h2M76 107h2M92 107h2M100 107h2M10 109h2M36 109h2M44 109h2M50 109h2M64 109h2M74 109h2M94 109h2M0 111h2M12 111h2M48 111h2M94 111h2M102 111h2M18 113h2M42 113h2M70 113h2M84 113h2M94 113h2M10 115h2M46 115h2M52 115h4M66 115h2M74 115h2M78 115h2M86 115h2M52 117h2M72 117h2M86 117h2M102 117h4M6 119h2M50 119h2M62 119h2M102 119h2M112 119h2M16 121h2M88 121h6M108 121h2M6 123h2M10 123h2M62 123h2M78 123h4M84 123h2M90 123h2M108 123h2M0 125h2M10 125h2M14 125h2M56 125h2M60 125h2M64 125h2M74 125h2M98 125h2M106 125h2M26 127h2M40 127h2M74 127h2M84 127h2M88 127h2M12 129h2M66 129h2M96 129h2M8 131h2M28 131h2M84 131h2M88 131h2M94 131h2M100 131h2M106 131h2M2 133h2M8 133h2M44 133h2M58 133h2M88 133h2M106 133h2M116 133h2M30 135h2M68 135h2M82 135h2M88 135h2M96 135h2M112 135h2M82 137h2M112 137h2M122 137h2M28 139h4M46 139h2M108 139h2M122 139h2M128 139h2M2 141h2M14 141h2M32 141h2M40 141h2M60 141h2M86 141h2M110 141h2M12 143h2M40 143h2M64 143h2M88 143h2M106 143h2M112 143h2M120 143h2M26 145h4M32 145h2M44 145h2M66 145h2M70 145h4M84 145h4M96 145h2M106 145h2M114 145h2M118 145h2M122 145h2M128 145h2M22 147h2M30 147h2M34 147h2M58 147h2M68 147h2M108 147h2M112 147h2M144 147h2M18 149h2M46 149h2M72 149h2M84 149h2M106 149h2M134 149h4M56 151h4M78 151h2M82 151h2M94 151h2M98 151h2M106 151h2M132 151h4M48 153h2M60 153h4M86 153h2M120 153h2M124 153h2M16 155h2M44 155h2M60 155h2M80 155h2M84 155h2M110 155h2M126 155h2M36 157h2M78 157h4M90 157h2M94 157h2M136 157h2M20 159h2M52 159h2M58 159h2M142 159h2M66 161h2M82 161h2M96 161h2M22 163h2M34 163h4M54 163h2M66 163h4M140 163h2M34 165h2M52 165h2M74 165h2M90 165h2M10 167h2M32 167h2M60 167h2M120 167h2M132 167h2M140 167h2M38 169h2M48 169h2M68 169h2M76 169h4M82 169h2M132 169h2M138 169h2M146 169h2M154 169h2M160 169h2M68 171h2M74 171h2M86 171h2M100 171h2M114 171h2M132 171h4M8 173h4M38 173h2M50 173h2M56 173h2M64 173h2M76 173h2M94 173h2M140 173h2M160 173h2M168 173h4M14 175h2M20 175h2M32 175h2M36 175h2M58 175h2M126 175h2M142 175h2M162 175h2M0 177h4M40 177h2M54 177h2M116 177h2M120 177h2M124 177h4M158 177h2M174 177h2M10 179h2M18 179h2M50 179h2M76 179h2M120 179h4M146 179h2M150 179h2M158 179h2M2 181h2M18 181h2M38 181h4M90 181h4M110 181h2M118 181h2M146 181h2M152 181h2M60 183h2M64 183h2M74 183h2M78 183h4M164 183h2M168 183h2M174 183h2M2 185h2M36 185h2M44 185h2M48 185h2M124 185h2M152 185h2M158 185h2M162 185h2M140 187h2M168 187h2M172 187h2M180 187h2M16 189h2M20 189h2M26 189h2M42 189h2M50 189h2M78 189h2M110 189h2M116 189h2M120 189h2M140 189h2M166 189h2M4 191h6M14 191h2M38 191h2M42 191h2M56 191h2M64 191h4M70 191h2M148 191h2M174 191h2M20 193h2M26 193h2M40 193h2M56 193h2M66 193h2M88 193h4M100 193h2M104 193h2M134 193h2M174 193h2M180 193h2M186 193h2M2 195h2M28 195h2M32 195h2M56 195h2M88 195h2M96 195h2M116 195h2M128 195h2M162 195h2M168 195h2M48 197h2M60 197h2M70 197h2M116 197h2M172 197h2M178 197h2M18 199h2M56 199h2M74 199h2M128 199h2M132 199h2M150 199h2M162 199h2M168 199h2M18 201h2M26 201h2M44 201h2M50 201h2M70 201h2M80 201h2M112 201h2M124 201h2M170 201h2M192 201h2M28 203h2M38 203h2M66 203h2M112 203h2M120 203h2M136 203h2M156 203h2M8 205h2M16 205h4M66 205h2M72 205h2M120 205h2M180 205h2M198 205h2M202 205h2" stroke="#77277e" stroke-width="2" fill="none"/>
<path d="M10 23h2M12 27h2M16 27h2M22 31h2M14 33h2M22 33h2M0 37h2M16 37h2M6 43h2M14 47h2M24 47h2M36 47h4M26 49h2M6 51h2M16 51h2M0 53h2M22 53h2M28 53h4M40 53h2M16 55h2M24 55h2M46 55h2M2 59h2M8 59h2M46 63h2M0 65h2M6 65h2M46 65h2M4 67h2M40 67h2M46 67h2M28 69h2M38 69h2M52 69h2M22 71h2M28 71h2M32 71h2M40 71h2M2 73h2M12 73h2M34 73h2M14 75h2M28 75h2M58 75h2M8 77h2M14 77h2M40 77h4M50 77h2M30 79h2M56 79h2M60 79h2M66 79h2M4 81h4M10 81h2M50 81h2M16 83h2M38 83h2M50 83h2M12 85h2M20 85h2M26 85h2M48 85h2M68 85h2M72 85h4M24 87h2M62 87h2M38 89h2M62 89h2M16 91h2M44 91h2M62 91h2M68 91h2M80 91h2M52 93h2M10 95h2M42 95h2M66 95h2M78 95h4M50 97h2M68 97h2M72 97h2M78 97h2M44 99h2M50 99h2M76 99h2M48 101h2M62 101h6M70 101h6M48 103h2M74 103h4M84 103h2M6 105h2M46 105h2M52 105h2M66 105h2M72 105h2M60 107h2M98 107h2M54 109h2M58 109h6M68 109h2M100 109h2M4 111h2M8 111h2M32 111h2M42 111h2M74 111h4M46 113h2M60 113h2M2 115h2M34 115h2M50 115h2M64 115h2M100 115h2M104 115h2M8 117h4M70 117h2M2 119h2M36 119h2M70 119h2M74 119h4M2 121h2M10 121h2M98 123h2M6 125h2M34 125h2M40 125h2M48 125h2M58 125h2M62 125h2M76 125h2M14 127h2M62 127h2M102 127h2M16 129h2M44 129h2M60 129h2M78 129h2M22 131h2M70 131h2M80 131h2M102 131h2M110 131h2M6 133h2M50 133h2M86 133h2M94 133h2M102 133h2M12 135h2M66 135h2M72 135h2M76 135h2M80 135h2M18 137h4M60 137h2M114 137h2M20 139h2M36 139h2M50 139h2M58 139h4M92 139h2M124 139h2M10 141h2M18 141h2M44 141h2M48 141h2M54 141h2M74 141h2M102 141h2M6 143h2M82 143h2M0 145h2M16 145h2M52 145h2M60 145h2M116 145h2M130 145h2M8 147h2M38 147h2M48 147h2M70 147h2M120 147h4M136 147h2M12 149h2M20 149h2M50 149h2M56 149h2M68 149h2M82 149h2M142 149h2M40 151h2M62 151h4M74 151h2M114 151h2M146 151h2M10 153h2M32 153h2M44 153h2M88 153h2M134 153h2M4 155h4M20 155h2M30 155h2M54 155h4M76 155h2M82 155h2M94 155h2M104 155h2M114 155h2M4 157h2M34 157h2M38 157h2M86 157h2M92 157h2M104 157h2M120 157h2M126 157h2M2 159h2M26 159h2M50 159h2M82 159h2M102 159h2M140 159h2M0 161h2M48 161h2M56 161h2M120 161h2M124 161h4M6 163h2M14 163h4M46 163h2M62 163h4M100 163h2M114 163h2M124 163h2M138 163h2M142 163h2M150 163h2M2 165h4M10 165h2M16 165h2M56 165h2M78 165h2M104 165h2M110 165h2M120 165h2M142 165h6M6 167h2M18 167h2M22 167h2M92 167h2M96 167h2M122 167h2M126 167h2M138 167h2M156 167h2M164 167h2M50 169h2M58 169h2M64 169h2M80 169h2M86 169h4M140 169h2M144 169h2M166 169h2M44 171h2M80 171h4M124 171h2M144 171h2M148 171h4M164 171h2M22 173h2M34 173h2M58 173h2M80 173h2M90 173h2M96 173h2M128 173h2M134 173h2M18 175h2M30 175h2M64 175h2M78 175h2M86 175h2M116 175h4M122 175h2M134 175h2M154 175h2M168 175h2M18 177h4M58 177h2M66 177h2M86 177h2M102 177h2M112 177h2M2 179h2M60 179h2M74 179h2M82 179h2M86 179h2M110 179h2M176 179h2M14 181h2M52 181h2M58 181h2M76 181h2M156 181h2M162 181h4M170 181h2M14 183h2M36 183h2M48 183h2M62 183h2M66 183h2M72 183h2M116 183h2M132 183h2M152 183h2M162 183h2M42 185h2M52 185h2M78 185h2M138 185h2M166 185h2M2 187h2M6 187h2M42 187h2M56 187h2M152 187h2M22 189h2M34 189h2M54 189h2M112 189h2M132 189h6M174 189h2M32 191h2M40 191h2M54 191h2M58 191h2M74 191h2M100 191h2M112 191h2M142 191h2M164 191h2M2 193h2M68 193h2M74 193h4M80 193h2M136 193h2M146 193h2M12 195h2M74 195h2M92 195h2M118 195h2M132 195h2M146 195h2M152 195h2M174 195h2M190 195h2M32 197h2M36 197h2M62 197h4M74 197h2M118 197h2M154 197h2M30 199h2M62 199h2M72 199h2M110 199h2M10 201h2M14 201h2M34 201h2M110 201h2M134 201h2M162 201h2M182 201h2M72 203h2M76 203h2M130 203h4M170 203h2M170 205h4" stroke="#993985" stroke-width="2" fill="none"/>
<path d="M4 11h2M2 13h2M4 17h2M12 25h2M10 27h2M18 27h2M2 29h2M10 29h2M0 31h2M20 33h2M6 35h2M16 35h2M2 39h2M6 39h2M12 39h2M22 39h2M28 39h2M8 41h2M24 41h2M8 45h2M8 47h2M26 47h2M12 49h2M40 49h2M2 51h2M12 51h2M24 51h2M28 51h4M40 51h2M2 53h6M12 53h2M12 55h2M26 55h2M16 57h2M38 57h2M22 59h2M26 59h2M40 61h2M30 63h2M40 65h2M52 65h2M10 69h4M48 69h2M30 71h2M34 71h2M22 73h2M38 75h2M44 75h2M4 77h2M20 77h2M38 77h2M56 77h2M10 79h2M18 79h4M70 79h2M2 81h2M2 83h2M8 83h2M32 83h4M14 85h2M22 85h2M38 85h2M50 85h2M18 87h2M26 87h2M36 87h4M50 87h2M76 87h2M14 89h2M58 89h2M64 89h2M80 89h2M40 91h2M52 91h2M14 93h4M68 93h2M14 95h2M34 95h2M76 95h2M82 95h2M58 97h4M46 99h4M68 99h2M82 99h2M86 99h2M2 101h2M14 101h2M36 101h2M42 101h4M60 101h2M76 101h2M82 101h2M50 103h2M86 103h2M14 105h2M32 105h4M56 105h2M60 105h2M68 105h4M66 107h2M48 109h2M36 111h2M40 111h2M100 111h2M72 113h2M76 113h2M16 115h2M62 115h2M70 115h4M76 115h2M108 117h2M104 119h2M114 119h2M8 121h2M34 121h4M70 121h2M80 121h2M112 121h2M36 123h2M44 123h2M60 123h2M50 125h2M78 125h2M108 125h4M2 127h2M12 127h2M36 127h2M90 127h2M14 129h2M56 129h2M64 129h2M74 129h2M82 129h2M20 131h2M32 131h2M68 131h2M118 131h2M82 133h2M92 133h2M100 133h2M112 133h2M0 135h2M56 135h2M118 135h2M128 135h2M12 137h2M34 137h2M58 137h2M66 137h4M100 137h2M124 137h6M132 137h2M12 139h4M68 139h2M74 139h2M78 139h2M114 139h2M118 139h2M126 139h2M6 141h2M34 141h2M76 141h4M108 141h2M116 141h2M122 141h2M126 141h2M18 143h2M50 143h2M72 143h6M118 143h2M134 143h2M4 145h2M14 145h2M80 145h2M90 145h2M110 145h2M124 145h2M4 147h2M12 147h6M28 147h2M52 147h2M66 147h2M82 147h2M116 147h2M130 147h2M32 149h4M86 149h4M2 151h2M12 151h2M22 151h2M34 151h2M48 151h2M144 151h2M18 153h4M146 153h2M144 155h4M16 157h2M20 157h2M44 157h2M64 157h2M70 157h2M30 159h6M60 159h2M64 159h2M100 159h2M116 159h2M146 159h2M18 161h2M30 161h2M38 161h2M52 161h4M62 161h2M72 161h2M92 161h2M10 163h2M44 163h2M58 163h2M130 163h2M80 165h2M88 165h2M106 165h2M148 165h2M34 167h2M40 167h2M100 167h4M116 167h2M130 167h2M144 167h4M16 169h2M36 169h2M56 169h2M60 169h2M90 169h2M124 169h2M130 169h2M162 169h2M22 171h2M50 171h4M98 171h2M158 171h2M162 171h2M48 173h2M114 173h2M118 173h2M150 173h2M166 173h2M34 175h2M40 175h2M60 175h2M130 175h2M138 175h2M148 175h2M36 177h2M100 177h2M16 179h2M116 179h2M124 179h2M172 179h2M8 181h2M50 181h2M66 181h2M70 181h4M100 181h2M134 181h2M178 181h2M10 183h2M30 183h2M38 183h2M58 183h2M128 183h2M142 183h2M146 183h2M150 183h2M154 183h2M170 183h2M62 185h2M154 185h2M180 185h4M82 187h2M118 187h2M138 187h2M40 189h2M74 189h2M86 189h2M138 189h2M150 189h2M34 191h2M50 191h2M76 191h2M116 191h2M138 191h2M154 191h2M178 191h2M36 193h2M82 193h2M128 193h2M132 193h2M148 193h2M168 193h2M182 193h2M190 193h2M16 195h2M70 195h2M82 195h2M140 195h2M156 195h2M172 195h2M92 197h2M126 197h2M132 197h2M136 197h2M186 197h2M12 199h2M184 199h2M116 201h2M172 201h2M196 201h4M118 203h2M174 203h2M196 203h2M196 205h2" stroke="#bb5189" stroke-width="2" fill="none"/>
<path d="M0 13h2M0 17h2M0 19h2M0 21h2M0 25h2M10 25h2M14 25h2M18 25h2M14 31h4M10 33h4M8 37h2M10 39h2M18 39h2M30 41h2M26 43h2M30 47h2M10 49h2M22 51h2M18 53h2M38 53h2M8 55h2M20 55h2M30 55h2M42 55h2M24 57h2M44 57h2M10 59h2M40 59h2M44 59h2M52 59h2M10 61h2M22 61h2M16 63h2M58 63h2M12 65h4M6 67h2M20 67h2M30 67h2M54 67h2M32 69h2M40 69h2M6 71h2M56 71h2M18 73h2M28 73h2M6 75h2M18 75h2M26 75h2M40 75h2M62 75h2M2 77h2M10 77h2M44 77h2M72 79h2M32 81h2M16 85h2M80 85h2M64 87h2M44 89h2M68 89h2M14 91h2M58 91h4M82 91h2M50 93h2M54 93h4M46 95h2M86 95h2M34 97h2M62 97h2M18 99h2M16 101h2M22 101h2M32 101h2M58 101h2M30 103h2M68 103h2M78 103h2M94 105h2M70 107h2M102 107h2M66 109h2M90 109h2M104 109h2M10 111h2M46 111h2M50 111h2M72 111h2M10 113h2M104 113h2M8 115h2M50 117h2M10 119h2M110 119h2M64 121h2M72 121h2M78 121h2M110 121h2M72 123h2M110 123h2M16 125h2M80 125h4M100 125h2M6 127h2M48 127h2M112 127h2M80 129h2M98 129h2M118 129h2M122 129h2M2 131h2M12 131h2M74 131h2M114 131h2M48 133h2M78 133h2M124 133h2M6 135h2M22 135h2M48 135h2M62 135h4M124 135h2M6 137h2M14 137h2M62 137h2M72 137h2M6 139h2M70 139h2M132 139h2M8 141h2M22 141h2M98 141h4M96 143h4M110 143h2M116 143h2M20 145h2M48 145h2M112 145h2M120 145h2M138 145h2M88 147h2M106 147h2M6 149h2M36 149h2M8 151h2M18 151h2M86 151h2M90 151h2M8 153h2M92 153h2M10 155h2M32 155h2M116 155h2M148 155h2M48 157h2M58 157h2M116 157h2M130 157h2M6 159h2M22 159h2M40 159h2M88 159h2M6 161h2M40 161h4M46 161h2M60 161h2M64 161h2M78 161h2M72 163h2M136 163h2M20 165h2M70 165h4M118 165h2M124 165h2M138 165h2M152 165h4M8 167h2M20 167h2M42 167h4M58 167h2M88 167h2M124 167h2M154 167h2M10 169h2M136 169h2M164 169h2M16 171h2M118 171h2M152 173h2M158 173h2M56 175h2M74 175h2M6 177h2M72 177h4M110 177h2M48 179h2M130 179h2M170 179h2M124 181h4M138 181h2M126 183h2M132 185h2M178 185h2M148 187h4M2 189h2M46 189h4M56 189h2M156 189h2M168 189h2M48 191h2M60 191h2M68 191h2M72 191h2M150 191h2M180 191h2M186 191h2M34 193h2M44 193h2M62 193h2M70 193h2M118 193h2M150 193h2M170 193h2M60 195h4M68 195h2M72 195h2M80 195h2M138 195h2M186 195h2M68 197h2M78 197h2M148 197h2M170 197h2M130 199h2M180 199h2M190 199h2M78 201h2M168 201h2M194 203h2M200 203h2" stroke="#d56a8b" stroke-width="2" fill="none"/>
<path d="M0 7h2M2 15h2M8 15h2M10 19h2M4 21h8M0 27h2M26 31h2M2 37h2M6 37h2M20 37h2M8 39h2M10 43h4M24 43h2M30 43h2M18 45h2M38 45h4M10 47h2M18 47h2M24 49h2M32 51h2M38 51h2M44 51h2M8 53h2M32 53h2M42 53h2M0 55h2M18 55h2M22 55h2M52 55h2M0 57h2M14 57h2M20 57h4M28 57h2M36 57h2M48 61h2M2 63h2M44 63h2M16 65h2M20 65h4M34 65h2M44 65h2M24 67h2M32 67h2M48 67h2M18 69h4M30 69h2M12 71h2M62 71h2M58 73h2M62 73h2M10 75h2M20 75h2M64 79h2M8 81h2M6 83h2M30 83h2M62 83h2M10 85h2M62 85h2M66 89h2M48 91h2M66 91h2M86 91h2M8 93h2M42 93h4M78 93h2M84 93h2M72 95h2M88 95h2M44 97h2M88 101h6M98 101h2M2 103h2M66 103h2M72 103h2M88 103h2M92 103h2M2 105h2M92 105h2M74 107h2M96 107h2M46 109h2M62 111h4M68 111h4M96 111h2M50 113h2M64 113h2M102 113h2M112 117h2M6 121h2M82 121h2M2 123h2M34 123h2M66 123h2M70 123h2M30 125h2M4 127h2M20 127h2M64 127h2M114 127h2M4 129h2M10 129h2M120 129h2M6 131h2M66 131h2M98 131h2M14 133h4M72 133h2M8 137h2M56 139h2M100 139h2M110 139h4M20 141h2M56 141h2M62 141h2M68 141h2M50 145h2M100 145h2M2 147h2M6 147h2M10 147h2M18 147h2M36 147h2M60 147h4M90 147h2M110 147h2M138 147h2M14 149h2M144 149h4M32 151h2M8 155h2M50 155h2M90 155h2M134 157h2M138 157h2M8 159h2M16 159h2M38 159h2M152 159h2M2 161h2M20 161h2M50 161h2M70 161h2M88 161h2M102 161h2M136 161h4M156 161h2M48 163h4M60 163h2M70 163h2M66 165h2M126 165h4M132 165h2M150 165h2M2 167h2M46 167h4M64 167h2M70 167h2M78 167h2M128 167h2M148 167h2M158 167h2M162 167h2M12 169h2M44 169h2M116 169h2M120 169h2M134 169h2M156 169h4M12 171h4M136 171h2M120 173h2M148 173h2M34 177h2M98 177h2M114 177h2M118 177h2M8 179h2M44 179h2M62 181h2M130 181h2M16 183h2M136 183h2M148 183h2M156 183h2M178 183h2M50 185h2M182 187h2M6 189h2M32 189h2M44 189h2M58 189h2M66 189h2M80 189h4M118 189h2M148 189h2M154 189h2M170 189h2M36 191h2M118 191h2M152 191h2M166 191h2M170 191h2M184 191h2M30 193h2M130 193h2M14 195h2M130 195h2M190 197h2M134 199h2M118 201h2M198 203h2" stroke="#e58794" stroke-width="2" fill="none"/>
<path d="M6 13h2M0 15h2M6 15h2M2 19h4M4 23h4M2 25h2M18 29h2M16 33h2M2 35h2M10 35h2M14 37h2M28 37h2M32 37h2M32 41h2M8 43h2M16 43h2M22 43h2M34 43h6M2 45h2M14 45h2M32 45h4M16 49h4M36 49h2M20 51h2M34 51h4M14 53h4M20 53h2M24 53h2M6 55h2M10 55h2M36 55h2M48 55h2M2 57h2M26 57h2M30 57h2M40 57h2M20 59h2M46 59h2M14 61h2M46 61h2M54 61h2M40 63h2M48 63h2M8 65h4M18 65h2M30 65h2M36 65h2M48 65h2M10 67h2M22 67h2M42 67h2M22 69h2M44 69h2M60 71h2M30 75h2M36 75h2M60 77h2M68 77h4M8 79h2M76 79h2M68 83h2M76 85h2M14 87h2M78 87h2M82 89h2M64 91h2M88 91h2M66 93h2M76 93h2M80 93h2M50 95h2M70 95h2M90 97h2M66 99h2M72 99h4M90 99h2M30 101h2M96 101h2M74 105h2M2 111h2M66 111h2M90 111h2M48 113h2M108 113h2M48 115h2M110 115h2M110 117h2M8 123h2M68 125h2M72 125h2M10 127h2M66 127h2M72 127h2M2 129h2M6 129h4M124 129h2M10 131h2M14 131h2M50 131h2M82 131h2M122 131h2M12 133h2M64 133h4M70 133h2M120 133h2M10 135h2M116 135h2M126 135h2M116 137h2M120 137h2M130 137h2M8 139h2M18 139h2M66 139h2M116 139h2M136 139h2M58 141h2M112 141h2M120 141h2M130 143h2M6 145h6M58 145h2M140 145h2M134 147h2M62 149h2M34 153h2M34 155h2M88 155h2M2 157h2M30 157h2M50 157h2M92 159h2M90 161h2M146 161h2M82 163h2M146 163h2M154 163h2M48 165h2M156 165h2M160 165h2M134 167h4M152 167h2M14 169h2M118 169h2M122 169h2M18 171h2M156 171h2M44 183h2M50 183h2M134 183h2M138 183h2M178 189h4M186 189h2M172 191h2M138 193h2M172 193h2M154 195h2M192 197h2M200 205h2" stroke="#f0a8a9" stroke-width="2" fill="none"/>
<path d="M0 11h2M4 13h2M6 19h2M12 19h2M18 23h2M4 25h2M20 29h2M20 31h2M24 31h2M26 33h2M32 33h2M4 35h2M12 35h2M26 35h2M12 37h2M30 37h2M34 37h2M20 39h2M32 43h2M22 45h2M20 47h2M46 47h2M8 49h2M20 49h2M34 49h2M8 51h4M46 51h2M26 53h2M36 53h2M40 55h2M8 57h2M18 57h2M48 57h2M48 59h2M18 61h2M52 61h2M56 61h2M22 63h2M50 63h2M2 65h2M58 65h2M34 67h2M38 67h2M44 67h2M16 69h2M34 69h2M60 69h2M8 71h2M20 71h2M16 73h2M20 73h2M32 73h2M60 73h2M32 77h2M72 81h2M64 83h2M72 83h2M70 85h2M78 85h2M82 85h2M84 89h2M50 91h2M48 93h2M88 93h2M48 95h2M62 95h2M92 97h2M92 99h2M102 103h2M90 105h2M96 105h2M108 111h2M106 113h2M112 113h2M112 115h2M114 117h4M8 125h2M114 125h2M82 127h2M116 127h2M16 131h4M116 131h2M118 133h2M122 133h2M8 135h2M16 135h4M50 135h2M114 135h2M132 135h2M134 137h2M70 141h2M128 141h2M132 143h2M140 143h2M62 145h2M142 145h4M32 147h2M50 147h2M64 147h2M150 151h2M30 153h2M14 157h2M32 157h2M40 157h2M152 157h2M14 159h2M36 159h2M138 159h2M150 159h2M154 159h2M14 161h2M44 161h2M2 163h2M134 163h2M148 163h2M160 163h2M62 165h2M134 165h2M162 165h4M148 169h2M168 171h4M176 177h2M184 185h2M30 189h2M164 189h2M182 189h4M30 191h2M44 191h2M134 191h2M154 193h2M184 193h2M192 193h2M196 197h2M194 201h2M200 201h2M202 203h2M204 205h2" stroke="#f8cdc7" stroke-width="2" fill="none"/>
<path d="M0 1h2M0 3h4M0 5h6M2 7h6M0 9h10M2 11h2M6 11h6M8 13h6M4 15h2M10 15h6M2 17h2M6 17h12M8 19h2M14 19h6M2 21h2M12 21h10M2 23h2M12 23h6M20 23h4M16 25h2M20 25h6M2 27h2M20 27h8M16 29h2M22 29h8M28 31h4M18 33h2M24 33h2M28 33h4M8 35h2M14 35h2M18 35h8M28 35h8M18 37h2M36 37h2M14 39h4M30 39h10M10 41h12M34 41h8M14 43h2M18 43h4M40 43h4M16 45h2M20 45h2M26 45h2M30 45h2M36 45h2M42 45h4M40 47h6M42 49h8M42 51h2M48 51h4M34 53h2M44 53h10M44 55h2M50 55h2M54 55h2M32 57h2M46 57h2M50 57h8M54 59h6M16 61h2M20 61h2M44 61h2M58 61h4M12 63h4M60 63h4M56 65h2M60 65h6M8 67h2M12 67h8M36 67h2M56 67h12M6 69h4M14 69h2M36 69h2M56 69h4M62 69h8M64 71h8M8 73h2M30 73h2M64 73h10M8 75h2M22 75h2M34 75h2M64 75h12M64 77h4M72 77h6M68 79h2M74 79h2M78 79h2M66 81h6M74 81h8M70 83h2M76 83h8M84 85h2M80 87h4M86 87h2M86 89h4M90 91h2M62 93h4M70 93h6M82 93h2M86 93h2M90 93h4M68 95h2M90 95h6M70 97h2M74 97h2M86 97h4M94 97h4M88 99h2M94 99h6M50 101h2M68 101h2M94 101h2M100 101h2M98 103h4M100 105h6M104 107h4M102 109h2M106 109h4M44 111h2M104 111h4M110 111h2M110 113h2M114 115h2M116 119h4M114 121h8M112 123h12M116 125h10M8 127h2M68 127h4M80 127h2M118 127h10M68 129h2M126 129h4M120 131h2M124 131h8M10 133h2M68 133h2M126 133h8M2 135h2M20 135h2M70 135h2M120 135h2M130 135h2M134 135h2M136 137h2M130 139h2M134 139h2M138 139h2M124 141h2M130 141h12M136 143h4M142 143h2M64 145h2M134 145h4M146 147h2M148 149h2M148 151h2M148 153h6M150 155h6M148 157h4M154 157h4M44 159h2M156 159h4M148 161h8M158 161h4M152 163h2M156 163h4M162 163h2M44 165h2M158 165h2M150 167h2M166 167h2M150 169h4M168 169h2M172 173h2M172 175h4M178 179h2M180 181h2M130 183h2M180 183h4M184 187h4M152 189h2M172 189h2M188 189h2M188 191h4M188 193h2M194 195h2M194 197h2M194 199h6" stroke="#fef3ec" stroke-width="2" fill="none"/>
<rect x="0" y="1" width="1" height="205" fill="#4b126e" fill-opacity="0.16"/>
<rect x="4" y="5" width="1" height="201" fill="#4b126e" fill-opacity="0.23"/>
<rect x="5" y="6" width="1" height="200" fill="#4b126e" fill-opacity="0.12"/>
<rect x="8" y="9" width="1" height="197" fill="#4b126e" fill-opacity="0.10"/>
<rect x="10" y="11" width="1" height="195" fill="#4b126e" fill-opacity="0.50"/>
<rect x="11" y="12" width="1" height="194" fill="#4b126e" fill-opacity="0.15"/>
<rect x="12" y="13" width="1" height="193" fill="#4b126e" fill-opacity="0.32"/>
<rect x="14" y="15" width="1" height="191" fill="#4b126e" fill-opacity="0.10"/>
<rect x="15" y="16" width="1" height="190" fill="#4b126e" fill-opacity="0.25"/>
<rect x="18" y="19" width="1" height="187" fill="#4b126e" fill-opacity="0.34"/>
<rect x="20" y="21" width="1" height="185" fill="#4b126e" fill-opacity="0.38"/>
<rect x="22" y="23" width="1" height="183" fill="#4b126e" fill-opacity="0.34"/>
<rect x="24" y="25" width="1" height="181" fill="#4b126e" fill-opacity="0.08"/>
<rect x="27" y="28" width="1" height="178" fill="#4b126e" fill-opacity="0.21"/>
<rect x="28" y="29" width="1" height="177" fill="#4b126e" fill-opacity="0.46"/>
<rect x="30" y="31" width="1" height="175" fill="#4b126e" fill-opacity="0.15"/>
<rect x="39" y="40" width="1" height="166" fill="#4b126e" fill-opacity="0.20"/>
<rect x="40" y="41" width="1" height="165" fill="#4b126e" fill-opacity="0.14"/>
<rect x="43" y="44" width="1" height="162" fill="#4b126e" fill-opacity="0.32"/>
<rect x="47" y="48" width="1" height="158" fill="#4b126e" fill-opacity="0.18"/>
<rect x="48" y="49" width="1" height="157" fill="#4b126e" fill-opacity="0.30"/>
<rect x="49" y="50" width="1" height="156" fill="#4b126e" fill-opacity="0.27"/>
<rect x="54" y="55" width="1" height="151" fill="#4b126e" fill-opacity="0.22"/>
<rect x="57" y="58" width="1" height="148" fill="#4b126e" fill-opacity="0.29"/>
<rect x="58" y="59" width="1" height="147" fill="#4b126e" fill-opacity="0.21"/>
<rect x="61" y="62" width="1" height="144" fill="#4b126e" fill-opacity="0.10"/>
<rect x="67" y="68" width="1" height="138" fill="#4b126e" fill-opacity="0.37"/>
<rect x="71" y="72" width="1" height="134" fill="#4b126e" fill-opacity="0.37"/>
<rect x="73" y="74" width="1" height="132" fill="#4b126e" fill-opacity="0.23"/>
<rect x="74" y="75" width="1" height="131" fill="#4b126e" fill-opacity="0.11"/>
<rect x="77" y="78" width="1" height="128" fill="#4b126e" fill-opacity="0.15"/>
<rect x="78" y="79" width="1" height="127" fill="#4b126e" fill-opacity="0.17"/>
<rect x="82" y="83" width="1" height="123" fill="#4b126e" fill-opacity="0.24"/>
<rect x="83" y="84" width="1" height="122" fill="#4b126e" fill-opacity="0.10"/>
<rect x="84" y="85" width="1" height="121" fill="#4b126e" fill-opacity="0.33"/>
<rect x="86" y="87" width="1" height="119" fill="#4b126e" fill-opacity="0.20"/>
<rect x="91" y="92" width="1" height="114" fill="#4b126e" fill-opacity="0.10"/>
<rect x="95" y="96" width="1" height="110" fill="#4b126e" fill-opacity="0.22"/>
<rect x="98" y="99" width="1" height="107" fill="#4b126e" fill-opacity="0.08"/>
<rect x="99" y="100" width="1" height="106" fill="#4b126e" fill-opacity="0.15"/>
<rect x="100" y="101" width="1" height="105" fill="#4b126e" fill-opacity="0.06"/>
<rect x="101" y="102" width="1" height="104" fill="#4b126e" fill-opacity="0.28"/>
<rect x="102" y="103" width="1" height="103" fill="#4b126e" fill-opacity="0.13"/>
<rect x="103" y="104" width="1" height="102" fill="#4b126e" fill-opacity="0.16"/>
<rect x="105" y="106" width="1" height="100" fill="#4b126e" fill-opacity="0.08"/>
<rect x="110" y="111" width="1" height="95" fill="#4b126e" fill-opacity="0.07"/>
<rect x="111" y="112" width="1" height="94" fill="#4b126e" fill-opacity="0.50"/>
<rect x="117" y="118" width="1" height="88" fill="#4b126e" fill-opacity="0.50"/>
<rect x="122" y="123" width="1" height="83" fill="#4b126e" fill-opacity="0.15"/>
<rect x="123" y="124" width="1" height="82" fill="#4b126e" fill-opacity="0.17"/>
<rect x="124" y="125" width="1" height="81" fill="#4b126e" fill-opacity="0.17"/>
<rect x="125" y="126" width="1" height="80" fill="#4b126e" fill-opacity="0.18"/>
<rect x="126" y="127" width="1" height="79" fill="#4b126e" fill-opacity="0.11"/>
<rect x="127" y="128" width="1" height="78" fill="#4b126e" fill-opacity="0.30"/>
<rect x="129" y="130" width="1" height="76" fill="#4b126e" fill-opacity="0.15"/>
<rect x="131" y="132" width="1" height="74" fill="#4b126e" fill-opacity="0.16"/>
<rect x="136" y="137" width="1" height="69" fill="#4b126e" fill-opacity="0.19"/>
<rect x="137" y="138" width="1" height="68" fill="#4b126e" fill-opacity="0.31"/>
<rect x="139" y="140" width="1" height="66" fill="#4b126e" fill-opacity="0.07"/>
<rect x="140" y="141" width="1" height="65" fill="#4b126e" fill-opacity="0.33"/>
<rect x="141" y="142" width="1" height="64" fill="#4b126e" fill-opacity="0.06"/>
<rect x="144" y="145" width="1" height="61" fill="#4b126e" fill-opacity="0.41"/>
<rect x="145" y="146" width="1" height="60" fill="#4b126e" fill-opacity="0.30"/>
<rect x="147" y="148" width="1" height="58" fill="#4b126e" fill-opacity="0.34"/>
<rect x="148" y="149" width="1" height="57" fill="#4b126e" fill-opacity="0.07"/>
<rect x="151" y="152" width="1" height="54" fill="#4b126e" fill-opacity="0.10"/>
<rect x="154" y="155" width="1" height="51" fill="#4b126e" fill-opacity="0.27"/>
<rect x="155" y="156" width="1" height="50" fill="#4b126e" fill-opacity="0.18"/>
<rect x="156" y="157" width="1" height="49" fill="#4b126e" fill-opacity="0.28"/>
<rect x="160" y="161" width="1" height="45" fill="#4b126e" fill-opacity="0.49"/>
<rect x="162" y="163" width="1" height="43" fill="#4b126e" fill-opacity="0.22"/>
<rect x="163" y="164" width="1" height="42" fill="#4b126e" fill-opacity="0.11"/>
<rect x="165" y="166" width="1" height="40" fill="#4b126e" fill-opacity="0.08"/>
<rect x="166" y="167" width="1" height="39" fill="#4b126e" fill-opacity="0.48"/>
<rect x="167" y="168" width="1" height="38" fill="#4b126e" fill-opacity="0.12"/>
<rect x="168" y="169" width="1" height="37" fill="#4b126e" fill-opacity="0.12"/>
<rect x="169" y="170" width="1" height="36" fill="#4b126e" fill-opacity="0.11"/>
<rect x="170" y="171" width="1" height="35" fill="#4b126e" fill-opacity="0.15"/>
<rect x="171" y="172" width="1" height="34" fill="#4b126e" fill-opacity="0.13"/>
<rect x="173" y="174" width="1" height="32" fill="#4b126e" fill-opacity="0.22"/>
<rect x="179" y="180" width="1" height="26" fill="#4b126e" fill-opacity="0.07"/>
<rect x="180" y="181" width="1" height="25" fill="#4b126e" fill-opacity="0.11"/>
<rect x="181" y="182" width="1" height="24" fill="#4b126e" fill-opacity="0.36"/>
<rect x="183" y="184" width="1" height="22" fill="#4b126e" fill-opacity="0.21"/>
<rect x="185" y="186" width="1" height="20" fill="#4b126e" fill-opacity="0.10"/>
<rect x="187" y="188" width="1" height="18" fill="#4b126e" fill-opacity="0.50"/>
<rect x="189" y="190" width="1" height="16" fill="#4b126e" fill-opacity="0.12"/>
<rect x="192" y="193" width="1" height="13" fill="#4b126e" fill-opacity="0.50"/>
<rect x="194" y="195" width="1" height="11" fill="#4b126e" fill-opacity="0.26"/>
<rect x="195" y="196" width="1" height="10" fill="#4b126e" fill-opacity="0.34"/>
<rect x="196" y="197" width="1" height="9" fill="#4b126e" fill-opacity="0.22"/>
<rect x="198" y="199" width="1" height="7" fill="#4b126e" fill-opacity="0.37"/>
<rect x="199" y="200" width="1" height="6" fill="#4b126e" fill-opacity="0.28"/>
<rect x="200" y="201" width="1" height="5" fill="#4b126e" fill-opacity="0.14"/>
<rect x="202" y="203" width="1" height="3" fill="#4b126e" fill-opacity="0.07"/>
<rect x="203" y="204" width="1" height="2" fill="#4b126e" fill-opacity="0.20"/>
<rect x="205" y="206" width="1" height="0" fill="#4b126e" fill-opacity="0.08"/>
<rect x="0" y="3" width="3" height="1" fill="#4b126e" fill-opacity="0.33"/>
<rect x="0" y="4" width="4" height="1" fill="#4b126e" fill-opacity="0.24"/>
<rect x="0" y="5" width="5" height="1" fill="#4b126e" fill-opacity="0.22"/>
<rect x="0" y="6" width="6" height="1" fill="#4b126e" fill-opacity="0.10"/>
<rect x="0" y="10" width="10" height="1" fill="#4b126e" fill-opacity="0.31"/>
<rect x="0" y="13" width="13" height="1" fill="#4b126e" fill-opacity="0.17"/>
<rect x="0" y="14" width="14" height="1" fill="#4b126e" fill-opacity="0.19"/>
<rect x="0" y="16" width="16" height="1" fill="#4b126e" fill-opacity="0.16"/>
<rect x="0" y="17" width="17" height="1" fill="#4b126e" fill-opacity="0.27"/>
<rect x="0" y="18" width="18" height="1" fill="#4b126e" fill-opacity="0.16"/>
<rect x="0" y="20" width="20" height="1" fill="#4b126e" fill-opacity="0.21"/>
<rect x="0" y="22" width="22" height="1" fill="#4b126e" fill-opacity="0.15"/>
<rect x="0" y="23" width="23" height="1" fill="#4b126e" fill-opacity="0.19"/>
<rect x="0" y="24" width="24" height="1" fill="#4b126e" fill-opacity="0.15"/>
<rect x="0" y="25" width="25" height="1" fill="#4b126e" fill-opacity="0.07"/>
<rect x="0" y="26" width="26" height="1" fill="#4b126e" fill-opacity="0.18"/>
<rect x="0" y="27" width="27" height="1" fill="#4b126e" fill-opacity="0.32"/>
<rect x="0" y="38" width="38" height="1" fill="#4b126e" fill-opacity="0.37"/>
<rect x="0" y="39" width="39" height="1" fill="#4b126e" fill-opacity="0.16"/>
<rect x="0" y="42" width="42" height="1" fill="#4b126e" fill-opacity="0.11"/>
<rect x="0" y="44" width="44" height="1" fill="#4b126e" fill-opacity="0.13"/>
<rect x="0" y="47" width="47" height="1" fill="#4b126e" fill-opacity="0.10"/>
<rect x="0" y="49" width="49" height="1" fill="#4b126e" fill-opacity="0.16"/>
<rect x="0" y="50" width="50" height="1" fill="#4b126e" fill-opacity="0.26"/>
<rect x="0" y="51" width="51" height="1" fill="#4b126e" fill-opacity="0.21"/>
<rect x="0" y="52" width="52" height="1" fill="#4b126e" fill-opacity="0.07"/>
<rect x="0" y="53" width="53" height="1" fill="#4b126e" fill-opacity="0.09"/>
<rect x="0" y="55" width="55" height="1" fill="#4b126e" fill-opacity="0.05"/>
<rect x="0" y="58" width="58" height="1" fill="#4b126e" fill-opacity="0.14"/>
<rect x="0" y="61" width="61" height="1" fill="#4b126e" fill-opacity="0.13"/>
<rect x="0" y="63" width="63" height="1" fill="#4b126e" fill-opacity="0.34"/>
<rect x="0" y="65" width="65" height="1" fill="#4b126e" fill-opacity="0.16"/>
<rect x="0" y="66" width="66" height="1" fill="#4b126e" fill-opacity="0.20"/>
<rect x="0" y="67" width="67" height="1" fill="#4b126e" fill-opacity="0.27"/>
<rect x="0" y="69" width="69" height="1" fill="#4b126e" fill-opacity="0.32"/>
<rect x="0" y="70" width="70" height="1" fill="#4b126e" fill-opacity="0.17"/>
<rect x="0" y="71" width="71" height="1" fill="#4b126e" fill-opacity="0.05"/>
<rect x="0" y="73" width="73" height="1" fill="#4b126e" fill-opacity="0.44"/>
<rect x="0" y="74" width="74" height="1" fill="#4b126e" fill-opacity="0.16"/>
<rect x="0" y="75" width="75" height="1" fill="#4b126e" fill-opacity="0.28"/>
<rect x="0" y="76" width="76" height="1" fill="#4b126e" fill-opacity="0.23"/>
<rect x="0" y="77" width="77" height="1" fill="#4b126e" fill-opacity="0.35"/>
<rect x="0" y="78" width="78" height="1" fill="#4b126e" fill-opacity="0.10"/>
<rect x="0" y="79" width="79" height="1" fill="#4b126e" fill-opacity="0.22"/>
<rect x="0" y="82" width="82" height="1" fill="#4b126e" fill-opacity="0.24"/>
<rect x="0" y="83" width="83" height="1" fill="#4b126e" fill-opacity="0.13"/>
<rect x="0" y="84" width="84" height="1" fill="#4b126e" fill-opacity="0.22"/>
<rect x="0" y="86" width="86" height="1" fill="#4b126e" fill-opacity="0.27"/>
<rect x="0" y="88" width="88" height="1" fill="#4b126e" fill-opacity="0.07"/>
<rect x="0" y="89" width="89" height="1" fill="#4b126e" fill-opacity="0.36"/>
<rect x="0" y="90" width="90" height="1" fill="#4b126e" fill-opacity="0.50"/>
<rect x="0" y="92" width="92" height="1" fill="#4b126e" fill-opacity="0.24"/>
<rect x="0" y="93" width="93" height="1" fill="#4b126e" fill-opacity="0.12"/>
<rect x="0" y="94" width="94" height="1" fill="#4b126e" fill-opacity="0.13"/>
<rect x="0" y="95" width="95" height="1" fill="#4b126e" fill-opacity="0.13"/>
<rect x="0" y="97" width="97" height="1" fill="#4b126e" fill-opacity="0.14"/>
<rect x="0" y="100" width="100" height="1" fill="#4b126e" fill-opacity="0.15"/>
<rect x="0" y="102" width="102" height="1" fill="#4b126e" fill-opacity="0.12"/>
<rect x="0" y="103" width="103" height="1" fill="#4b126e" fill-opacity="0.23"/>
<rect x="0" y="108" width="108" height="1" fill="#4b126e" fill-opacity="0.40"/>
<rect x="0" y="111" width="111" height="1" fill="#4b126e" fill-opacity="0.16"/>
<rect x="0" y="112" width="112" height="1" fill="#4b126e" fill-opacity="0.22"/>
<rect x="0" y="113" width="113" height="1" fill="#4b126e" fill-opacity="0.05"/>
<rect x="0" y="114" width="114" height="1" fill="#4b126e" fill-opacity="0.35"/>
<rect x="0" y="116" width="116" height="1" fill="#4b126e" fill-opacity="0.38"/>
<rect x="0" y="118" width="118" height="1" fill="#4b126e" fill-opacity="0.35"/>
<rect x="0" y="119" width="119" height="1" fill="#4b126e" fill-opacity="0.26"/>
<rect x="0" y="121" width="121" height="1" fill="#4b126e" fill-opacity="0.11"/>
<rect x="0" y="122" width="122" height="1" fill="#4b126e" fill-opacity="0.15"/>
<rect x="0" y="126" width="126" height="1" fill="#4b126e" fill-opacity="0.06"/>
<rect x="0" y="127" width="127" height="1" fill="#4b126e" fill-opacity="0.12"/>
<rect x="0" y="128" width="128" height="1" fill="#4b126e" fill-opacity="0.11"/>
<rect x="0" y="129" width="129" height="1" fill="#4b126e" fill-opacity="0.22"/>
<rect x="0" y="134" width="134" height="1" fill="#4b126e" fill-opacity="0.29"/>
<rect x="0" y="136" width="136" height="1" fill="#4b126e" fill-opacity="0.09"/>
<rect x="0" y="137" width="137" height="1" fill="#4b126e" fill-opacity="0.29"/>
<rect x="0" y="139" width="139" height="1" fill="#4b126e" fill-opacity="0.20"/>
<rect x="0" y="141" width="141" height="1" fill="#4b126e" fill-opacity="0.18"/>
<rect x="0" y="142" width="142" height="1" fill="#4b126e" fill-opacity="0.26"/>
<rect x="0" y="143" width="143" height="1" fill="#4b126e" fill-opacity="0.27"/>
<rect x="0" y="145" width="145" height="1" fill="#4b126e" fill-opacity="0.06"/>
<rect x="0" y="146" width="146" height="1" fill="#4b126e" fill-opacity="0.31"/>
<rect x="0" y="148" width="148" height="1" fill="#4b126e" fill-opacity="0.26"/>
<rect x="0" y="149" width="149" height="1" fill="#4b126e" fill-opacity="0.08"/>
<rect x="0" y="150" width="150" height="1" fill="#4b126e" fill-opacity="0.36"/>
<rect x="0" y="152" width="152" height="1" fill="#4b126e" fill-opacity="0.15"/>
<rect x="0" y="155" width="155" height="1" fill="#4b126e" fill-opacity="0.33"/>
<rect x="0" y="158" width="158" height="1" fill="#4b126e" fill-opacity="0.29"/>
<rect x="0" y="160" width="160" height="1" fill="#4b126e" fill-opacity="0.50"/>
<rect x="0" y="161" width="161" height="1" fill="#4b126e" fill-opacity="0.21"/>
<rect x="0" y="162" width="162" height="1" fill="#4b126e" fill-opacity="0.06"/>
<rect x="0" y="163" width="163" height="1" fill="#4b126e" fill-opacity="0.45"/>
<rect x="0" y="164" width="164" height="1" fill="#4b126e" fill-opacity="0.14"/>
<rect x="0" y="167" width="167" height="1" fill="#4b126e" fill-opacity="0.39"/>
<rect x="0" y="168" width="168" height="1" fill="#4b126e" fill-opacity="0.16"/>
<rect x="0" y="169" width="169" height="1" fill="#4b126e" fill-opacity="0.05"/>
<rect x="0" y="170" width="170" height="1" fill="#4b126e" fill-opacity="0.18"/>
<rect x="0" y="172" width="172" height="1" fill="#4b126e" fill-opacity="0.11"/>
<rect x="0" y="175" width="175" height="1" fill="#4b126e" fill-opacity="0.09"/>
<rect x="0" y="176" width="176" height="1" fill="#4b126e" fill-opacity="0.06"/>
<rect x="0" y="177" width="177" height="1" fill="#4b126e" fill-opacity="0.23"/>
<rect x="0" y="181" width="181" height="1" fill="#4b126e" fill-opacity="0.27"/>
<rect x="0" y="182" width="182" height="1" fill="#4b126e" fill-opacity="0.16"/>
<rect x="0" y="184" width="184" height="1" fill="#4b126e" fill-opacity="0.15"/>
<rect x="0" y="185" width="185" height="1" fill="#4b126e" fill-opacity="0.23"/>
<rect x="0" y="186" width="186" height="1" fill="#4b126e" fill-opacity="0.10"/>
<rect x="0" y="187" width="187" height="1" fill="#4b126e" fill-opacity="0.11"/>
<rect x="0" y="188" width="188" height="1" fill="#4b126e" fill-opacity="0.37"/>
<rect x="0" y="189" width="189" height="1" fill="#4b126e" fill-opacity="0.23"/>
<rect x="0" y="195" width="195" height="1" fill="#4b126e" fill-opacity="0.21"/>
<rect x="0" y="196" width="196" height="1" fill="#4b126e" fill-opacity="0.14"/>
<rect x="0" y="197" width="197" height="1" fill="#4b126e" fill-opacity="0.11"/>
<rect x="0" y="200" width="200" height="1" fill="#4b126e" fill-opacity="0.31"/>
<rect x="0" y="202" width="202" height="1" fill="#4b126e" fill-opacity="0.08"/>
<rect x="0" y="204" width="204" height="1" fill="#4b126e" fill-opacity="0.09"/>
<rect x="0" y="205" width="205" height="1" fill="#4b126e" fill-opacity="0.36"/>
</g>
<path d="M0 0L206 206" stroke="#fdf1ea" stroke-width="1.3" shape-rendering="geometricPrecision"/>
<path d="M0 0L-1 -1H207V207Z" fill="#450f6b" shape-rendering="geometricPrecision"/>
</g></g>
<path d="M994.7 64.0L994.7 75.0" stroke="#e9502c" stroke-width="2.5" fill="none"/>
<path d="M994.7 85.4L986.7 70.4L994.7 75.0L1002.7 70.4Z" fill="#e9502c"/>
<path d="M994.7 85.4L1006.7 99.1" stroke="#e9502c" stroke-width="2.5" fill="none"/>
<path d="M1013.6 106.9L997.7 100.9L1006.7 99.1L1009.7 90.4Z" fill="#e9502c"/>
<path d="M1013.6 106.9L1002.0 119.4" stroke="#e9502c" stroke-width="2.5" fill="none"/>
<path d="M994.9 127.0L999.3 110.6L1002.0 119.4L1011.0 121.5Z" fill="#e9502c"/>
<path d="M994.9 127.0L1004.6 139.3" stroke="#e9502c" stroke-width="2.5" fill="none"/>
<path d="M1011.0 147.5L995.4 140.6L1004.6 139.3L1008.0 130.8Z" fill="#e9502c"/>
<path d="M1011.0 147.5L1026.7 161.9" stroke="#e9502c" stroke-width="2.5" fill="none"/>
<path d="M1034.3 169.0L1017.9 164.7L1026.7 161.9L1028.7 152.9Z" fill="#e9502c"/>
<path d="M1034.3 169.0L1048.8 184.1" stroke="#e9502c" stroke-width="2.5" fill="none"/>
<path d="M1056.0 191.6L1039.8 186.3L1048.8 184.1L1051.4 175.2Z" fill="#e9502c"/>
<path d="M1056.0 191.6L1091.5 209.9" stroke="#e9502c" stroke-width="2.5" fill="none"/>
<path d="M1100.8 214.6L1083.8 214.9L1091.5 209.9L1091.1 200.6Z" fill="#e9502c"/>
<text x="1053.8" y="304.7" font-size="35.6" font-weight="bold" textLength="217.4" lengthAdjust="spacingAndGlyphs"><tspan fill="#000" stroke="#000" stroke-width="0.3">(c) </tspan><tspan fill="#e9502c" stroke="#e9502c" stroke-width="0.3">High</tspan><tspan fill="#000" stroke="#000" stroke-width="0.3"> Shift</tspan></text>
<g transform="translate(1447.00,51.60)">
<rect x="0" y="0" width="176.64" height="176.64" fill="#3f1065"/>
<rect x="0.00" y="0.00" width="22.13" height="22.13" fill="#dc97a7"/>
<rect x="0.00" y="22.08" width="22.13" height="22.13" fill="#5a1f68"/>
<rect x="22.08" y="22.08" width="22.13" height="22.13" fill="#f7deda"/>
<rect x="0.00" y="44.16" width="22.13" height="22.13" fill="#5a1f68"/>
<rect x="22.08" y="44.16" width="22.13" height="22.13" fill="#f7deda"/>
<rect x="44.16" y="44.16" width="22.13" height="22.13" fill="#dc97a7"/>
<rect x="0.00" y="66.24" width="22.13" height="22.13" fill="#5a1f68"/>
<rect x="22.08" y="66.24" width="22.13" height="22.13" fill="#f7deda"/>
<rect x="44.16" y="66.24" width="22.13" height="22.13" fill="#5a1f68"/>
<rect x="66.24" y="66.24" width="22.13" height="22.13" fill="#dc97a7"/>
<rect x="0.00" y="88.32" width="22.13" height="22.13" fill="#5a1f68"/>
<rect x="22.08" y="88.32" width="22.13" height="22.13" fill="#f7deda"/>
<rect x="44.16" y="88.32" width="22.13" height="22.13" fill="#5a1f68"/>
<rect x="66.24" y="88.32" width="22.13" height="22.13" fill="#5a1f68"/>
<rect x="88.32" y="88.32" width="22.13" height="22.13" fill="#dc97a7"/>
<rect x="0.00" y="110.40" width="22.13" height="22.13" fill="#5a1f68"/>
<rect x="22.08" y="110.40" width="22.13" height="22.13" fill="#f7deda"/>
<rect x="44.16" y="110.40" width="22.13" height="22.13" fill="#5a1f68"/>
<rect x="66.24" y="110.40" width="22.13" height="22.13" fill="#5a1f68"/>
<rect x="88.32" y="110.40" width="22.13" height="22.13" fill="#5a1f68"/>
<rect x="110.40" y="110.40" width="22.13" height="22.13" fill="#f7deda"/>
<rect x="0.00" y="132.48" width="22.13" height="22.13" fill="#5a1f68"/>
<rect x="22.08" y="132.48" width="22.13" height="22.13" fill="#f7deda"/>
<rect x="44.16" y="132.48" width="22.13" height="22.13" fill="#5a1f68"/>
<rect x="66.24" y="132.48" width="22.13" height="22.13" fill="#5a1f68"/>
<rect x="88.32" y="132.48" width="22.13" height="22.13" fill="#5a1f68"/>
<rect x="110.40" y="132.48" width="22.13" height="22.13" fill="#f7deda"/>
<rect x="132.48" y="132.48" width="22.13" height="22.13" fill="#dc97a7"/>
<rect x="0.00" y="154.56" width="22.13" height="22.13" fill="#5a1f68"/>
<rect x="22.08" y="154.56" width="22.13" height="22.13" fill="#f7deda"/>
<rect x="44.16" y="154.56" width="22.13" height="22.13" fill="#5a1f68"/>
<rect x="66.24" y="154.56" width="22.13" height="22.13" fill="#5a1f68"/>
<rect x="88.32" y="154.56" width="22.13" height="22.13" fill="#5a1f68"/>
<rect x="110.40" y="154.56" width="22.13" height="22.13" fill="#f7deda"/>
<rect x="132.48" y="154.56" width="22.13" height="22.13" fill="#dc97a7"/>
<rect x="154.56" y="154.56" width="22.13" height="22.13" fill="#dc97a7"/>
<path d="M0.00 0V176.64M0 0.00H176.64M22.08 0V176.64M0 22.08H176.64M44.16 0V176.64M0 44.16H176.64M66.24 0V176.64M0 66.24H176.64M88.32 0V176.64M0 88.32H176.64M110.40 0V176.64M0 110.40H176.64M132.48 0V176.64M0 132.48H176.64M154.56 0V176.64M0 154.56H176.64M176.64 0V176.64M0 176.64H176.64" stroke="#1c2653" stroke-width="0.9" fill="none" stroke-linecap="square"/>
</g>
<text x="1535.0" y="256.4" font-size="32.2" text-anchor="middle" fill="#d6d6d6" stroke="#d6d6d6" stroke-width="0.45">Spatial</text>
<path d="M1482.4 245.5H1461.3" stroke="#eeeeee" stroke-width="3.8" fill="none"/>
<path d="M1446.3 245.5L1462.3 237.5V253.5Z" fill="#eeeeee"/>
<path d="M1586.9 245.5H1608.2" stroke="#eeeeee" stroke-width="3.8" fill="none"/>
<path d="M1623.2 245.5L1607.2 237.5V253.5Z" fill="#eeeeee"/>
<text transform="translate(1438.0,142.8) rotate(-90)" font-size="32.2" text-anchor="middle" fill="black" stroke="black" stroke-width="0.45">Temporal</text>
<path d="M1428.9 76.8V66.6" stroke="#e82a1c" stroke-width="3.8" fill="none"/>
<path d="M1428.9 52.6L1420.9 67.6H1436.9Z" fill="#e82a1c"/>
<path d="M1428.9 202.6V214.0" stroke="#e82a1c" stroke-width="3.8" fill="none"/>
<path d="M1428.9 228.0L1420.9 213.0H1436.9Z" fill="#e82a1c"/>
<path d="M1626.6 51.6H1657.5" stroke="#e82a1c" stroke-width="3" stroke-dasharray="11 8" fill="none"/>
<path d="M1625.2 231.2L1657.7 255.6" stroke="#e82a1c" stroke-width="3" stroke-dasharray="11.2 7.6" fill="none"/>
<g transform="translate(1659.0,51) scale(0.9968)" clip-path="url(#hc)"><g shape-rendering="crispEdges">
<rect x="-1" y="-1" width="208" height="208" fill="#450f6b"/>
<g filter="url(#fm)">
<rect x="-1" y="-1" width="208" height="208" fill="#8e3383"/>
<path d="M6.5 113v1M6.5 141v1M6.5 145v1M6.5 149v2M6.5 155v1M6.5 157v1M6.5 159v2M6.5 171v1M6.5 183v1M6.5 185v2M6.5 191v2M6.5 196v1M6.5 198v1M6.5 203v1M7.5 198v1M16.5 106v1M16.5 113v2M16.5 123v1M16.5 126v3M16.5 130v1M16.5 132v4M16.5 137v2M16.5 140v6M16.5 147v15M16.5 164v2M16.5 167v6M16.5 175v7M16.5 183v6M16.5 190v3M16.5 194v6M16.5 202v4M100.5 113v1M100.5 141v1M100.5 145v1M100.5 149v2M100.5 155v1M100.5 171v1M100.5 183v1M100.5 191v1M100.5 196v1M100.5 198v1M100.5 203v1" stroke="#541772" stroke-width="1" fill="none"/>
<path d="M0.5 113v1M0.5 127v1M0.5 133v3M0.5 137v1M0.5 141v1M0.5 143v3M0.5 148v3M0.5 152v9M0.5 164v2M0.5 168v1M0.5 170v2M0.5 175v1M0.5 179v1M0.5 181v1M0.5 183v6M0.5 190v3M0.5 195v4M0.5 202v2M1.5 113v1M1.5 133v2M1.5 137v1M1.5 141v1M1.5 143v3M1.5 149v2M1.5 154v4M1.5 159v2M1.5 171v1M1.5 183v1M1.5 185v4M1.5 191v2M1.5 196v3M1.5 203v1M2.5 113v1M2.5 133v2M2.5 137v1M2.5 141v1M2.5 143v3M2.5 148v3M2.5 152v6M2.5 159v2M2.5 164v2M2.5 170v2M2.5 181v1M2.5 183v6M2.5 190v3M2.5 196v3M2.5 202v2M3.5 113v1M3.5 127v1M3.5 133v2M3.5 137v1M3.5 141v1M3.5 143v3M3.5 148v3M3.5 152v9M3.5 164v2M3.5 168v1M3.5 170v2M3.5 175v1M3.5 179v1M3.5 181v1M3.5 183v6M3.5 190v3M3.5 195v4M3.5 202v2M4.5 106v1M4.5 111v1M4.5 113v2M4.5 123v2M4.5 126v3M4.5 130v1M4.5 132v4M4.5 137v2M4.5 140v6M4.5 147v15M4.5 164v2M4.5 167v7M4.5 175v7M4.5 183v6M4.5 190v3M4.5 194v6M4.5 202v4M5.5 106v1M5.5 111v1M5.5 113v2M5.5 116v1M5.5 118v1M5.5 123v2M5.5 126v5M5.5 132v7M5.5 140v6M5.5 147v15M5.5 164v2M5.5 167v15M5.5 183v6M5.5 190v3M5.5 194v6M5.5 202v4M6.5 71v1M6.5 94v2M6.5 97v16M6.5 114v27M6.5 142v3M6.5 146v3M6.5 151v4M6.5 156v1M6.5 158v1M6.5 161v10M6.5 172v11M6.5 184v1M6.5 187v4M6.5 193v3M6.5 197v1M6.5 199v4M6.5 204v2M7.5 98v1M7.5 102v96M7.5 199v7M8.5 113v1M8.5 141v1M8.5 145v1M8.5 149v2M8.5 155v1M8.5 171v1M8.5 183v1M8.5 191v1M8.5 196v1M8.5 198v1M8.5 203v1M9.5 149v2M9.5 171v1M9.5 198v1M10.5 113v1M10.5 141v1M10.5 145v1M10.5 149v2M10.5 155v1M10.5 171v1M10.5 183v1M10.5 191v1M10.5 196v1M10.5 198v1M10.5 203v1M12.5 149v2M12.5 171v1M12.5 183v1M12.5 198v1M13.5 106v1M13.5 111v1M13.5 113v2M13.5 116v1M13.5 118v1M13.5 123v2M13.5 126v5M13.5 132v7M13.5 140v6M13.5 147v15M13.5 164v2M13.5 167v15M13.5 183v6M13.5 190v3M13.5 194v6M13.5 202v4M14.5 113v1M14.5 141v1M14.5 145v1M14.5 149v2M14.5 155v1M14.5 157v1M14.5 159v2M14.5 171v1M14.5 183v1M14.5 185v2M14.5 191v2M14.5 196v1M14.5 198v1M14.5 203v1M15.5 113v1M15.5 133v2M15.5 137v1M15.5 141v1M15.5 143v3M15.5 148v3M15.5 152v6M15.5 159v2M15.5 164v2M15.5 170v2M15.5 181v1M15.5 183v6M15.5 190v3M15.5 196v3M15.5 202v2M16.5 16v2M16.5 21v1M16.5 26v2M16.5 32v4M16.5 37v1M16.5 45v1M16.5 47v1M16.5 51v1M16.5 53v1M16.5 55v3M16.5 63v1M16.5 69v8M16.5 82v6M16.5 89v17M16.5 107v6M16.5 115v8M16.5 124v2M16.5 129v1M16.5 131v1M16.5 136v1M16.5 139v1M16.5 146v1M16.5 162v2M16.5 166v1M16.5 173v2M16.5 182v1M16.5 189v1M16.5 193v1M16.5 200v2M17.5 113v1M17.5 123v1M17.5 127v2M17.5 133v3M17.5 137v1M17.5 141v1M17.5 143v3M17.5 148v3M17.5 152v9M17.5 164v2M17.5 168v1M17.5 170v2M17.5 175v1M17.5 179v1M17.5 181v1M17.5 183v6M17.5 190v3M17.5 195v4M17.5 202v2M18.5 149v2M18.5 155v1M18.5 171v1M18.5 183v1M18.5 191v1M18.5 198v1M20.5 113v2M20.5 123v1M20.5 127v2M20.5 132v4M20.5 137v1M20.5 141v5M20.5 148v3M20.5 152v10M20.5 164v2M20.5 168v1M20.5 170v2M20.5 175v1M20.5 179v1M20.5 181v1M20.5 183v6M20.5 190v3M20.5 195v4M20.5 202v2M20.5 205v1M22.5 149v2M22.5 171v1M22.5 183v1M22.5 198v1M23.5 198v1M24.5 106v1M24.5 111v1M24.5 113v2M24.5 123v2M24.5 126v5M24.5 132v4M24.5 137v2M24.5 140v6M24.5 147v15M24.5 164v2M24.5 167v15M24.5 183v6M24.5 190v3M24.5 194v6M24.5 202v4M25.5 113v1M25.5 127v1M25.5 133v2M25.5 137v1M25.5 141v1M25.5 143v3M25.5 148v3M25.5 152v9M25.5 164v2M25.5 168v1M25.5 170v2M25.5 175v1M25.5 179v1M25.5 181v1M25.5 183v6M25.5 190v3M25.5 195v4M25.5 202v2M27.5 113v1M27.5 133v2M27.5 137v1M27.5 141v1M27.5 143v3M27.5 148v3M27.5 152v6M27.5 159v2M27.5 164v2M27.5 168v1M27.5 170v2M27.5 175v1M27.5 181v1M27.5 183v6M27.5 190v3M27.5 195v4M27.5 202v2M28.5 113v1M28.5 141v1M28.5 145v1M28.5 149v2M28.5 155v1M28.5 171v1M28.5 183v1M28.5 191v1M28.5 196v1M28.5 198v1M28.5 203v1M29.5 149v2M29.5 171v1M29.5 198v1M30.5 113v1M30.5 141v1M30.5 145v1M30.5 149v2M30.5 155v1M30.5 171v1M30.5 183v1M30.5 191v1M30.5 196v1M30.5 198v1M30.5 203v1M31.5 113v1M31.5 141v1M31.5 145v1M31.5 149v2M31.5 155v1M31.5 171v1M31.5 183v1M31.5 191v2M31.5 196v1M31.5 198v1M31.5 203v1M35.5 113v2M35.5 123v1M35.5 126v3M35.5 130v1M35.5 132v4M35.5 137v1M35.5 141v5M35.5 148v14M35.5 164v2M35.5 168v1M35.5 170v2M35.5 175v3M35.5 179v1M35.5 181v1M35.5 183v6M35.5 190v3M35.5 195v5M35.5 202v4M40.5 198v1M43.5 198v1M48.5 113v1M48.5 141v1M48.5 145v1M48.5 149v2M48.5 155v1M48.5 171v1M48.5 183v1M48.5 191v1M48.5 196v1M48.5 198v1M48.5 203v1M50.5 113v1M50.5 127v1M50.5 133v2M50.5 137v1M50.5 141v1M50.5 143v3M50.5 148v3M50.5 152v9M50.5 164v2M50.5 168v1M50.5 170v2M50.5 175v1M50.5 179v1M50.5 181v1M50.5 183v6M50.5 190v3M50.5 195v4M50.5 202v2M56.5 149v2M56.5 171v1M56.5 183v1M56.5 198v1M57.5 113v1M57.5 141v1M57.5 145v1M57.5 149v2M57.5 155v1M57.5 159v2M57.5 171v1M57.5 183v1M57.5 185v2M57.5 191v2M57.5 196v1M57.5 198v1M57.5 203v1M59.5 198v1M63.5 149v2M63.5 171v1M63.5 183v1M63.5 198v1M69.5 198v1M71.5 198v1M72.5 149v1M72.5 171v1M72.5 198v1M77.5 113v1M77.5 141v1M77.5 145v1M77.5 149v2M77.5 155v1M77.5 171v1M77.5 183v1M77.5 191v2M77.5 196v1M77.5 198v1M77.5 203v1M78.5 113v1M78.5 137v1M78.5 141v1M78.5 143v3M78.5 149v2M78.5 154v2M78.5 157v1M78.5 159v2M78.5 171v1M78.5 183v1M78.5 185v4M78.5 191v2M78.5 196v3M78.5 203v1M79.5 113v1M79.5 141v1M79.5 145v1M79.5 149v2M79.5 155v1M79.5 157v1M79.5 159v2M79.5 171v1M79.5 183v1M79.5 185v3M79.5 191v2M79.5 196v1M79.5 198v1M79.5 203v1M85.5 113v1M85.5 133v2M85.5 137v1M85.5 141v1M85.5 143v3M85.5 148v3M85.5 152v6M85.5 159v2M85.5 164v2M85.5 170v2M85.5 181v1M85.5 183v6M85.5 190v3M85.5 196v3M85.5 202v2M91.5 198v1M93.5 113v2M93.5 123v1M93.5 127v2M93.5 133v3M93.5 137v1M93.5 141v1M93.5 143v3M93.5 148v3M93.5 152v10M93.5 164v2M93.5 168v1M93.5 170v2M93.5 175v1M93.5 179v1M93.5 181v1M93.5 183v6M93.5 190v3M93.5 195v4M93.5 202v2M93.5 205v1M94.5 106v1M94.5 111v1M94.5 113v2M94.5 123v2M94.5 126v5M94.5 132v4M94.5 137v2M94.5 140v6M94.5 147v15M94.5 164v2M94.5 167v15M94.5 183v6M94.5 190v3M94.5 194v6M94.5 202v4M95.5 113v1M95.5 149v2M95.5 155v1M95.5 171v1M95.5 183v1M95.5 191v1M95.5 196v1M95.5 198v1M97.5 198v1M99.5 113v2M99.5 123v1M99.5 127v2M99.5 132v4M99.5 137v1M99.5 141v5M99.5 148v3M99.5 152v10M99.5 164v2M99.5 168v1M99.5 170v2M99.5 175v2M99.5 179v1M99.5 181v1M99.5 183v6M99.5 190v3M99.5 195v4M99.5 202v4M100.5 100v1M100.5 102v11M100.5 114v27M100.5 142v3M100.5 146v3M100.5 151v4M100.5 156v15M100.5 172v11M100.5 184v7M100.5 192v4M100.5 197v1M100.5 199v4M100.5 204v2M101.5 149v1M101.5 171v1M101.5 198v1M105.5 113v1M105.5 141v1M105.5 145v1M105.5 149v2M105.5 155v1M105.5 171v1M105.5 183v1M105.5 191v1M105.5 196v1M105.5 198v1M105.5 203v1M109.5 113v1M109.5 141v1M109.5 145v1M109.5 149v2M109.5 155v1M109.5 171v1M109.5 183v1M109.5 191v1M109.5 196v1M109.5 198v1M109.5 203v1M110.5 113v1M110.5 141v1M110.5 145v1M110.5 149v2M110.5 155v1M110.5 171v1M110.5 183v1M110.5 191v1M110.5 196v1M110.5 198v1M124.5 198v1M127.5 133v2M127.5 137v1M127.5 141v1M127.5 143v3M127.5 149v2M127.5 153v5M127.5 159v2M127.5 171v1M127.5 183v1M127.5 185v4M127.5 191v2M127.5 196v3M127.5 203v1M131.5 131v31M131.5 163v43M132.5 133v3M132.5 137v1M132.5 141v1M132.5 143v3M132.5 148v3M132.5 152v10M132.5 164v2M132.5 168v1M132.5 170v2M132.5 175v1M132.5 179v1M132.5 181v1M132.5 183v6M132.5 190v3M132.5 195v4M132.5 202v2M135.5 198v1M136.5 149v2M136.5 171v1M136.5 183v1M136.5 198v1M139.5 141v1M139.5 145v1M139.5 149v2M139.5 155v1M139.5 171v1M139.5 183v1M139.5 191v1M139.5 196v1M139.5 198v1M139.5 203v1M140.5 140v6M140.5 147v15M140.5 164v2M140.5 167v15M140.5 183v10M140.5 194v6M140.5 202v4M149.5 149v2M149.5 155v1M149.5 171v1M149.5 183v1M149.5 191v1M149.5 196v1M149.5 198v1M151.5 198v1M153.5 154v2M153.5 157v1M153.5 159v2M153.5 171v1M153.5 183v1M153.5 185v4M153.5 191v2M153.5 196v3M153.5 203v1M164.5 198v1M165.5 198v1M166.5 171v1M166.5 183v1M166.5 185v3M166.5 191v2M166.5 196v1M166.5 198v1M166.5 203v1M168.5 168v1M168.5 170v2M168.5 175v1M168.5 179v1M168.5 181v1M168.5 183v6M168.5 190v3M168.5 195v4M168.5 202v2M175.5 183v1M175.5 185v4M175.5 191v2M175.5 196v3M175.5 203v1M176.5 181v1M176.5 183v6M176.5 190v3M176.5 196v3M176.5 203v1M177.5 181v1M177.5 183v1M177.5 185v4M177.5 191v2M177.5 196v3M177.5 203v1M181.5 181v1M181.5 183v1M181.5 185v4M181.5 191v2M181.5 196v3M181.5 203v1M184.5 185v2M184.5 191v2M184.5 196v1M184.5 198v1M184.5 203v1M185.5 191v1M185.5 196v1M185.5 198v1M185.5 203v1M187.5 187v2M187.5 191v2M187.5 196v3M187.5 203v1M195.5 196v1M195.5 198v1M195.5 203v1M196.5 198v1M199.5 199v1M199.5 202v4M200.5 202v4" stroke="#662078" stroke-width="1" fill="none"/>
<path d="M0.5 94v2M0.5 98v2M0.5 102v11M0.5 114v13M0.5 128v5M0.5 136v1M0.5 138v3M0.5 142v1M0.5 146v2M0.5 151v1M0.5 161v3M0.5 166v2M0.5 169v1M0.5 172v3M0.5 176v3M0.5 180v1M0.5 182v1M0.5 189v1M0.5 193v2M0.5 199v3M0.5 204v2M1.5 98v1M1.5 102v11M1.5 114v19M1.5 135v2M1.5 138v3M1.5 142v1M1.5 146v3M1.5 151v3M1.5 158v1M1.5 161v10M1.5 172v11M1.5 184v1M1.5 189v2M1.5 193v3M1.5 199v4M1.5 204v2M2.5 95v1M2.5 98v2M2.5 102v11M2.5 114v19M2.5 135v2M2.5 138v3M2.5 142v1M2.5 146v2M2.5 151v1M2.5 158v1M2.5 161v3M2.5 166v4M2.5 172v9M2.5 182v1M2.5 189v1M2.5 193v3M2.5 199v3M2.5 204v2M3.5 94v2M3.5 98v2M3.5 102v11M3.5 114v13M3.5 128v5M3.5 135v2M3.5 138v3M3.5 142v1M3.5 146v2M3.5 151v1M3.5 161v3M3.5 166v2M3.5 169v1M3.5 172v3M3.5 176v3M3.5 180v1M3.5 182v1M3.5 189v1M3.5 193v2M3.5 199v3M3.5 204v2M4.5 71v1M4.5 83v1M4.5 94v2M4.5 97v9M4.5 107v4M4.5 112v1M4.5 115v8M4.5 125v1M4.5 129v1M4.5 131v1M4.5 136v1M4.5 139v1M4.5 146v1M4.5 162v2M4.5 166v1M4.5 174v1M4.5 182v1M4.5 189v1M4.5 193v1M4.5 200v2M5.5 71v1M5.5 75v1M5.5 83v2M5.5 94v2M5.5 97v9M5.5 107v4M5.5 112v1M5.5 115v1M5.5 117v1M5.5 119v4M5.5 125v1M5.5 131v1M5.5 139v1M5.5 146v1M5.5 162v2M5.5 166v1M5.5 182v1M5.5 189v1M5.5 193v1M5.5 200v2M6.5 6v65M6.5 72v22M6.5 96v1M7.5 10v1M7.5 12v2M7.5 15v3M7.5 21v1M7.5 26v2M7.5 32v4M7.5 37v1M7.5 45v1M7.5 47v1M7.5 51v1M7.5 53v1M7.5 55v3M7.5 63v1M7.5 69v8M7.5 82v6M7.5 89v9M7.5 99v3M8.5 98v1M8.5 104v3M8.5 110v2M8.5 114v5M8.5 122v3M8.5 126v5M8.5 132v9M8.5 142v3M8.5 146v3M8.5 151v4M8.5 156v6M8.5 164v7M8.5 172v11M8.5 184v7M8.5 192v4M8.5 197v1M8.5 199v4M8.5 204v2M9.5 106v1M9.5 111v1M9.5 113v2M9.5 116v1M9.5 123v2M9.5 126v5M9.5 132v7M9.5 140v6M9.5 147v2M9.5 151v11M9.5 164v2M9.5 167v4M9.5 172v10M9.5 183v6M9.5 190v3M9.5 194v4M9.5 199v1M9.5 202v4M10.5 104v3M10.5 110v2M10.5 114v1M10.5 116v3M10.5 122v3M10.5 126v5M10.5 132v9M10.5 142v3M10.5 146v3M10.5 151v4M10.5 156v6M10.5 164v2M10.5 167v4M10.5 172v11M10.5 184v7M10.5 192v4M10.5 197v1M10.5 199v4M10.5 204v2M11.5 113v1M11.5 133v2M11.5 137v1M11.5 141v1M11.5 143v3M11.5 148v3M11.5 153v5M11.5 159v2M11.5 171v1M11.5 183v1M11.5 185v4M11.5 191v2M11.5 196v3M11.5 203v1M12.5 106v1M12.5 111v1M12.5 113v2M12.5 116v1M12.5 118v1M12.5 123v2M12.5 126v5M12.5 132v7M12.5 140v6M12.5 147v2M12.5 151v11M12.5 164v2M12.5 167v4M12.5 172v10M12.5 184v5M12.5 190v3M12.5 194v4M12.5 199v1M12.5 202v4M13.5 71v1M13.5 75v1M13.5 83v2M13.5 94v2M13.5 97v9M13.5 107v4M13.5 112v1M13.5 115v1M13.5 117v1M13.5 119v4M13.5 125v1M13.5 131v1M13.5 139v1M13.5 146v1M13.5 162v2M13.5 166v1M13.5 182v1M13.5 189v1M13.5 193v1M13.5 200v2M14.5 98v1M14.5 102v11M14.5 114v27M14.5 142v3M14.5 146v3M14.5 151v4M14.5 156v1M14.5 158v1M14.5 161v10M14.5 172v11M14.5 184v1M14.5 187v4M14.5 193v3M14.5 197v1M14.5 199v4M14.5 204v2M15.5 95v1M15.5 98v2M15.5 102v11M15.5 114v19M15.5 135v2M15.5 138v3M15.5 142v1M15.5 146v2M15.5 151v1M15.5 158v1M15.5 161v3M15.5 166v4M15.5 172v9M15.5 182v1M15.5 189v1M15.5 193v3M15.5 199v3M15.5 204v2M16.5 18v3M16.5 22v4M16.5 28v4M16.5 36v1M16.5 38v7M16.5 46v1M16.5 48v3M16.5 52v1M16.5 54v1M16.5 58v5M16.5 64v5M16.5 77v5M16.5 88v1M17.5 94v2M17.5 98v2M17.5 102v11M17.5 114v9M17.5 124v3M17.5 129v4M17.5 136v1M17.5 138v3M17.5 142v1M17.5 146v2M17.5 151v1M17.5 161v3M17.5 166v2M17.5 169v1M17.5 172v3M17.5 176v3M17.5 180v1M17.5 182v1M17.5 189v1M17.5 193v2M17.5 199v3M17.5 204v2M18.5 106v1M18.5 110v2M18.5 113v2M18.5 116v1M18.5 118v1M18.5 123v2M18.5 126v5M18.5 132v7M18.5 140v6M18.5 147v2M18.5 151v4M18.5 156v6M18.5 164v2M18.5 167v4M18.5 172v10M18.5 184v7M18.5 192v1M18.5 194v4M18.5 199v1M18.5 202v4M19.5 113v1M19.5 133v2M19.5 137v1M19.5 141v1M19.5 143v3M19.5 148v3M19.5 153v5M19.5 159v2M19.5 171v1M19.5 183v1M19.5 185v4M19.5 191v2M19.5 196v3M19.5 203v1M20.5 94v2M20.5 98v15M20.5 115v8M20.5 124v3M20.5 129v3M20.5 136v1M20.5 138v3M20.5 146v2M20.5 151v1M20.5 162v2M20.5 166v2M20.5 169v1M20.5 172v3M20.5 176v3M20.5 180v1M20.5 182v1M20.5 189v1M20.5 193v2M20.5 199v3M20.5 204v1M22.5 106v1M22.5 111v1M22.5 113v2M22.5 116v1M22.5 118v1M22.5 123v2M22.5 126v5M22.5 132v7M22.5 140v6M22.5 147v2M22.5 151v11M22.5 164v2M22.5 167v4M22.5 172v10M22.5 184v5M22.5 190v3M22.5 194v4M22.5 199v1M22.5 202v4M23.5 113v2M23.5 123v1M23.5 126v3M23.5 130v1M23.5 132v4M23.5 137v2M23.5 141v5M23.5 148v14M23.5 164v2M23.5 167v2M23.5 170v3M23.5 175v3M23.5 179v3M23.5 183v6M23.5 190v3M23.5 194v4M23.5 199v1M23.5 202v4M24.5 71v1M24.5 83v2M24.5 94v2M24.5 97v9M24.5 107v4M24.5 112v1M24.5 115v8M24.5 125v1M24.5 131v1M24.5 136v1M24.5 139v1M24.5 146v1M24.5 162v2M24.5 166v1M24.5 182v1M24.5 189v1M24.5 193v1M24.5 200v2M25.5 94v2M25.5 98v2M25.5 102v11M25.5 114v13M25.5 128v5M25.5 135v2M25.5 138v3M25.5 142v1M25.5 146v2M25.5 151v1M25.5 161v3M25.5 166v2M25.5 169v1M25.5 172v3M25.5 176v3M25.5 180v1M25.5 182v1M25.5 189v1M25.5 193v2M25.5 199v3M25.5 204v2M26.5 113v1M26.5 137v1M26.5 141v1M26.5 143v3M26.5 149v2M26.5 154v2M26.5 157v1M26.5 159v2M26.5 171v1M26.5 183v1M26.5 185v4M26.5 191v2M26.5 196v1M26.5 198v1M26.5 203v1M27.5 95v1M27.5 98v2M27.5 102v11M27.5 114v19M27.5 135v2M27.5 138v3M27.5 142v1M27.5 146v2M27.5 151v1M27.5 158v1M27.5 161v3M27.5 166v2M27.5 169v1M27.5 172v3M27.5 176v5M27.5 182v1M27.5 189v1M27.5 193v2M27.5 199v3M27.5 204v2M28.5 104v1M28.5 106v1M28.5 110v2M28.5 114v1M28.5 116v3M28.5 122v3M28.5 126v5M28.5 132v9M28.5 142v3M28.5 146v3M28.5 151v4M28.5 156v6M28.5 164v2M28.5 167v4M28.5 172v11M28.5 184v7M28.5 192v4M28.5 197v1M28.5 199v4M28.5 204v2M29.5 106v1M29.5 111v1M29.5 113v2M29.5 116v1M29.5 118v1M29.5 123v2M29.5 126v5M29.5 132v7M29.5 140v6M29.5 147v2M29.5 151v11M29.5 164v2M29.5 167v4M29.5 172v10M29.5 183v6M29.5 190v3M29.5 194v4M29.5 199v1M29.5 202v4M30.5 98v1M30.5 104v3M30.5 110v2M30.5 114v5M30.5 122v3M30.5 126v5M30.5 132v9M30.5 142v3M30.5 146v3M30.5 151v4M30.5 156v6M30.5 164v7M30.5 172v11M30.5 184v7M30.5 192v4M30.5 197v1M30.5 199v4M30.5 204v2M31.5 98v1M31.5 103v4M31.5 110v2M31.5 114v7M31.5 122v9M31.5 132v9M31.5 142v3M31.5 146v3M31.5 151v4M31.5 156v6M31.5 163v8M31.5 172v11M31.5 184v7M31.5 193v3M31.5 197v1M31.5 199v4M31.5 204v2M32.5 171v1M32.5 198v1M33.5 113v1M33.5 133v2M33.5 137v1M33.5 141v1M33.5 143v3M33.5 148v3M33.5 153v5M33.5 159v2M33.5 171v1M33.5 181v1M33.5 183v1M33.5 185v4M33.5 191v2M33.5 196v3M33.5 203v1M34.5 113v1M34.5 133v2M34.5 137v1M34.5 141v1M34.5 143v3M34.5 149v2M34.5 153v5M34.5 159v2M34.5 171v1M34.5 183v1M34.5 185v4M34.5 191v2M34.5 196v3M34.5 203v1M35.5 94v2M35.5 98v15M35.5 115v8M35.5 124v2M35.5 129v1M35.5 131v1M35.5 136v1M35.5 138v3M35.5 146v2M35.5 162v2M35.5 166v2M35.5 169v1M35.5 172v3M35.5 178v1M35.5 180v1M35.5 182v1M35.5 189v1M35.5 193v2M35.5 200v2M36.5 198v1M37.5 113v1M37.5 149v2M37.5 155v1M37.5 171v1M37.5 183v1M37.5 191v1M37.5 196v1M37.5 198v1M38.5 113v1M38.5 141v1M38.5 145v1M38.5 149v2M38.5 155v1M38.5 171v1M38.5 183v1M38.5 191v1M38.5 196v1M38.5 198v1M38.5 203v1M39.5 113v1M39.5 133v2M39.5 137v1M39.5 141v1M39.5 143v3M39.5 149v2M39.5 153v5M39.5 159v2M39.5 171v1M39.5 183v1M39.5 185v4M39.5 191v2M39.5 196v3M39.5 203v1M40.5 106v1M40.5 113v2M40.5 123v1M40.5 126v3M40.5 130v1M40.5 132v4M40.5 137v2M40.5 141v5M40.5 147v15M40.5 164v2M40.5 167v2M40.5 170v3M40.5 175v7M40.5 183v6M40.5 190v3M40.5 194v4M40.5 199v1M40.5 202v4M41.5 198v1M42.5 113v1M42.5 141v1M42.5 145v1M42.5 149v2M42.5 155v1M42.5 171v1M42.5 183v1M42.5 191v1M42.5 196v1M42.5 198v1M42.5 203v1M43.5 106v1M43.5 113v2M43.5 123v2M43.5 126v3M43.5 130v1M43.5 132v4M43.5 137v2M43.5 140v6M43.5 147v15M43.5 164v2M43.5 167v6M43.5 175v7M43.5 183v6M43.5 190v3M43.5 194v4M43.5 199v1M43.5 202v4M44.5 113v1M44.5 133v2M44.5 137v1M44.5 141v1M44.5 143v3M44.5 148v3M44.5 152v6M44.5 159v2M44.5 164v1M44.5 170v2M44.5 181v1M44.5 183v6M44.5 191v2M44.5 196v3M44.5 203v1M48.5 98v1M48.5 104v3M48.5 110v2M48.5 114v5M48.5 122v9M48.5 132v9M48.5 142v3M48.5 146v3M48.5 151v4M48.5 156v6M48.5 164v7M48.5 172v11M48.5 184v7M48.5 192v4M48.5 197v1M48.5 199v4M48.5 204v2M49.5 113v1M49.5 141v1M49.5 145v1M49.5 149v2M49.5 155v1M49.5 159v2M49.5 171v1M49.5 183v1M49.5 185v2M49.5 191v2M49.5 196v1M49.5 198v1M49.5 203v1M50.5 94v2M50.5 98v2M50.5 102v11M50.5 114v13M50.5 128v5M50.5 135v2M50.5 138v3M50.5 142v1M50.5 146v2M50.5 151v1M50.5 161v3M50.5 166v2M50.5 169v1M50.5 172v3M50.5 176v3M50.5 180v1M50.5 182v1M50.5 189v1M50.5 193v2M50.5 199v3M50.5 204v2M51.5 198v1M52.5 198v1M53.5 113v1M53.5 133v2M53.5 137v1M53.5 141v1M53.5 143v3M53.5 149v2M53.5 154v4M53.5 159v2M53.5 171v1M53.5 183v1M53.5 185v4M53.5 191v2M53.5 196v3M53.5 203v1M55.5 198v1M56.5 106v1M56.5 111v1M56.5 113v2M56.5 116v1M56.5 118v1M56.5 123v2M56.5 126v5M56.5 132v7M56.5 140v6M56.5 147v2M56.5 151v11M56.5 164v2M56.5 167v4M56.5 172v10M56.5 184v5M56.5 190v3M56.5 194v4M56.5 199v1M56.5 202v4M57.5 98v1M57.5 103v10M57.5 114v27M57.5 142v3M57.5 146v3M57.5 151v4M57.5 156v3M57.5 161v10M57.5 172v11M57.5 184v1M57.5 187v4M57.5 193v3M57.5 197v1M57.5 199v4M57.5 204v2M58.5 113v1M58.5 141v1M58.5 145v1M58.5 149v2M58.5 155v1M58.5 171v1M58.5 183v1M58.5 191v1M58.5 196v1M58.5 198v1M58.5 203v1M59.5 106v1M59.5 111v1M59.5 113v2M59.5 116v1M59.5 123v2M59.5 126v5M59.5 132v4M59.5 137v2M59.5 140v6M59.5 147v15M59.5 164v2M59.5 167v15M59.5 183v6M59.5 190v3M59.5 194v4M59.5 199v1M59.5 202v4M60.5 198v1M62.5 113v1M62.5 133v2M62.5 137v1M62.5 141v1M62.5 143v3M62.5 148v3M62.5 152v6M62.5 159v2M62.5 164v1M62.5 171v1M62.5 181v1M62.5 183v1M62.5 185v4M62.5 191v2M62.5 196v3M62.5 203v1M63.5 106v1M63.5 111v1M63.5 113v2M63.5 116v1M63.5 118v1M63.5 123v2M63.5 126v5M63.5 132v7M63.5 140v6M63.5 147v2M63.5 151v11M63.5 164v2M63.5 167v4M63.5 172v10M63.5 184v5M63.5 190v3M63.5 194v4M63.5 199v1M63.5 202v4M65.5 113v1M65.5 133v2M65.5 137v1M65.5 141v1M65.5 143v3M65.5 149v2M65.5 154v4M65.5 159v2M65.5 171v1M65.5 183v1M65.5 185v4M65.5 191v2M65.5 196v3M65.5 203v1M68.5 113v1M68.5 133v2M68.5 137v1M68.5 141v1M68.5 143v3M68.5 148v3M68.5 153v5M68.5 159v2M68.5 171v1M68.5 183v1M68.5 185v4M68.5 191v2M68.5 196v3M68.5 203v1M69.5 113v2M69.5 123v1M69.5 126v3M69.5 130v1M69.5 132v4M69.5 137v2M69.5 141v5M69.5 148v14M69.5 164v2M69.5 168v1M69.5 170v2M69.5 175v3M69.5 179v1M69.5 181v1M69.5 183v6M69.5 190v3M69.5 195v3M69.5 199v1M69.5 202v4M70.5 113v1M70.5 141v1M70.5 145v1M70.5 149v2M70.5 155v1M70.5 171v1M70.5 183v1M70.5 191v2M70.5 196v1M70.5 198v1M70.5 203v1M71.5 106v1M71.5 111v1M71.5 113v2M71.5 123v2M71.5 126v5M71.5 132v4M71.5 137v2M71.5 140v6M71.5 147v15M71.5 164v2M71.5 167v15M71.5 183v6M71.5 190v3M71.5 194v4M71.5 199v1M71.5 202v4M72.5 106v1M72.5 111v1M72.5 113v2M72.5 116v1M72.5 123v2M72.5 126v5M72.5 132v7M72.5 140v6M72.5 147v2M72.5 150v12M72.5 164v2M72.5 167v4M72.5 172v10M72.5 183v6M72.5 190v3M72.5 194v4M72.5 199v1M72.5 202v4M73.5 149v2M73.5 171v1M73.5 183v1M73.5 198v1M74.5 113v1M74.5 133v2M74.5 137v1M74.5 141v1M74.5 143v3M74.5 148v3M74.5 152v6M74.5 159v2M74.5 164v2M74.5 170v2M74.5 181v1M74.5 183v6M74.5 190v3M74.5 195v4M74.5 202v2M76.5 113v1M76.5 141v1M76.5 145v1M76.5 149v2M76.5 155v1M76.5 159v1M76.5 171v1M76.5 183v1M76.5 191v2M76.5 196v1M76.5 198v1M76.5 203v1M77.5 98v1M77.5 104v3M77.5 110v2M77.5 114v7M77.5 122v9M77.5 132v9M77.5 142v3M77.5 146v3M77.5 151v4M77.5 156v6M77.5 163v8M77.5 172v11M77.5 184v7M77.5 193v3M77.5 197v1M77.5 199v4M77.5 204v2M78.5 98v1M78.5 102v11M78.5 114v23M78.5 138v3M78.5 142v1M78.5 146v3M78.5 151v3M78.5 156v1M78.5 158v1M78.5 161v10M78.5 172v11M78.5 184v1M78.5 189v2M78.5 193v3M78.5 199v4M78.5 204v2M79.5 98v1M79.5 102v11M79.5 114v27M79.5 142v3M79.5 146v3M79.5 151v4M79.5 156v1M79.5 158v1M79.5 161v10M79.5 172v11M79.5 184v1M79.5 188v3M79.5 193v3M79.5 197v1M79.5 199v4M79.5 204v2M80.5 113v1M80.5 123v1M80.5 127v2M80.5 133v3M80.5 137v1M80.5 141v1M80.5 143v3M80.5 148v3M80.5 152v9M80.5 164v2M80.5 168v1M80.5 170v2M80.5 175v1M80.5 179v1M80.5 181v1M80.5 183v6M80.5 190v3M80.5 195v4M80.5 202v2M82.5 113v1M82.5 141v1M82.5 145v1M82.5 149v2M82.5 155v1M82.5 159v2M82.5 171v1M82.5 183v1M82.5 185v2M82.5 191v2M82.5 196v1M82.5 198v1M82.5 203v1M83.5 113v1M83.5 141v1M83.5 145v1M83.5 149v2M83.5 155v1M83.5 157v1M83.5 159v2M83.5 171v1M83.5 183v1M83.5 185v2M83.5 191v2M83.5 196v1M83.5 198v1M83.5 203v1M84.5 149v2M84.5 171v1M84.5 183v1M84.5 198v1M85.5 95v1M85.5 98v2M85.5 102v11M85.5 114v19M85.5 135v2M85.5 138v3M85.5 142v1M85.5 146v2M85.5 151v1M85.5 158v1M85.5 161v3M85.5 166v4M85.5 172v9M85.5 182v1M85.5 189v1M85.5 193v3M85.5 199v3M85.5 204v2M86.5 113v1M86.5 141v1M86.5 145v1M86.5 149v2M86.5 155v1M86.5 159v1M86.5 171v1M86.5 183v1M86.5 185v2M86.5 191v2M86.5 196v1M86.5 198v1M86.5 203v1M87.5 113v1M87.5 127v1M87.5 133v3M87.5 137v1M87.5 141v1M87.5 143v3M87.5 148v3M87.5 152v9M87.5 164v2M87.5 168v1M87.5 170v2M87.5 175v1M87.5 179v1M87.5 181v1M87.5 183v6M87.5 190v3M87.5 195v4M87.5 202v2M88.5 149v2M88.5 171v1M88.5 183v1M88.5 198v1M89.5 113v1M89.5 133v2M89.5 137v1M89.5 141v1M89.5 143v3M89.5 148v3M89.5 152v6M89.5 159v2M89.5 164v2M89.5 170v2M89.5 181v1M89.5 183v6M89.5 190v3M89.5 196v3M89.5 203v1M90.5 113v1M90.5 141v1M90.5 145v1M90.5 149v2M90.5 155v1M90.5 171v1M90.5 183v1M90.5 191v1M90.5 196v1M90.5 198v1M90.5 203v1M91.5 106v1M91.5 111v1M91.5 113v2M91.5 123v2M91.5 126v3M91.5 130v1M91.5 132v4M91.5 137v2M91.5 140v6M91.5 147v15M91.5 164v2M91.5 167v7M91.5 175v7M91.5 183v6M91.5 190v3M91.5 194v4M91.5 199v1M91.5 202v4M92.5 113v1M92.5 141v1M92.5 145v1M92.5 149v2M92.5 155v1M92.5 159v1M92.5 171v1M92.5 183v1M92.5 186v1M92.5 191v2M92.5 196v1M92.5 198v1M92.5 203v1M93.5 94v2M93.5 98v2M93.5 102v11M93.5 115v8M93.5 124v3M93.5 129v4M93.5 136v1M93.5 138v3M93.5 142v1M93.5 146v2M93.5 151v1M93.5 162v2M93.5 166v2M93.5 169v1M93.5 172v3M93.5 176v3M93.5 180v1M93.5 182v1M93.5 189v1M93.5 193v2M93.5 199v3M93.5 204v1M94.5 94v2M94.5 97v9M94.5 107v4M94.5 112v1M94.5 115v8M94.5 125v1M94.5 131v1M94.5 136v1M94.5 139v1M94.5 146v1M94.5 162v2M94.5 166v1M94.5 182v1M94.5 189v1M94.5 193v1M94.5 200v2M95.5 106v1M95.5 110v2M95.5 114v1M95.5 116v1M95.5 118v1M95.5 123v2M95.5 126v5M95.5 132v14M95.5 147v2M95.5 151v4M95.5 156v6M95.5 164v2M95.5 167v4M95.5 172v10M95.5 184v7M95.5 192v1M95.5 194v2M95.5 197v1M95.5 199v1M95.5 201v5M96.5 113v1M96.5 133v2M96.5 137v1M96.5 141v1M96.5 143v3M96.5 148v3M96.5 152v6M96.5 159v2M96.5 164v2M96.5 170v2M96.5 181v1M96.5 183v6M96.5 190v3M96.5 196v3M96.5 202v2M97.5 106v1M97.5 113v2M97.5 123v1M97.5 126v3M97.5 130v1M97.5 132v4M97.5 137v2M97.5 140v6M97.5 147v15M97.5 164v2M97.5 167v6M97.5 175v7M97.5 183v6M97.5 190v3M97.5 194v4M97.5 199v1M97.5 202v4M98.5 113v1M98.5 141v1M98.5 145v1M98.5 149v2M98.5 155v1M98.5 171v1M98.5 183v1M98.5 191v1M98.5 196v1M98.5 198v1M98.5 203v1M99.5 99v14M99.5 115v8M99.5 124v3M99.5 129v3M99.5 136v1M99.5 138v3M99.5 146v2M99.5 151v1M99.5 162v2M99.5 166v2M99.5 169v1M99.5 172v3M99.5 177v2M99.5 180v1M99.5 182v1M99.5 189v1M99.5 193v2M99.5 199v3M100.5 101v1M101.5 106v1M101.5 111v1M101.5 113v2M101.5 116v1M101.5 123v2M101.5 126v5M101.5 132v7M101.5 140v6M101.5 147v2M101.5 150v12M101.5 164v2M101.5 167v4M101.5 172v10M101.5 183v6M101.5 190v3M101.5 194v4M101.5 199v1M101.5 202v4M102.5 113v1M102.5 141v1M102.5 145v1M102.5 149v2M102.5 155v1M102.5 171v1M102.5 183v1M102.5 191v1M102.5 196v1M102.5 198v1M102.5 203v1M103.5 113v2M103.5 123v1M103.5 127v2M103.5 133v3M103.5 137v1M103.5 141v1M103.5 143v3M103.5 148v3M103.5 152v10M103.5 164v2M103.5 168v1M103.5 170v2M103.5 175v1M103.5 179v1M103.5 181v1M103.5 183v6M103.5 190v3M103.5 195v4M103.5 202v2M103.5 205v1M104.5 113v1M104.5 141v1M104.5 145v1M104.5 149v2M104.5 155v1M104.5 159v1M104.5 171v1M104.5 183v1M104.5 185v2M104.5 191v2M104.5 196v1M104.5 198v1M104.5 203v1M105.5 105v2M105.5 110v2M105.5 114v5M105.5 120v1M105.5 122v9M105.5 132v9M105.5 142v3M105.5 146v3M105.5 151v4M105.5 156v6M105.5 163v8M105.5 172v11M105.5 184v7M105.5 192v4M105.5 197v1M105.5 199v4M105.5 204v2M107.5 113v1M107.5 133v2M107.5 137v1M107.5 141v1M107.5 143v3M107.5 148v3M107.5 153v5M107.5 159v2M107.5 171v1M107.5 181v1M107.5 183v1M107.5 185v4M107.5 191v2M107.5 196v3M107.5 203v1M108.5 113v1M108.5 133v2M108.5 137v1M108.5 141v1M108.5 143v3M108.5 148v3M108.5 152v6M108.5 159v2M108.5 164v2M108.5 170v2M108.5 181v1M108.5 183v6M108.5 190v3M108.5 196v3M108.5 203v1M109.5 110v2M109.5 114v5M109.5 122v3M109.5 126v5M109.5 132v9M109.5 142v3M109.5 146v3M109.5 151v4M109.5 156v6M109.5 164v7M109.5 172v11M109.5 184v7M109.5 192v4M109.5 197v1M109.5 199v4M109.5 204v2M110.5 110v2M110.5 114v1M110.5 116v3M110.5 123v2M110.5 126v5M110.5 132v9M110.5 142v3M110.5 146v3M110.5 151v4M110.5 156v6M110.5 164v2M110.5 167v4M110.5 172v11M110.5 184v7M110.5 192v1M110.5 194v2M110.5 197v1M110.5 199v7M111.5 113v2M111.5 123v1M111.5 126v3M111.5 132v4M111.5 137v1M111.5 141v5M111.5 148v14M111.5 164v2M111.5 168v1M111.5 170v2M111.5 175v3M111.5 179v1M111.5 181v1M111.5 183v6M111.5 190v3M111.5 195v4M111.5 202v4M112.5 113v1M112.5 141v1M112.5 145v1M112.5 149v2M112.5 155v1M112.5 159v2M112.5 171v1M112.5 183v1M112.5 185v2M112.5 191v2M112.5 196v1M112.5 198v1M112.5 203v1M113.5 113v1M113.5 133v2M113.5 137v1M113.5 141v1M113.5 143v3M113.5 149v2M113.5 154v4M113.5 159v2M113.5 171v1M113.5 183v1M113.5 185v4M113.5 191v2M113.5 196v3M113.5 203v1M114.5 137v1M114.5 141v1M114.5 143v3M114.5 149v2M114.5 154v2M114.5 157v1M114.5 159v2M114.5 171v1M114.5 183v1M114.5 185v4M114.5 191v2M114.5 196v1M114.5 198v1M114.5 203v1M115.5 198v1M116.5 141v1M116.5 145v1M116.5 149v2M116.5 155v1M116.5 159v1M116.5 171v1M116.5 183v1M116.5 186v1M116.5 191v2M116.5 196v1M116.5 198v1M116.5 203v1M117.5 198v1M119.5 141v1M119.5 145v1M119.5 149v2M119.5 155v1M119.5 159v1M119.5 171v1M119.5 183v1M119.5 185v2M119.5 191v2M119.5 196v1M119.5 198v1M119.5 203v1M120.5 141v1M120.5 145v1M120.5 149v2M120.5 155v1M120.5 171v1M120.5 183v1M120.5 191v1M120.5 196v1M120.5 198v1M120.5 203v1M121.5 123v1M121.5 126v3M121.5 130v1M121.5 132v4M121.5 137v1M121.5 141v5M121.5 148v14M121.5 164v2M121.5 168v1M121.5 170v2M121.5 175v3M121.5 179v1M121.5 181v1M121.5 183v6M121.5 190v3M121.5 195v4M121.5 202v4M122.5 149v2M122.5 171v1M122.5 183v1M122.5 198v1M123.5 141v1M123.5 149v2M123.5 155v1M123.5 171v1M123.5 183v1M123.5 191v1M123.5 196v1M123.5 198v1M124.5 124v1M124.5 126v5M124.5 132v4M124.5 137v2M124.5 140v6M124.5 147v15M124.5 164v2M124.5 167v15M124.5 183v6M124.5 190v3M124.5 194v4M124.5 199v1M124.5 202v4M125.5 141v1M125.5 145v1M125.5 149v2M125.5 155v1M125.5 171v1M125.5 183v1M125.5 191v2M125.5 196v1M125.5 198v1M125.5 203v1M126.5 141v1M126.5 143v3M126.5 149v2M126.5 154v2M126.5 157v1M126.5 159v2M126.5 171v1M126.5 183v1M126.5 185v4M126.5 191v2M126.5 196v1M126.5 198v1M126.5 203v1M127.5 127v6M127.5 135v2M127.5 138v3M127.5 142v1M127.5 146v3M127.5 151v2M127.5 158v1M127.5 161v10M127.5 172v11M127.5 184v1M127.5 189v2M127.5 193v3M127.5 199v4M127.5 204v2M128.5 141v1M128.5 145v1M128.5 149v2M128.5 155v1M128.5 159v1M128.5 171v1M128.5 183v1M128.5 185v2M128.5 191v2M128.5 196v1M128.5 198v1M128.5 203v1M130.5 141v1M130.5 145v1M130.5 149v2M130.5 155v1M130.5 157v1M130.5 159v2M130.5 171v1M130.5 183v1M130.5 185v2M130.5 191v2M130.5 196v1M130.5 198v1M130.5 203v1M131.5 162v1M132.5 132v1M132.5 136v1M132.5 138v3M132.5 142v1M132.5 146v2M132.5 151v1M132.5 162v2M132.5 166v2M132.5 169v1M132.5 172v3M132.5 176v3M132.5 180v1M132.5 182v1M132.5 189v1M132.5 193v2M132.5 199v3M132.5 204v2M133.5 133v3M133.5 137v1M133.5 141v5M133.5 148v14M133.5 164v2M133.5 168v1M133.5 170v2M133.5 175v3M133.5 179v1M133.5 181v1M133.5 183v6M133.5 190v3M133.5 195v5M133.5 202v4M134.5 141v1M134.5 145v1M134.5 149v2M134.5 155v1M134.5 171v1M134.5 183v1M134.5 191v1M134.5 196v1M134.5 198v1M134.5 203v1M135.5 135v1M135.5 137v2M135.5 140v6M135.5 147v15M135.5 164v2M135.5 167v6M135.5 175v7M135.5 183v6M135.5 190v3M135.5 194v4M135.5 199v1M135.5 202v4M136.5 136v3M136.5 140v6M136.5 147v2M136.5 151v11M136.5 164v2M136.5 167v4M136.5 172v10M136.5 184v5M136.5 190v3M136.5 194v4M136.5 199v1M136.5 202v4M137.5 141v1M137.5 145v1M137.5 149v2M137.5 155v1M137.5 157v1M137.5 159v2M137.5 171v1M137.5 183v1M137.5 185v2M137.5 191v2M137.5 196v1M137.5 198v1M137.5 203v1M139.5 139v2M139.5 142v3M139.5 146v3M139.5 151v4M139.5 156v6M139.5 164v7M139.5 172v11M139.5 184v7M139.5 192v4M139.5 197v1M139.5 199v4M139.5 204v2M140.5 146v1M140.5 162v2M140.5 166v1M140.5 182v1M140.5 193v1M140.5 200v2M142.5 198v1M143.5 198v1M144.5 145v1M144.5 149v2M144.5 154v2M144.5 157v1M144.5 159v2M144.5 171v1M144.5 183v1M144.5 185v3M144.5 191v2M144.5 196v1M144.5 198v1M144.5 203v1M145.5 145v1M145.5 148v3M145.5 152v6M145.5 159v2M145.5 164v2M145.5 170v2M145.5 181v1M145.5 183v6M145.5 190v3M145.5 196v3M145.5 202v2M146.5 148v3M146.5 153v5M146.5 159v2M146.5 164v1M146.5 171v1M146.5 181v1M146.5 183v1M146.5 185v4M146.5 191v2M146.5 196v3M146.5 203v1M147.5 149v2M147.5 155v1M147.5 159v2M147.5 171v1M147.5 183v1M147.5 185v2M147.5 191v2M147.5 196v1M147.5 198v1M147.5 203v1M148.5 149v2M148.5 155v1M148.5 159v1M148.5 171v1M148.5 183v1M148.5 185v2M148.5 191v2M148.5 196v1M148.5 198v1M148.5 203v1M149.5 151v4M149.5 156v6M149.5 164v2M149.5 167v4M149.5 172v10M149.5 184v7M149.5 192v1M149.5 194v2M149.5 197v1M149.5 199v1M149.5 201v5M150.5 150v1M150.5 154v2M150.5 157v1M150.5 159v2M150.5 171v1M150.5 183v1M150.5 185v4M150.5 191v2M150.5 196v1M150.5 198v1M150.5 203v1M151.5 151v11M151.5 164v2M151.5 168v1M151.5 170v2M151.5 175v3M151.5 179v1M151.5 181v1M151.5 183v6M151.5 190v3M151.5 194v4M151.5 199v1M151.5 202v4M152.5 152v6M152.5 159v2M152.5 164v2M152.5 170v2M152.5 181v1M152.5 183v6M152.5 190v3M152.5 195v4M152.5 202v2M153.5 153v1M153.5 156v1M153.5 158v1M153.5 161v10M153.5 172v11M153.5 184v1M153.5 189v2M153.5 193v3M153.5 199v4M153.5 204v2M155.5 198v1M156.5 171v1M156.5 183v1M156.5 191v1M156.5 196v1M156.5 198v1M156.5 203v1M157.5 157v1M157.5 159v2M157.5 171v1M157.5 183v1M157.5 185v3M157.5 191v2M157.5 196v1M157.5 198v1M157.5 203v1M158.5 171v1M158.5 183v1M158.5 191v1M158.5 196v1M158.5 198v1M158.5 203v1M159.5 159v2M159.5 171v1M159.5 183v1M159.5 185v4M159.5 191v2M159.5 196v3M159.5 203v1M160.5 171v1M160.5 183v1M160.5 191v1M160.5 196v1M160.5 198v1M161.5 171v1M161.5 183v1M161.5 191v1M161.5 196v1M161.5 198v1M162.5 164v2M162.5 170v2M162.5 181v1M162.5 183v6M162.5 190v3M162.5 195v4M162.5 202v2M164.5 164v2M164.5 167v15M164.5 183v6M164.5 190v3M164.5 194v4M164.5 199v1M164.5 202v4M165.5 165v1M165.5 168v1M165.5 170v2M165.5 175v3M165.5 179v1M165.5 181v1M165.5 183v6M165.5 190v3M165.5 195v3M165.5 199v1M165.5 202v4M166.5 166v5M166.5 172v11M166.5 184v1M166.5 188v3M166.5 193v3M166.5 197v1M166.5 199v4M166.5 204v2M167.5 168v1M167.5 170v2M167.5 175v1M167.5 179v1M167.5 181v1M167.5 183v6M167.5 190v3M167.5 195v4M167.5 202v2M168.5 169v1M168.5 172v3M168.5 176v3M168.5 180v1M168.5 182v1M168.5 189v1M168.5 193v2M168.5 199v3M168.5 204v2M169.5 171v1M169.5 183v1M169.5 198v1M170.5 170v2M170.5 175v1M170.5 179v1M170.5 181v1M170.5 183v6M170.5 190v3M170.5 195v4M170.5 202v2M173.5 183v1M173.5 186v1M173.5 191v2M173.5 196v1M173.5 198v1M173.5 203v1M174.5 183v1M174.5 185v3M174.5 191v2M174.5 196v1M174.5 198v1M174.5 203v1M175.5 175v8M175.5 184v1M175.5 189v2M175.5 193v3M175.5 199v4M175.5 204v2M176.5 176v5M176.5 182v1M176.5 189v1M176.5 193v3M176.5 199v4M176.5 204v2M177.5 177v4M177.5 182v1M177.5 184v1M177.5 189v2M177.5 193v3M177.5 199v4M177.5 204v2M178.5 183v1M178.5 198v1M180.5 183v1M180.5 186v1M180.5 191v2M180.5 196v1M180.5 198v1M180.5 203v1M181.5 182v1M181.5 184v1M181.5 189v2M181.5 193v3M181.5 199v4M181.5 204v2M182.5 183v1M182.5 185v3M182.5 191v2M182.5 196v1M182.5 198v1M182.5 203v1M184.5 184v1M184.5 187v4M184.5 193v3M184.5 197v1M184.5 199v4M184.5 204v2M185.5 185v6M185.5 192v4M185.5 197v1M185.5 199v4M185.5 204v2M186.5 191v1M186.5 196v1M186.5 198v1M187.5 189v2M187.5 193v3M187.5 199v4M187.5 204v2M188.5 188v1M188.5 191v2M188.5 196v3M188.5 203v1M189.5 191v2M189.5 196v1M189.5 198v1M189.5 203v1M190.5 198v1M191.5 198v1M193.5 195v4M193.5 202v2M195.5 195v1M195.5 197v1M195.5 199v4M195.5 204v2M196.5 196v2M196.5 199v1M196.5 202v4M197.5 198v1M197.5 203v1M198.5 198v2M198.5 202v4M199.5 200v2M200.5 200v2" stroke="#79287e" stroke-width="1" fill="none"/>
<path d="M0.5 0v1M0.5 4v2M0.5 10v1M0.5 12v2M0.5 15v3M0.5 21v1M0.5 25v3M0.5 32v4M0.5 37v1M0.5 45v1M0.5 47v1M0.5 51v1M0.5 53v1M0.5 55v3M0.5 63v1M0.5 67v11M0.5 82v6M0.5 89v5M0.5 96v2M0.5 100v2M1.5 16v1M1.5 32v1M1.5 63v1M1.5 71v1M1.5 73v1M1.5 75v1M1.5 82v3M1.5 86v2M1.5 91v7M1.5 99v3M2.5 5v1M2.5 12v1M2.5 15v3M2.5 26v2M2.5 32v4M2.5 37v1M2.5 47v1M2.5 53v1M2.5 55v3M2.5 63v1M2.5 70v7M2.5 82v6M2.5 89v6M2.5 96v2M2.5 100v2M3.5 5v1M3.5 10v1M3.5 12v2M3.5 15v3M3.5 21v1M3.5 26v2M3.5 32v4M3.5 37v1M3.5 45v1M3.5 47v1M3.5 51v1M3.5 53v1M3.5 55v3M3.5 63v1M3.5 68v10M3.5 82v6M3.5 89v5M3.5 96v2M3.5 100v2M4.5 4v4M4.5 10v18M4.5 31v8M4.5 40v31M4.5 72v8M4.5 81v2M4.5 84v10M4.5 96v1M5.5 5v23M5.5 29v1M5.5 31v40M5.5 72v3M5.5 76v7M5.5 85v9M5.5 96v1M7.5 7v3M7.5 11v1M7.5 14v1M7.5 18v3M7.5 22v4M7.5 28v4M7.5 36v1M7.5 38v7M7.5 46v1M7.5 48v3M7.5 52v1M7.5 54v1M7.5 58v5M7.5 64v5M7.5 77v5M7.5 88v1M8.5 71v1M8.5 83v2M8.5 94v2M8.5 97v1M8.5 99v5M8.5 107v3M8.5 112v1M8.5 119v3M8.5 125v1M8.5 131v1M8.5 162v2M9.5 94v2M9.5 98v8M9.5 107v4M9.5 112v1M9.5 115v1M9.5 117v6M9.5 125v1M9.5 131v1M9.5 139v1M9.5 146v1M9.5 162v2M9.5 166v1M9.5 182v1M9.5 189v1M9.5 193v1M9.5 200v2M10.5 71v1M10.5 83v1M10.5 94v2M10.5 97v7M10.5 107v3M10.5 112v1M10.5 115v1M10.5 119v3M10.5 125v1M10.5 131v1M10.5 162v2M10.5 166v1M11.5 98v1M11.5 103v4M11.5 110v2M11.5 114v7M11.5 122v11M11.5 135v2M11.5 138v3M11.5 142v1M11.5 146v2M11.5 151v2M11.5 158v1M11.5 161v10M11.5 172v11M11.5 184v1M11.5 189v2M11.5 193v3M11.5 199v4M11.5 204v2M12.5 94v2M12.5 98v8M12.5 107v4M12.5 112v1M12.5 115v1M12.5 117v1M12.5 119v4M12.5 125v1M12.5 131v1M12.5 139v1M12.5 146v1M12.5 162v2M12.5 166v1M12.5 182v1M12.5 189v1M12.5 193v1M12.5 200v2M13.5 13v15M13.5 29v1M13.5 31v40M13.5 72v3M13.5 76v7M13.5 85v9M13.5 96v1M14.5 71v1M14.5 73v1M14.5 75v1M14.5 83v2M14.5 92v1M14.5 94v4M14.5 99v3M15.5 15v3M15.5 21v1M15.5 26v2M15.5 32v4M15.5 37v1M15.5 47v1M15.5 53v1M15.5 55v3M15.5 63v1M15.5 70v7M15.5 82v6M15.5 89v6M15.5 96v2M15.5 100v2M17.5 17v1M17.5 21v1M17.5 25v3M17.5 32v4M17.5 37v1M17.5 45v3M17.5 51v1M17.5 53v1M17.5 55v3M17.5 63v1M17.5 67v11M17.5 82v6M17.5 89v5M17.5 96v2M17.5 100v2M18.5 94v2M18.5 98v8M18.5 107v3M18.5 112v1M18.5 115v1M18.5 117v1M18.5 119v4M18.5 125v1M18.5 131v1M18.5 139v1M18.5 146v1M18.5 162v2M18.5 166v1M18.5 182v1M18.5 193v1M18.5 200v2M19.5 98v1M19.5 103v4M19.5 110v2M19.5 114v7M19.5 122v11M19.5 135v2M19.5 138v3M19.5 142v1M19.5 146v2M19.5 151v2M19.5 158v1M19.5 161v10M19.5 172v11M19.5 184v1M19.5 189v2M19.5 193v3M19.5 199v4M19.5 204v2M20.5 21v1M20.5 23v5M20.5 32v6M20.5 45v3M20.5 51v1M20.5 53v5M20.5 63v1M20.5 67v12M20.5 81v13M20.5 96v2M22.5 94v2M22.5 98v8M22.5 107v4M22.5 112v1M22.5 115v1M22.5 117v1M22.5 119v4M22.5 125v1M22.5 131v1M22.5 139v1M22.5 146v1M22.5 162v2M22.5 166v1M22.5 182v1M22.5 189v1M22.5 193v1M22.5 200v2M23.5 95v1M23.5 98v2M23.5 102v11M23.5 115v8M23.5 124v2M23.5 129v1M23.5 131v1M23.5 136v1M23.5 139v2M23.5 146v2M23.5 162v2M23.5 166v1M23.5 169v1M23.5 173v2M23.5 178v1M23.5 182v1M23.5 189v1M23.5 193v1M23.5 200v2M24.5 24v4M24.5 31v40M24.5 72v8M24.5 81v2M24.5 85v9M24.5 96v1M25.5 26v2M25.5 32v4M25.5 37v1M25.5 45v1M25.5 47v1M25.5 51v1M25.5 53v1M25.5 55v3M25.5 63v1M25.5 68v10M25.5 82v6M25.5 89v5M25.5 96v2M25.5 100v2M26.5 104v1M26.5 106v1M26.5 110v2M26.5 114v1M26.5 116v3M26.5 123v2M26.5 126v5M26.5 132v5M26.5 138v3M26.5 142v1M26.5 146v3M26.5 151v3M26.5 156v1M26.5 158v1M26.5 161v1M26.5 164v2M26.5 167v4M26.5 172v11M26.5 184v1M26.5 189v2M26.5 194v2M26.5 197v1M26.5 199v4M26.5 204v2M27.5 27v1M27.5 32v4M27.5 37v1M27.5 45v1M27.5 47v1M27.5 51v1M27.5 53v1M27.5 55v3M27.5 63v1M27.5 69v8M27.5 82v6M27.5 89v6M27.5 96v2M27.5 100v2M28.5 71v1M28.5 83v1M28.5 94v2M28.5 97v7M28.5 105v1M28.5 107v3M28.5 112v1M28.5 115v1M28.5 119v3M28.5 125v1M28.5 131v1M28.5 162v2M28.5 166v1M29.5 94v2M29.5 98v8M29.5 107v4M29.5 112v1M29.5 115v1M29.5 117v1M29.5 119v4M29.5 125v1M29.5 131v1M29.5 139v1M29.5 146v1M29.5 162v2M29.5 166v1M29.5 182v1M29.5 189v1M29.5 193v1M29.5 200v2M30.5 71v1M30.5 83v2M30.5 94v2M30.5 97v1M30.5 99v5M30.5 107v3M30.5 112v1M30.5 119v3M30.5 125v1M30.5 131v1M30.5 162v2M31.5 71v1M31.5 75v1M31.5 83v2M31.5 94v2M31.5 97v1M31.5 99v4M31.5 107v3M31.5 112v1M31.5 121v1M31.5 131v1M31.5 162v1M32.5 113v2M32.5 123v1M32.5 127v2M32.5 133v3M32.5 137v1M32.5 141v1M32.5 143v3M32.5 148v3M32.5 152v10M32.5 164v2M32.5 168v1M32.5 170v1M32.5 175v1M32.5 179v1M32.5 181v1M32.5 183v6M32.5 190v3M32.5 195v3M32.5 202v2M32.5 205v1M33.5 98v1M33.5 103v5M33.5 109v3M33.5 114v7M33.5 122v11M33.5 135v2M33.5 138v3M33.5 142v1M33.5 146v2M33.5 151v2M33.5 158v1M33.5 161v10M33.5 172v9M33.5 182v1M33.5 184v1M33.5 189v2M33.5 193v3M33.5 199v4M33.5 204v2M34.5 98v1M34.5 104v3M34.5 110v2M34.5 114v5M34.5 120v1M34.5 122v9M34.5 132v1M34.5 135v2M34.5 138v3M34.5 142v1M34.5 146v3M34.5 151v2M34.5 158v1M34.5 161v1M34.5 164v7M34.5 172v11M34.5 184v1M34.5 189v2M34.5 193v3M34.5 199v4M34.5 204v2M35.5 35v4M35.5 43v1M35.5 45v3M35.5 50v9M35.5 63v1M35.5 67v12M35.5 81v13M35.5 96v2M36.5 113v1M36.5 127v1M36.5 133v2M36.5 137v1M36.5 141v1M36.5 143v3M36.5 148v3M36.5 152v9M36.5 164v2M36.5 168v1M36.5 170v2M36.5 175v1M36.5 179v1M36.5 181v1M36.5 183v6M36.5 190v3M36.5 195v3M36.5 202v2M37.5 114v1M37.5 123v1M37.5 126v3M37.5 130v1M37.5 132v4M37.5 137v2M37.5 141v5M37.5 148v1M37.5 151v4M37.5 156v6M37.5 164v2M37.5 168v1M37.5 170v1M37.5 175v3M37.5 179v1M37.5 181v1M37.5 184v5M37.5 190v1M37.5 192v1M37.5 195v1M37.5 197v1M37.5 199v1M37.5 202v4M38.5 106v1M38.5 111v1M38.5 114v1M38.5 123v2M38.5 126v5M38.5 132v4M38.5 137v2M38.5 140v1M38.5 142v3M38.5 147v2M38.5 151v4M38.5 156v6M38.5 164v2M38.5 167v4M38.5 172v10M38.5 184v5M38.5 190v1M38.5 192v1M38.5 194v2M38.5 197v1M38.5 199v1M38.5 202v1M38.5 204v2M39.5 98v1M39.5 103v4M39.5 110v2M39.5 114v7M39.5 122v9M39.5 132v1M39.5 135v2M39.5 138v3M39.5 142v1M39.5 146v3M39.5 151v2M39.5 158v1M39.5 161v1M39.5 163v8M39.5 172v11M39.5 184v1M39.5 189v2M39.5 193v3M39.5 199v4M39.5 204v2M40.5 95v1M40.5 98v2M40.5 102v4M40.5 107v6M40.5 115v8M40.5 124v2M40.5 129v1M40.5 131v1M40.5 136v1M40.5 139v2M40.5 146v1M40.5 162v2M40.5 166v1M40.5 169v1M40.5 173v2M40.5 182v1M40.5 189v1M40.5 193v1M40.5 200v2M41.5 113v1M41.5 127v1M41.5 133v3M41.5 137v1M41.5 141v1M41.5 143v3M41.5 148v3M41.5 152v9M41.5 164v2M41.5 168v1M41.5 170v2M41.5 175v1M41.5 179v1M41.5 181v1M41.5 183v6M41.5 190v3M41.5 195v3M41.5 202v2M42.5 106v1M42.5 111v1M42.5 114v1M42.5 123v2M42.5 126v3M42.5 130v1M42.5 132v4M42.5 137v2M42.5 140v1M42.5 142v3M42.5 147v2M42.5 151v4M42.5 156v6M42.5 164v2M42.5 167v4M42.5 172v2M42.5 175v7M42.5 184v5M42.5 190v1M42.5 192v1M42.5 194v2M42.5 197v1M42.5 199v1M42.5 202v1M42.5 204v2M43.5 95v1M43.5 98v2M43.5 102v4M43.5 107v6M43.5 115v8M43.5 125v1M43.5 129v1M43.5 131v1M43.5 136v1M43.5 139v1M43.5 146v1M43.5 162v2M43.5 166v1M43.5 173v2M43.5 182v1M43.5 189v1M43.5 193v1M43.5 200v2M44.5 98v1M44.5 103v10M44.5 114v19M44.5 135v2M44.5 138v3M44.5 142v1M44.5 146v2M44.5 151v1M44.5 158v1M44.5 161v3M44.5 165v5M44.5 172v9M44.5 182v1M44.5 189v2M44.5 193v3M44.5 199v4M44.5 204v2M45.5 113v1M45.5 141v1M45.5 145v1M45.5 149v2M45.5 155v1M45.5 157v1M45.5 159v2M45.5 171v1M45.5 183v1M45.5 185v3M45.5 191v2M45.5 196v1M45.5 198v1M45.5 203v1M47.5 113v1M47.5 133v2M47.5 137v1M47.5 141v1M47.5 143v3M47.5 149v2M47.5 153v5M47.5 159v2M47.5 171v1M47.5 183v1M47.5 185v4M47.5 191v2M47.5 196v3M47.5 203v1M48.5 71v1M48.5 83v2M48.5 94v2M48.5 97v1M48.5 99v5M48.5 107v3M48.5 112v1M48.5 119v3M48.5 131v1M48.5 162v2M49.5 106v1M49.5 110v2M49.5 114v1M49.5 116v1M49.5 118v1M49.5 123v2M49.5 126v5M49.5 132v7M49.5 140v1M49.5 142v3M49.5 147v2M49.5 151v4M49.5 156v3M49.5 161v1M49.5 164v2M49.5 167v4M49.5 172v10M49.5 184v1M49.5 187v4M49.5 194v2M49.5 197v1M49.5 199v1M49.5 202v1M49.5 204v2M50.5 51v1M50.5 53v1M50.5 55v3M50.5 63v1M50.5 68v10M50.5 82v6M50.5 89v5M50.5 96v2M50.5 100v2M51.5 113v1M51.5 133v2M51.5 137v1M51.5 141v1M51.5 143v3M51.5 148v3M51.5 152v6M51.5 159v2M51.5 164v1M51.5 170v2M51.5 181v1M51.5 183v6M51.5 191v2M51.5 196v2M51.5 203v1M52.5 113v1M52.5 123v1M52.5 127v2M52.5 133v3M52.5 137v1M52.5 141v1M52.5 143v3M52.5 148v3M52.5 152v10M52.5 164v2M52.5 168v1M52.5 170v2M52.5 175v1M52.5 179v1M52.5 181v1M52.5 183v6M52.5 190v3M52.5 195v3M52.5 202v2M53.5 98v1M53.5 104v3M53.5 110v2M53.5 114v5M53.5 122v9M53.5 132v1M53.5 135v2M53.5 138v3M53.5 142v1M53.5 146v3M53.5 151v3M53.5 158v1M53.5 161v1M53.5 164v7M53.5 172v11M53.5 184v1M53.5 189v2M53.5 193v3M53.5 199v4M53.5 204v2M55.5 113v1M55.5 127v1M55.5 133v3M55.5 137v1M55.5 141v1M55.5 143v3M55.5 148v3M55.5 152v9M55.5 164v2M55.5 168v1M55.5 170v2M55.5 175v1M55.5 179v1M55.5 181v1M55.5 183v6M55.5 190v3M55.5 195v3M55.5 202v2M56.5 94v2M56.5 98v8M56.5 107v4M56.5 112v1M56.5 115v1M56.5 117v1M56.5 119v4M56.5 125v1M56.5 131v1M56.5 139v1M56.5 146v1M56.5 162v2M56.5 166v1M56.5 182v1M56.5 189v1M56.5 193v1M56.5 200v2M57.5 71v1M57.5 73v1M57.5 75v1M57.5 83v2M57.5 94v4M57.5 99v4M58.5 106v1M58.5 111v1M58.5 114v1M58.5 123v2M58.5 126v5M58.5 132v4M58.5 137v2M58.5 140v1M58.5 142v3M58.5 147v2M58.5 151v4M58.5 156v6M58.5 164v2M58.5 167v4M58.5 172v2M58.5 175v7M58.5 184v5M58.5 190v1M58.5 192v1M58.5 194v2M58.5 197v1M58.5 199v1M58.5 202v1M58.5 204v2M59.5 94v2M59.5 98v3M59.5 102v4M59.5 107v4M59.5 112v1M59.5 115v1M59.5 117v6M59.5 125v1M59.5 131v1M59.5 136v1M59.5 139v1M59.5 146v1M59.5 162v2M59.5 166v1M59.5 182v1M59.5 189v1M59.5 193v1M59.5 200v2M60.5 113v1M60.5 127v1M60.5 133v3M60.5 137v1M60.5 141v1M60.5 143v3M60.5 148v3M60.5 152v9M60.5 164v2M60.5 168v1M60.5 170v2M60.5 175v1M60.5 179v1M60.5 181v1M60.5 183v6M60.5 190v3M60.5 195v3M60.5 202v2M61.5 113v1M61.5 137v1M61.5 141v1M61.5 143v3M61.5 149v2M61.5 154v2M61.5 157v1M61.5 159v2M61.5 171v1M61.5 183v1M61.5 185v4M61.5 191v2M61.5 196v1M61.5 198v1M61.5 203v1M62.5 98v1M62.5 103v10M62.5 114v19M62.5 135v2M62.5 138v3M62.5 142v1M62.5 146v2M62.5 151v1M62.5 158v1M62.5 161v3M62.5 165v6M62.5 172v9M62.5 182v1M62.5 184v1M62.5 189v2M62.5 193v3M62.5 199v4M62.5 204v2M63.5 94v2M63.5 98v8M63.5 107v4M63.5 112v1M63.5 115v1M63.5 117v1M63.5 119v4M63.5 125v1M63.5 131v1M63.5 139v1M63.5 146v1M63.5 162v2M63.5 166v1M63.5 182v1M63.5 189v1M63.5 193v1M63.5 200v2M65.5 98v1M65.5 104v3M65.5 110v2M65.5 114v5M65.5 122v9M65.5 132v1M65.5 135v2M65.5 138v3M65.5 142v1M65.5 146v3M65.5 151v3M65.5 158v1M65.5 161v1M65.5 164v7M65.5 172v11M65.5 184v1M65.5 189v2M65.5 193v3M65.5 199v4M65.5 204v2M66.5 113v1M66.5 133v2M66.5 137v1M66.5 141v1M66.5 143v3M66.5 148v3M66.5 153v5M66.5 159v2M66.5 171v1M66.5 183v1M66.5 185v4M66.5 191v2M66.5 196v3M66.5 203v1M67.5 113v1M67.5 137v1M67.5 141v1M67.5 143v3M67.5 149v2M67.5 154v2M67.5 157v1M67.5 159v2M67.5 171v1M67.5 183v1M67.5 185v4M67.5 191v2M67.5 196v1M67.5 198v1M67.5 203v1M68.5 98v1M68.5 103v4M68.5 110v2M68.5 114v7M68.5 122v11M68.5 135v2M68.5 138v3M68.5 142v1M68.5 146v2M68.5 151v2M68.5 158v1M68.5 161v10M68.5 172v11M68.5 184v1M68.5 189v2M68.5 193v3M68.5 199v4M68.5 204v2M69.5 95v1M69.5 98v2M69.5 102v11M69.5 115v8M69.5 124v2M69.5 129v1M69.5 131v1M69.5 136v1M69.5 139v2M69.5 146v2M69.5 162v2M69.5 166v2M69.5 169v1M69.5 172v3M69.5 178v1M69.5 180v1M69.5 182v1M69.5 189v1M69.5 193v2M69.5 200v2M70.5 106v1M70.5 111v1M70.5 114v1M70.5 116v1M70.5 123v2M70.5 126v5M70.5 132v7M70.5 140v1M70.5 142v3M70.5 147v2M70.5 151v4M70.5 156v6M70.5 164v2M70.5 167v4M70.5 172v10M70.5 184v5M70.5 190v1M70.5 194v2M70.5 197v1M70.5 199v1M70.5 202v1M70.5 204v2M71.5 94v2M71.5 98v2M71.5 102v4M71.5 107v4M71.5 112v1M71.5 115v8M71.5 125v1M71.5 131v1M71.5 136v1M71.5 139v1M71.5 146v1M71.5 162v2M71.5 166v1M71.5 182v1M71.5 189v1M71.5 193v1M71.5 200v2M72.5 94v2M72.5 98v8M72.5 107v4M72.5 112v1M72.5 115v1M72.5 117v6M72.5 125v1M72.5 131v1M72.5 139v1M72.5 146v1M72.5 162v2M72.5 166v1M72.5 182v1M72.5 189v1M72.5 193v1M72.5 200v2M73.5 113v2M73.5 123v1M73.5 126v3M73.5 130v1M73.5 132v4M73.5 137v1M73.5 141v5M73.5 148v1M73.5 151v11M73.5 164v2M73.5 168v1M73.5 170v1M73.5 175v3M73.5 179v1M73.5 181v1M73.5 184v5M73.5 190v3M73.5 195v3M73.5 199v1M73.5 202v4M74.5 98v1M74.5 102v11M74.5 114v19M74.5 135v2M74.5 138v3M74.5 142v1M74.5 146v2M74.5 151v1M74.5 158v1M74.5 161v3M74.5 166v4M74.5 172v9M74.5 182v1M74.5 189v1M74.5 193v2M74.5 199v3M74.5 204v2M75.5 113v1M75.5 133v2M75.5 137v1M75.5 141v1M75.5 143v3M75.5 148v3M75.5 153v5M75.5 159v2M75.5 171v1M75.5 183v1M75.5 185v4M75.5 191v2M75.5 196v3M75.5 203v1M76.5 106v1M76.5 111v1M76.5 114v1M76.5 116v1M76.5 118v1M76.5 123v2M76.5 126v5M76.5 132v7M76.5 140v1M76.5 142v3M76.5 147v2M76.5 151v4M76.5 156v3M76.5 160v2M76.5 164v2M76.5 167v4M76.5 172v10M76.5 184v5M76.5 190v1M76.5 194v2M76.5 197v1M76.5 199v1M76.5 202v1M76.5 204v2M77.5 83v2M77.5 94v2M77.5 97v1M77.5 99v5M77.5 107v3M77.5 112v1M77.5 121v1M77.5 131v1M77.5 162v1M78.5 83v2M78.5 87v1M78.5 91v7M78.5 99v3M79.5 83v2M79.5 92v1M79.5 94v4M79.5 99v3M80.5 98v1M80.5 102v11M80.5 114v9M80.5 124v3M80.5 129v4M80.5 136v1M80.5 138v3M80.5 142v1M80.5 146v2M80.5 151v1M80.5 161v3M80.5 166v2M80.5 169v1M80.5 172v3M80.5 176v3M80.5 180v1M80.5 182v1M80.5 189v1M80.5 193v2M80.5 199v3M80.5 204v2M82.5 106v1M82.5 110v2M82.5 114v1M82.5 116v1M82.5 118v1M82.5 123v2M82.5 126v5M82.5 132v9M82.5 142v3M82.5 147v2M82.5 151v4M82.5 156v3M82.5 161v1M82.5 164v2M82.5 167v4M82.5 172v10M82.5 184v1M82.5 187v4M82.5 194v2M82.5 197v1M82.5 199v1M82.5 202v1M82.5 204v2M83.5 106v1M83.5 110v2M83.5 114v1M83.5 116v1M83.5 118v1M83.5 123v2M83.5 126v5M83.5 132v9M83.5 142v3M83.5 147v2M83.5 151v4M83.5 156v1M83.5 158v1M83.5 161v1M83.5 164v2M83.5 167v4M83.5 172v10M83.5 184v1M83.5 187v4M83.5 194v2M83.5 197v1M83.5 199v1M83.5 201v2M83.5 204v2M84.5 113v2M84.5 123v1M84.5 126v3M84.5 132v4M84.5 137v1M84.5 141v5M84.5 148v1M84.5 151v11M84.5 164v2M84.5 168v1M84.5 170v1M84.5 175v3M84.5 179v1M84.5 181v1M84.5 184v5M84.5 190v3M84.5 195v3M84.5 202v4M85.5 85v3M85.5 89v6M85.5 96v2M85.5 100v2M86.5 106v1M86.5 111v1M86.5 114v1M86.5 116v1M86.5 118v1M86.5 123v2M86.5 126v5M86.5 132v7M86.5 140v1M86.5 142v3M86.5 147v2M86.5 151v4M86.5 156v3M86.5 160v2M86.5 164v2M86.5 167v4M86.5 172v10M86.5 184v1M86.5 187v2M86.5 190v1M86.5 194v2M86.5 197v1M86.5 199v1M86.5 202v1M86.5 204v2M87.5 98v1M87.5 102v11M87.5 114v13M87.5 128v5M87.5 136v1M87.5 138v3M87.5 142v1M87.5 146v2M87.5 151v1M87.5 161v3M87.5 166v2M87.5 169v1M87.5 172v3M87.5 176v3M87.5 180v1M87.5 182v1M87.5 189v1M87.5 193v2M87.5 199v3M87.5 204v2M88.5 113v2M88.5 123v1M88.5 126v3M88.5 132v4M88.5 137v1M88.5 141v5M88.5 148v1M88.5 151v11M88.5 164v2M88.5 168v1M88.5 170v1M88.5 175v3M88.5 179v1M88.5 181v1M88.5 184v5M88.5 190v3M88.5 195v3M88.5 202v4M89.5 98v1M89.5 103v10M89.5 114v19M89.5 135v2M89.5 138v3M89.5 142v1M89.5 146v2M89.5 151v1M89.5 158v1M89.5 161v3M89.5 166v4M89.5 172v9M89.5 182v1M89.5 189v1M89.5 193v3M89.5 199v4M89.5 204v2M90.5 106v1M90.5 111v1M90.5 114v1M90.5 123v2M90.5 126v5M90.5 132v4M90.5 137v2M90.5 140v1M90.5 142v3M90.5 147v2M90.5 151v4M90.5 156v6M90.5 164v2M90.5 167v4M90.5 172v10M90.5 184v5M90.5 190v1M90.5 192v1M90.5 194v2M90.5 197v1M90.5 199v1M90.5 202v1M90.5 204v2M91.5 95v1M91.5 98v2M91.5 102v4M91.5 107v4M91.5 112v1M91.5 115v8M91.5 125v1M91.5 129v1M91.5 131v1M91.5 136v1M91.5 139v1M91.5 146v1M91.5 162v2M91.5 166v1M91.5 174v1M91.5 182v1M91.5 189v1M91.5 193v1M91.5 200v2M92.5 106v1M92.5 111v1M92.5 114v1M92.5 116v1M92.5 118v1M92.5 123v2M92.5 126v5M92.5 132v7M92.5 140v1M92.5 142v3M92.5 147v2M92.5 151v4M92.5 156v3M92.5 160v2M92.5 164v2M92.5 167v4M92.5 172v10M92.5 184v2M92.5 187v2M92.5 190v1M92.5 194v2M92.5 197v1M92.5 199v1M92.5 202v1M92.5 204v2M93.5 93v1M93.5 96v2M93.5 100v2M94.5 96v1M95.5 95v1M95.5 97v9M95.5 107v3M95.5 112v1M95.5 115v1M95.5 117v1M95.5 119v4M95.5 125v1M95.5 131v1M95.5 146v1M95.5 162v2M95.5 166v1M95.5 182v1M95.5 193v1M95.5 200v1M96.5 98v1M96.5 102v11M96.5 114v19M96.5 135v2M96.5 138v3M96.5 142v1M96.5 146v2M96.5 151v1M96.5 158v1M96.5 161v3M96.5 166v4M96.5 172v9M96.5 182v1M96.5 189v1M96.5 193v3M96.5 199v3M96.5 204v2M97.5 98v2M97.5 102v4M97.5 107v6M97.5 115v8M97.5 124v2M97.5 129v1M97.5 131v1M97.5 136v1M97.5 139v1M97.5 146v1M97.5 162v2M97.5 166v1M97.5 173v2M97.5 182v1M97.5 189v1M97.5 193v1M97.5 200v2M98.5 106v1M98.5 111v1M98.5 114v1M98.5 116v1M98.5 123v2M98.5 126v5M98.5 132v4M98.5 137v2M98.5 140v1M98.5 142v3M98.5 147v2M98.5 151v4M98.5 156v6M98.5 164v2M98.5 167v4M98.5 172v10M98.5 184v5M98.5 190v1M98.5 192v1M98.5 194v2M98.5 197v1M98.5 199v1M98.5 202v1M98.5 204v2M101.5 101v5M101.5 107v4M101.5 112v1M101.5 115v1M101.5 117v6M101.5 125v1M101.5 131v1M101.5 139v1M101.5 146v1M101.5 162v2M101.5 166v1M101.5 182v1M101.5 189v1M101.5 193v1M101.5 200v2M102.5 106v1M102.5 111v1M102.5 114v1M102.5 123v2M102.5 126v5M102.5 132v4M102.5 137v2M102.5 140v1M102.5 142v3M102.5 147v2M102.5 151v4M102.5 156v6M102.5 164v2M102.5 167v4M102.5 172v10M102.5 184v5M102.5 190v1M102.5 192v1M102.5 194v2M102.5 197v1M102.5 199v1M102.5 202v1M102.5 204v2M103.5 103v10M103.5 115v8M103.5 124v3M103.5 129v4M103.5 136v1M103.5 138v3M103.5 142v1M103.5 146v2M103.5 151v1M103.5 162v2M103.5 166v2M103.5 169v1M103.5 172v3M103.5 176v3M103.5 180v1M103.5 182v1M103.5 189v1M103.5 193v2M103.5 199v3M103.5 204v1M104.5 106v1M104.5 111v1M104.5 114v1M104.5 116v1M104.5 118v1M104.5 123v2M104.5 126v5M104.5 132v7M104.5 140v1M104.5 142v3M104.5 147v2M104.5 151v4M104.5 156v3M104.5 160v2M104.5 164v2M104.5 167v4M104.5 172v10M104.5 184v1M104.5 187v2M104.5 190v1M104.5 194v2M104.5 197v1M104.5 199v1M104.5 202v1M104.5 204v2M105.5 107v3M105.5 112v1M105.5 119v1M105.5 121v1M105.5 131v1M105.5 162v1M107.5 107v1M107.5 109v3M107.5 114v7M107.5 122v11M107.5 135v2M107.5 138v3M107.5 142v1M107.5 146v2M107.5 151v2M107.5 158v1M107.5 161v10M107.5 172v9M107.5 182v1M107.5 184v1M107.5 189v2M107.5 193v3M107.5 199v4M107.5 204v2M108.5 108v5M108.5 114v19M108.5 135v2M108.5 138v3M108.5 142v1M108.5 146v2M108.5 151v1M108.5 158v1M108.5 161v3M108.5 166v4M108.5 172v9M108.5 182v1M108.5 189v1M108.5 193v3M108.5 199v4M108.5 204v2M109.5 109v1M109.5 112v1M109.5 119v3M109.5 125v1M109.5 131v1M109.5 162v2M110.5 112v1M110.5 115v1M110.5 119v4M110.5 125v1M110.5 131v1M110.5 162v2M110.5 166v1M110.5 193v1M111.5 111v2M111.5 115v8M111.5 124v2M111.5 129v3M111.5 136v1M111.5 138v3M111.5 146v2M111.5 162v2M111.5 166v2M111.5 169v1M111.5 172v3M111.5 178v1M111.5 180v1M111.5 182v1M111.5 189v1M111.5 193v2M111.5 199v3M112.5 114v1M112.5 116v1M112.5 118v1M112.5 123v2M112.5 126v5M112.5 132v9M112.5 142v3M112.5 147v2M112.5 151v4M112.5 156v3M112.5 161v1M112.5 164v2M112.5 167v4M112.5 172v10M112.5 184v1M112.5 187v4M112.5 194v2M112.5 197v1M112.5 199v1M112.5 202v1M112.5 204v2M113.5 114v5M113.5 122v3M113.5 126v5M113.5 132v1M113.5 135v2M113.5 138v3M113.5 142v1M113.5 146v3M113.5 151v3M113.5 158v1M113.5 161v1M113.5 164v7M113.5 172v11M113.5 184v1M113.5 189v2M113.5 193v3M113.5 199v4M113.5 204v2M114.5 114v1M114.5 116v3M114.5 123v2M114.5 126v5M114.5 132v5M114.5 138v3M114.5 142v1M114.5 146v3M114.5 151v3M114.5 156v1M114.5 158v1M114.5 161v1M114.5 164v2M114.5 167v4M114.5 172v11M114.5 184v1M114.5 189v2M114.5 194v2M114.5 197v1M114.5 199v4M114.5 204v2M115.5 133v2M115.5 137v1M115.5 141v1M115.5 143v3M115.5 148v3M115.5 152v6M115.5 159v2M115.5 164v1M115.5 170v2M115.5 181v1M115.5 183v6M115.5 190v3M115.5 196v2M115.5 203v1M116.5 116v1M116.5 118v1M116.5 123v2M116.5 126v5M116.5 132v7M116.5 140v1M116.5 142v3M116.5 147v2M116.5 151v4M116.5 156v3M116.5 160v2M116.5 164v2M116.5 167v4M116.5 172v10M116.5 184v2M116.5 187v2M116.5 190v1M116.5 194v2M116.5 197v1M116.5 199v1M116.5 202v1M116.5 204v2M117.5 133v2M117.5 137v1M117.5 141v1M117.5 143v3M117.5 148v3M117.5 152v6M117.5 159v2M117.5 164v2M117.5 170v2M117.5 181v1M117.5 183v6M117.5 190v3M117.5 196v2M117.5 202v2M119.5 123v2M119.5 126v5M119.5 132v7M119.5 140v1M119.5 142v3M119.5 147v2M119.5 151v4M119.5 156v3M119.5 160v2M119.5 164v2M119.5 167v4M119.5 172v10M119.5 184v1M119.5 187v2M119.5 190v1M119.5 194v2M119.5 197v1M119.5 199v1M119.5 202v1M119.5 204v2M120.5 123v2M120.5 126v5M120.5 132v7M120.5 140v1M120.5 142v3M120.5 147v2M120.5 151v4M120.5 156v6M120.5 164v2M120.5 167v4M120.5 172v10M120.5 184v5M120.5 190v1M120.5 192v1M120.5 194v2M120.5 197v1M120.5 199v1M120.5 202v1M120.5 204v2M121.5 121v2M121.5 124v2M121.5 129v1M121.5 131v1M121.5 136v1M121.5 138v3M121.5 146v2M121.5 162v2M121.5 166v2M121.5 169v1M121.5 172v3M121.5 178v1M121.5 180v1M121.5 182v1M121.5 189v1M121.5 193v2M121.5 199v3M122.5 123v1M122.5 126v3M122.5 130v1M122.5 132v4M122.5 137v1M122.5 141v5M122.5 148v1M122.5 151v11M122.5 164v2M122.5 168v1M122.5 170v1M122.5 175v3M122.5 179v1M122.5 181v1M122.5 184v5M122.5 190v3M122.5 195v3M122.5 202v4M123.5 123v1M123.5 126v3M123.5 130v1M123.5 132v4M123.5 137v2M123.5 140v1M123.5 142v4M123.5 147v2M123.5 151v4M123.5 156v6M123.5 164v2M123.5 167v4M123.5 172v1M123.5 175v7M123.5 184v5M123.5 190v1M123.5 192v1M123.5 194v2M123.5 197v1M123.5 199v1M123.5 202v4M124.5 125v1M124.5 131v1M124.5 136v1M124.5 139v1M124.5 146v1M124.5 162v2M124.5 166v1M124.5 182v1M124.5 189v1M124.5 193v1M124.5 200v2M125.5 126v5M125.5 132v7M125.5 140v1M125.5 142v3M125.5 147v2M125.5 151v4M125.5 156v6M125.5 164v2M125.5 167v4M125.5 172v10M125.5 184v5M125.5 190v1M125.5 194v2M125.5 197v1M125.5 199v1M125.5 202v1M125.5 204v2M126.5 126v5M126.5 132v9M126.5 142v1M126.5 146v3M126.5 151v3M126.5 156v1M126.5 158v1M126.5 161v1M126.5 164v2M126.5 167v4M126.5 172v11M126.5 184v1M126.5 189v2M126.5 194v2M126.5 197v1M126.5 199v4M126.5 204v2M128.5 128v3M128.5 132v7M128.5 140v1M128.5 142v3M128.5 147v2M128.5 151v4M128.5 156v3M128.5 160v2M128.5 164v2M128.5 167v4M128.5 172v10M128.5 184v1M128.5 187v2M128.5 190v1M128.5 194v2M128.5 197v1M128.5 199v1M128.5 202v1M128.5 204v2M130.5 130v1M130.5 132v9M130.5 142v3M130.5 147v2M130.5 151v4M130.5 156v1M130.5 158v1M130.5 161v1M130.5 164v2M130.5 167v4M130.5 172v10M130.5 184v1M130.5 187v4M130.5 194v2M130.5 197v1M130.5 199v1M130.5 201v2M130.5 204v2M133.5 136v1M133.5 138v3M133.5 146v2M133.5 162v2M133.5 166v2M133.5 169v1M133.5 172v3M133.5 178v1M133.5 180v1M133.5 182v1M133.5 189v1M133.5 193v2M133.5 200v2M134.5 134v2M134.5 137v2M134.5 140v1M134.5 142v3M134.5 147v2M134.5 151v4M134.5 156v6M134.5 164v2M134.5 167v4M134.5 172v10M134.5 184v5M134.5 190v1M134.5 192v1M134.5 194v2M134.5 197v1M134.5 199v1M134.5 202v1M134.5 204v2M135.5 136v1M135.5 139v1M135.5 146v1M135.5 162v2M135.5 166v1M135.5 173v2M135.5 182v1M135.5 189v1M135.5 193v1M135.5 200v2M136.5 139v1M136.5 146v1M136.5 162v2M136.5 166v1M136.5 182v1M136.5 189v1M136.5 193v1M136.5 200v2M137.5 137v4M137.5 142v3M137.5 147v2M137.5 151v4M137.5 156v1M137.5 158v1M137.5 161v1M137.5 164v2M137.5 167v4M137.5 172v10M137.5 184v1M137.5 187v4M137.5 194v2M137.5 197v1M137.5 199v1M137.5 201v2M137.5 204v2M138.5 141v1M138.5 143v3M138.5 148v3M138.5 153v5M138.5 159v2M138.5 171v1M138.5 183v1M138.5 185v4M138.5 191v2M138.5 196v3M138.5 203v1M139.5 162v2M142.5 143v3M142.5 148v3M142.5 152v9M142.5 164v2M142.5 168v1M142.5 170v2M142.5 175v1M142.5 179v1M142.5 181v1M142.5 183v6M142.5 190v3M142.5 195v3M142.5 202v2M143.5 143v3M143.5 148v3M143.5 152v10M143.5 164v2M143.5 168v1M143.5 170v2M143.5 175v1M143.5 179v1M143.5 181v1M143.5 183v6M143.5 190v3M143.5 195v3M143.5 202v2M143.5 205v1M144.5 144v1M144.5 147v2M144.5 151v3M144.5 156v1M144.5 158v1M144.5 161v1M144.5 164v2M144.5 167v4M144.5 172v10M144.5 184v1M144.5 188v3M144.5 194v2M144.5 197v1M144.5 199v4M144.5 204v2M145.5 146v2M145.5 151v1M145.5 158v1M145.5 161v3M145.5 166v4M145.5 172v9M145.5 182v1M145.5 189v1M145.5 193v3M145.5 199v3M145.5 204v2M146.5 146v2M146.5 151v2M146.5 158v1M146.5 161v3M146.5 165v6M146.5 172v9M146.5 182v1M146.5 184v1M146.5 189v2M146.5 193v3M146.5 199v4M146.5 204v2M147.5 147v2M147.5 151v4M147.5 156v3M147.5 161v1M147.5 164v2M147.5 167v4M147.5 172v10M147.5 184v1M147.5 187v2M147.5 190v1M147.5 194v2M147.5 197v1M147.5 199v1M147.5 202v1M147.5 204v2M148.5 148v1M148.5 151v4M148.5 156v3M148.5 160v2M148.5 164v2M148.5 167v4M148.5 172v10M148.5 184v1M148.5 187v2M148.5 190v1M148.5 194v2M148.5 197v1M148.5 199v1M148.5 202v1M148.5 204v2M149.5 162v2M149.5 166v1M149.5 182v1M149.5 193v1M149.5 200v1M150.5 151v3M150.5 156v1M150.5 158v1M150.5 161v1M150.5 164v2M150.5 167v4M150.5 172v11M150.5 184v1M150.5 189v2M150.5 193v3M150.5 197v1M150.5 199v4M150.5 204v2M151.5 162v2M151.5 166v2M151.5 169v1M151.5 172v3M151.5 178v1M151.5 180v1M151.5 182v1M151.5 189v1M151.5 193v1M151.5 200v2M152.5 158v1M152.5 161v3M152.5 166v4M152.5 172v9M152.5 182v1M152.5 189v1M152.5 193v2M152.5 199v3M152.5 204v2M155.5 155v3M155.5 159v2M155.5 164v1M155.5 170v2M155.5 181v1M155.5 183v6M155.5 191v2M155.5 196v2M155.5 203v1M156.5 156v6M156.5 164v2M156.5 167v4M156.5 172v10M156.5 184v5M156.5 190v1M156.5 192v1M156.5 194v2M156.5 197v1M156.5 199v1M156.5 202v1M156.5 204v2M157.5 158v1M157.5 161v1M157.5 164v2M157.5 167v4M157.5 172v11M157.5 184v1M157.5 188v3M157.5 194v2M157.5 197v1M157.5 199v4M157.5 204v2M158.5 158v4M158.5 164v2M158.5 167v4M158.5 172v10M158.5 184v5M158.5 190v1M158.5 192v1M158.5 194v2M158.5 197v1M158.5 199v1M158.5 202v1M158.5 204v2M159.5 161v10M159.5 172v11M159.5 184v1M159.5 189v2M159.5 193v3M159.5 199v4M159.5 204v2M160.5 160v2M160.5 164v2M160.5 167v4M160.5 172v1M160.5 175v7M160.5 184v5M160.5 190v1M160.5 192v1M160.5 194v2M160.5 197v1M160.5 199v1M160.5 202v4M161.5 161v1M161.5 164v2M161.5 167v2M161.5 170v1M161.5 172v1M161.5 175v7M161.5 184v5M161.5 190v1M161.5 192v1M161.5 194v2M161.5 197v1M161.5 199v1M161.5 202v4M162.5 162v2M162.5 166v4M162.5 172v9M162.5 182v1M162.5 189v1M162.5 193v2M162.5 199v3M162.5 204v2M164.5 166v1M164.5 182v1M164.5 189v1M164.5 193v1M164.5 200v2M165.5 166v2M165.5 169v1M165.5 172v3M165.5 178v1M165.5 180v1M165.5 182v1M165.5 189v1M165.5 193v2M165.5 200v2M167.5 167v1M167.5 169v1M167.5 172v3M167.5 176v3M167.5 180v1M167.5 182v1M167.5 189v1M167.5 193v2M167.5 199v3M167.5 204v2M169.5 170v1M169.5 175v3M169.5 179v1M169.5 181v1M169.5 184v5M169.5 190v3M169.5 195v3M169.5 202v4M170.5 172v3M170.5 176v3M170.5 180v1M170.5 182v1M170.5 189v1M170.5 193v2M170.5 199v3M170.5 204v2M172.5 183v1M172.5 185v3M172.5 191v2M172.5 196v1M172.5 198v1M172.5 203v1M173.5 173v9M173.5 184v2M173.5 187v2M173.5 190v1M173.5 194v2M173.5 197v1M173.5 199v1M173.5 202v1M173.5 204v2M174.5 174v9M174.5 184v1M174.5 188v3M174.5 194v2M174.5 197v1M174.5 199v4M174.5 204v2M178.5 179v1M178.5 181v1M178.5 184v5M178.5 190v3M178.5 195v3M178.5 202v4M179.5 183v1M179.5 191v2M179.5 196v1M179.5 198v1M179.5 203v1M180.5 180v2M180.5 184v2M180.5 187v2M180.5 190v1M180.5 194v2M180.5 197v1M180.5 199v1M180.5 202v1M180.5 204v2M182.5 184v1M182.5 188v3M182.5 194v2M182.5 197v1M182.5 199v4M182.5 204v2M186.5 186v3M186.5 190v1M186.5 192v1M186.5 194v2M186.5 197v1M186.5 199v1M186.5 202v4M188.5 189v2M188.5 193v3M188.5 199v4M188.5 204v2M189.5 189v2M189.5 194v2M189.5 197v1M189.5 199v4M189.5 204v2M190.5 190v3M190.5 195v3M190.5 202v2M191.5 191v2M191.5 196v2M191.5 202v2M192.5 192v1M192.5 196v1M192.5 198v1M192.5 203v1M193.5 193v2M193.5 199v3M193.5 204v2M196.5 200v2M197.5 197v1M197.5 199v1M197.5 202v1M197.5 204v2M198.5 200v2M201.5 202v4M202.5 202v2M203.5 203v3M204.5 204v2M205.5 205v1" stroke="#913584" stroke-width="1" fill="none"/>
<path d="M0.5 1v3M0.5 6v4M0.5 11v1M0.5 14v1M0.5 18v3M0.5 22v3M0.5 28v4M0.5 36v1M0.5 38v7M0.5 46v1M0.5 48v3M0.5 52v1M0.5 54v1M0.5 58v5M0.5 64v3M0.5 78v4M0.5 88v1M1.5 1v15M1.5 17v13M1.5 31v1M1.5 33v30M1.5 64v7M1.5 72v1M1.5 74v1M1.5 76v6M1.5 85v1M1.5 88v3M2.5 2v3M2.5 6v6M2.5 13v2M2.5 18v8M2.5 28v4M2.5 36v1M2.5 38v9M2.5 48v5M2.5 54v1M2.5 58v5M2.5 64v6M2.5 77v5M2.5 88v1M3.5 3v2M3.5 6v4M3.5 11v1M3.5 14v1M3.5 18v3M3.5 22v4M3.5 28v4M3.5 36v1M3.5 38v7M3.5 46v1M3.5 48v3M3.5 52v1M3.5 54v1M3.5 58v5M3.5 64v4M3.5 78v4M3.5 88v1M4.5 8v2M4.5 28v3M4.5 39v1M4.5 80v1M5.5 28v1M5.5 30v1M8.5 10v10M8.5 21v7M8.5 31v8M8.5 43v1M8.5 45v3M8.5 50v9M8.5 61v1M8.5 63v2M8.5 67v4M8.5 72v7M8.5 81v2M8.5 85v9M8.5 96v1M9.5 12v1M9.5 15v3M9.5 26v2M9.5 32v1M9.5 34v2M9.5 37v1M9.5 47v1M9.5 53v1M9.5 55v3M9.5 63v1M9.5 70v7M9.5 82v6M9.5 89v5M9.5 96v2M10.5 10v8M10.5 19v1M10.5 21v1M10.5 23v5M10.5 32v7M10.5 45v3M10.5 51v8M10.5 63v1M10.5 67v4M10.5 72v7M10.5 81v2M10.5 84v10M10.5 96v1M11.5 71v1M11.5 94v2M11.5 97v1M11.5 99v4M11.5 107v3M11.5 112v1M11.5 121v1M12.5 12v2M12.5 15v3M12.5 21v1M12.5 26v2M12.5 32v4M12.5 37v1M12.5 45v1M12.5 47v1M12.5 53v1M12.5 55v3M12.5 63v1M12.5 69v8M12.5 82v6M12.5 89v5M12.5 96v2M13.5 28v1M13.5 30v1M14.5 14v14M14.5 31v40M14.5 72v1M14.5 74v1M14.5 76v7M14.5 85v7M14.5 93v1M15.5 18v3M15.5 22v4M15.5 28v4M15.5 36v1M15.5 38v9M15.5 48v5M15.5 54v1M15.5 58v5M15.5 64v6M15.5 77v5M15.5 88v1M17.5 18v3M17.5 22v3M17.5 28v4M17.5 36v1M17.5 38v7M17.5 48v3M17.5 52v1M17.5 54v1M17.5 58v5M17.5 64v3M17.5 78v4M17.5 88v1M18.5 21v1M18.5 26v2M18.5 32v4M18.5 37v1M18.5 45v1M18.5 47v1M18.5 51v1M18.5 53v1M18.5 55v3M18.5 63v1M18.5 68v10M18.5 82v6M18.5 89v5M18.5 96v2M19.5 71v1M19.5 94v2M19.5 97v1M19.5 99v4M19.5 107v3M19.5 112v1M19.5 121v1M20.5 20v1M20.5 22v1M20.5 28v4M20.5 38v7M20.5 48v3M20.5 52v1M20.5 58v5M20.5 64v3M20.5 79v2M22.5 26v2M22.5 32v4M22.5 37v1M22.5 45v1M22.5 47v1M22.5 51v1M22.5 53v1M22.5 55v3M22.5 63v1M22.5 69v8M22.5 82v6M22.5 89v5M22.5 96v2M23.5 32v1M23.5 63v1M23.5 71v1M23.5 73v1M23.5 75v1M23.5 82v3M23.5 87v1M23.5 91v4M23.5 96v2M23.5 100v2M24.5 28v3M24.5 80v1M25.5 25v1M25.5 28v4M25.5 36v1M25.5 38v7M25.5 46v1M25.5 48v3M25.5 52v1M25.5 54v1M25.5 58v5M25.5 64v4M25.5 78v4M25.5 88v1M26.5 94v2M26.5 98v6M26.5 105v1M26.5 107v3M26.5 112v1M26.5 115v1M26.5 119v4M26.5 125v1M26.5 131v1M26.5 162v2M26.5 166v1M26.5 193v1M27.5 28v4M27.5 36v1M27.5 38v7M27.5 46v1M27.5 48v3M27.5 52v1M27.5 54v1M27.5 58v5M27.5 64v5M27.5 77v5M27.5 88v1M28.5 32v6M28.5 45v3M28.5 51v8M28.5 63v1M28.5 67v4M28.5 72v7M28.5 81v2M28.5 84v10M28.5 96v1M29.5 32v4M29.5 37v1M29.5 47v1M29.5 53v1M29.5 55v3M29.5 63v1M29.5 70v7M29.5 82v6M29.5 89v5M29.5 96v2M30.5 31v8M30.5 43v1M30.5 45v3M30.5 50v9M30.5 63v2M30.5 67v4M30.5 72v7M30.5 81v2M30.5 85v9M30.5 96v1M31.5 31v8M31.5 43v1M31.5 45v3M31.5 49v13M31.5 63v2M31.5 67v4M31.5 72v3M31.5 76v3M31.5 81v2M31.5 85v9M31.5 96v1M32.5 98v1M32.5 103v10M32.5 115v8M32.5 124v3M32.5 129v4M32.5 136v1M32.5 138v3M32.5 142v1M32.5 146v2M32.5 151v1M32.5 162v2M32.5 166v2M32.5 169v1M32.5 172v3M32.5 176v3M32.5 180v1M32.5 182v1M32.5 189v1M32.5 193v2M32.5 199v3M32.5 204v1M33.5 71v1M33.5 83v1M33.5 94v2M33.5 97v1M33.5 99v4M33.5 108v1M33.5 112v1M33.5 121v1M34.5 94v2M34.5 97v1M34.5 99v5M34.5 107v3M34.5 112v1M34.5 119v1M34.5 121v1M34.5 131v1M34.5 162v2M35.5 39v4M35.5 44v1M35.5 48v2M35.5 59v4M35.5 64v3M35.5 79v2M36.5 98v1M36.5 103v4M36.5 110v2M36.5 114v7M36.5 122v5M36.5 128v5M36.5 135v2M36.5 138v3M36.5 142v1M36.5 146v2M36.5 151v1M36.5 161v1M36.5 163v1M36.5 166v2M36.5 169v1M36.5 172v3M36.5 176v3M36.5 180v1M36.5 182v1M36.5 189v1M36.5 193v2M36.5 199v3M36.5 204v2M37.5 98v1M37.5 102v11M37.5 115v8M37.5 124v2M37.5 129v1M37.5 131v1M37.5 136v1M37.5 139v2M37.5 146v2M37.5 162v2M37.5 166v2M37.5 169v1M37.5 172v3M37.5 178v1M37.5 180v1M37.5 182v1M37.5 189v1M37.5 193v2M37.5 200v2M38.5 95v1M38.5 98v1M38.5 102v4M38.5 107v4M38.5 112v1M38.5 115v8M38.5 125v1M38.5 131v1M38.5 136v1M38.5 139v1M38.5 146v1M38.5 162v2M38.5 166v1M38.5 182v1M38.5 189v1M38.5 193v1M38.5 200v2M39.5 94v2M39.5 97v1M39.5 99v4M39.5 107v3M39.5 112v1M39.5 121v1M39.5 131v1M39.5 162v1M40.5 63v1M40.5 71v1M40.5 73v1M40.5 75v1M40.5 82v3M40.5 86v2M40.5 91v4M40.5 96v2M40.5 100v2M41.5 98v1M41.5 103v4M41.5 110v2M41.5 114v7M41.5 122v5M41.5 128v5M41.5 136v1M41.5 138v3M41.5 142v1M41.5 146v2M41.5 151v1M41.5 161v1M41.5 163v1M41.5 166v2M41.5 169v1M41.5 172v3M41.5 176v3M41.5 180v1M41.5 182v1M41.5 189v1M41.5 193v2M41.5 199v3M41.5 204v2M42.5 95v1M42.5 98v1M42.5 102v4M42.5 107v4M42.5 112v1M42.5 115v8M42.5 125v1M42.5 129v1M42.5 131v1M42.5 136v1M42.5 139v1M42.5 146v1M42.5 162v2M42.5 166v1M42.5 174v1M42.5 182v1M42.5 189v1M42.5 193v1M42.5 200v2M43.5 53v1M43.5 63v1M43.5 70v2M43.5 73v1M43.5 75v1M43.5 82v3M43.5 86v2M43.5 91v4M43.5 96v2M43.5 100v2M44.5 71v1M44.5 83v1M44.5 94v2M44.5 97v1M44.5 99v4M45.5 106v1M45.5 111v1M45.5 114v1M45.5 116v1M45.5 123v2M45.5 126v5M45.5 132v4M45.5 137v2M45.5 140v1M45.5 142v3M45.5 147v2M45.5 151v4M45.5 156v1M45.5 158v1M45.5 161v1M45.5 164v2M45.5 167v4M45.5 172v10M45.5 184v1M45.5 188v1M45.5 190v1M45.5 194v2M45.5 197v1M45.5 199v1M45.5 202v1M45.5 204v2M47.5 106v1M47.5 110v2M47.5 114v1M47.5 116v1M47.5 118v1M47.5 123v2M47.5 126v5M47.5 132v1M47.5 135v2M47.5 138v3M47.5 142v1M47.5 147v2M47.5 151v2M47.5 158v1M47.5 161v1M47.5 164v2M47.5 167v4M47.5 172v10M47.5 184v1M47.5 189v2M47.5 194v2M47.5 199v1M47.5 202v1M47.5 204v2M48.5 50v9M48.5 61v1M48.5 63v2M48.5 67v4M48.5 72v7M48.5 81v2M48.5 85v9M48.5 96v1M49.5 95v1M49.5 98v2M49.5 102v4M49.5 107v3M49.5 112v1M49.5 115v1M49.5 117v1M49.5 119v4M49.5 125v1M49.5 131v1M49.5 139v1M49.5 146v1M49.5 162v2M49.5 166v1M49.5 182v1M49.5 193v1M49.5 200v2M50.5 50v1M50.5 52v1M50.5 54v1M50.5 58v5M50.5 64v4M50.5 78v4M50.5 88v1M51.5 104v1M51.5 106v1M51.5 110v2M51.5 114v1M51.5 116v3M51.5 122v3M51.5 126v5M51.5 132v1M51.5 135v2M51.5 138v3M51.5 142v1M51.5 146v2M51.5 151v1M51.5 158v1M51.5 161v1M51.5 165v1M51.5 167v3M51.5 172v9M51.5 182v1M51.5 189v2M51.5 193v3M51.5 199v4M51.5 204v2M52.5 98v1M52.5 103v5M52.5 109v3M52.5 114v9M52.5 124v3M52.5 129v4M52.5 136v1M52.5 138v3M52.5 142v1M52.5 146v2M52.5 151v1M52.5 162v2M52.5 166v2M52.5 169v1M52.5 172v3M52.5 176v3M52.5 180v1M52.5 182v1M52.5 189v1M52.5 193v2M52.5 199v3M52.5 204v2M53.5 94v2M53.5 99v5M53.5 107v3M53.5 112v1M53.5 119v3M53.5 131v1M53.5 162v2M55.5 98v1M55.5 103v4M55.5 110v2M55.5 114v7M55.5 122v5M55.5 128v5M55.5 136v1M55.5 138v3M55.5 142v1M55.5 146v2M55.5 151v1M55.5 161v1M55.5 163v1M55.5 166v2M55.5 169v1M55.5 172v3M55.5 176v3M55.5 180v1M55.5 182v1M55.5 189v1M55.5 193v2M55.5 199v3M55.5 204v2M56.5 56v2M56.5 63v1M56.5 69v8M56.5 82v6M56.5 89v5M56.5 96v2M57.5 57v14M57.5 72v1M57.5 74v1M57.5 76v4M57.5 81v2M57.5 85v9M58.5 95v1M58.5 98v1M58.5 102v4M58.5 107v4M58.5 112v1M58.5 115v8M58.5 125v1M58.5 131v1M58.5 136v1M58.5 139v1M58.5 146v1M58.5 162v2M58.5 166v1M58.5 174v1M58.5 182v1M58.5 189v1M58.5 193v1M58.5 200v2M59.5 63v1M59.5 70v2M59.5 73v4M59.5 82v6M59.5 89v5M59.5 96v2M59.5 101v1M60.5 98v1M60.5 103v4M60.5 110v2M60.5 114v7M60.5 122v5M60.5 128v5M60.5 136v1M60.5 138v3M60.5 142v1M60.5 146v2M60.5 151v1M60.5 161v3M60.5 166v2M60.5 169v1M60.5 172v3M60.5 176v3M60.5 180v1M60.5 182v1M60.5 189v1M60.5 193v2M60.5 199v3M60.5 204v2M61.5 106v1M61.5 111v1M61.5 114v1M61.5 116v1M61.5 118v1M61.5 123v2M61.5 126v5M61.5 132v5M61.5 138v1M61.5 140v1M61.5 142v1M61.5 147v2M61.5 151v3M61.5 156v1M61.5 158v1M61.5 161v1M61.5 164v2M61.5 167v4M61.5 172v10M61.5 184v1M61.5 190v1M61.5 194v2M61.5 197v1M61.5 199v1M61.5 202v1M61.5 204v2M62.5 71v1M62.5 83v1M62.5 94v2M62.5 97v1M62.5 99v4M63.5 63v1M63.5 69v8M63.5 82v6M63.5 89v5M63.5 96v2M65.5 94v2M65.5 99v5M65.5 107v3M65.5 112v1M65.5 119v3M65.5 131v1M65.5 162v2M66.5 106v1M66.5 110v2M66.5 114v1M66.5 116v1M66.5 118v1M66.5 123v2M66.5 126v5M66.5 132v1M66.5 135v2M66.5 138v3M66.5 142v1M66.5 147v1M66.5 151v2M66.5 158v1M66.5 161v1M66.5 164v2M66.5 167v4M66.5 172v10M66.5 184v1M66.5 189v2M66.5 194v2M66.5 199v1M66.5 201v2M66.5 204v2M67.5 106v1M67.5 111v1M67.5 114v1M67.5 116v1M67.5 118v1M67.5 123v2M67.5 126v5M67.5 132v5M67.5 138v1M67.5 140v1M67.5 142v1M67.5 147v2M67.5 151v3M67.5 156v1M67.5 158v1M67.5 161v1M67.5 164v2M67.5 167v4M67.5 172v10M67.5 184v1M67.5 190v1M67.5 194v2M67.5 197v1M67.5 199v1M67.5 202v1M67.5 204v2M68.5 71v1M68.5 94v2M68.5 97v1M68.5 99v4M68.5 107v3M68.5 112v1M68.5 121v1M69.5 71v1M69.5 73v1M69.5 75v1M69.5 83v2M69.5 87v1M69.5 91v4M69.5 96v2M69.5 100v2M70.5 95v1M70.5 98v2M70.5 102v4M70.5 107v4M70.5 112v1M70.5 115v1M70.5 117v6M70.5 125v1M70.5 131v1M70.5 139v1M70.5 146v1M70.5 162v2M70.5 166v1M70.5 182v1M70.5 189v1M70.5 193v1M70.5 200v2M71.5 71v1M71.5 73v1M71.5 75v2M71.5 82v6M71.5 89v1M71.5 91v3M71.5 96v2M71.5 100v2M72.5 72v5M72.5 82v6M72.5 89v5M72.5 96v2M73.5 98v1M73.5 102v11M73.5 115v8M73.5 124v2M73.5 129v1M73.5 131v1M73.5 136v1M73.5 138v3M73.5 146v2M73.5 162v2M73.5 166v2M73.5 169v1M73.5 172v3M73.5 178v1M73.5 180v1M73.5 182v1M73.5 189v1M73.5 193v2M73.5 200v2M74.5 83v2M74.5 94v2M74.5 97v1M74.5 99v3M75.5 106v1M75.5 110v2M75.5 114v1M75.5 116v1M75.5 118v1M75.5 123v2M75.5 126v5M75.5 132v1M75.5 135v2M75.5 138v3M75.5 142v1M75.5 147v1M75.5 151v2M75.5 158v1M75.5 161v1M75.5 164v2M75.5 167v4M75.5 172v10M75.5 184v1M75.5 189v2M75.5 194v2M75.5 199v1M75.5 201v2M75.5 204v2M76.5 95v1M76.5 98v2M76.5 102v4M76.5 107v4M76.5 112v1M76.5 115v1M76.5 117v1M76.5 119v4M76.5 125v1M76.5 131v1M76.5 139v1M76.5 146v1M76.5 162v2M76.5 166v1M76.5 182v1M76.5 189v1M76.5 193v1M76.5 200v2M77.5 77v2M77.5 81v2M77.5 85v9M77.5 96v1M78.5 78v5M78.5 85v2M78.5 88v3M79.5 79v4M79.5 85v7M79.5 93v1M80.5 83v2M80.5 94v2M80.5 97v1M80.5 99v3M82.5 94v2M82.5 98v2M82.5 102v4M82.5 107v3M82.5 112v1M82.5 115v1M82.5 117v1M82.5 119v4M82.5 125v1M82.5 131v1M82.5 146v1M82.5 162v2M82.5 166v1M82.5 182v1M82.5 193v1M82.5 200v2M83.5 94v2M83.5 98v2M83.5 102v4M83.5 107v3M83.5 112v1M83.5 115v1M83.5 117v1M83.5 119v4M83.5 125v1M83.5 131v1M83.5 146v1M83.5 162v2M83.5 166v1M83.5 182v1M83.5 193v1M83.5 200v1M84.5 98v1M84.5 102v11M84.5 115v8M84.5 124v2M84.5 129v3M84.5 136v1M84.5 138v3M84.5 146v2M84.5 162v2M84.5 166v2M84.5 169v1M84.5 172v3M84.5 178v1M84.5 180v1M84.5 182v1M84.5 189v1M84.5 193v2M84.5 199v3M85.5 88v1M86.5 95v1M86.5 98v2M86.5 102v4M86.5 107v4M86.5 112v1M86.5 115v1M86.5 117v1M86.5 119v4M86.5 125v1M86.5 131v1M86.5 139v1M86.5 146v1M86.5 162v2M86.5 166v1M86.5 182v1M86.5 189v1M86.5 193v1M86.5 200v2M87.5 94v2M87.5 97v1M87.5 99v3M88.5 98v1M88.5 102v11M88.5 115v8M88.5 124v2M88.5 129v3M88.5 136v1M88.5 138v3M88.5 146v2M88.5 162v2M88.5 166v2M88.5 169v1M88.5 172v3M88.5 178v1M88.5 180v1M88.5 182v1M88.5 189v1M88.5 193v2M88.5 199v3M89.5 94v2M89.5 97v1M89.5 99v4M90.5 95v1M90.5 98v1M90.5 102v4M90.5 107v4M90.5 112v1M90.5 115v8M90.5 125v1M90.5 131v1M90.5 136v1M90.5 139v1M90.5 146v1M90.5 162v2M90.5 166v1M90.5 182v1M90.5 189v1M90.5 193v1M90.5 200v2M91.5 91v4M91.5 96v2M91.5 100v2M92.5 95v1M92.5 98v2M92.5 102v4M92.5 107v4M92.5 112v1M92.5 115v1M92.5 117v1M92.5 119v4M92.5 125v1M92.5 131v1M92.5 139v1M92.5 146v1M92.5 162v2M92.5 166v1M92.5 182v1M92.5 189v1M92.5 193v1M92.5 200v2M95.5 96v1M96.5 97v1M96.5 99v3M97.5 97v1M97.5 100v2M98.5 98v2M98.5 102v4M98.5 107v4M98.5 112v1M98.5 115v1M98.5 117v6M98.5 125v1M98.5 131v1M98.5 136v1M98.5 139v1M98.5 146v1M98.5 162v2M98.5 166v1M98.5 182v1M98.5 189v1M98.5 193v1M98.5 200v2M102.5 102v4M102.5 107v4M102.5 112v1M102.5 115v8M102.5 125v1M102.5 131v1M102.5 136v1M102.5 139v1M102.5 146v1M102.5 162v2M102.5 166v1M102.5 182v1M102.5 189v1M102.5 193v1M102.5 200v2M104.5 104v2M104.5 107v4M104.5 112v1M104.5 115v1M104.5 117v1M104.5 119v4M104.5 125v1M104.5 131v1M104.5 139v1M104.5 146v1M104.5 162v2M104.5 166v1M104.5 182v1M104.5 189v1M104.5 193v1M104.5 200v2M107.5 108v1M107.5 112v1M107.5 121v1M112.5 112v1M112.5 115v1M112.5 117v1M112.5 119v4M112.5 125v1M112.5 131v1M112.5 146v1M112.5 162v2M112.5 166v1M112.5 182v1M112.5 193v1M112.5 200v2M113.5 119v3M113.5 125v1M113.5 131v1M113.5 162v2M114.5 115v1M114.5 119v4M114.5 125v1M114.5 131v1M114.5 162v2M114.5 166v1M114.5 193v1M115.5 116v3M115.5 122v3M115.5 126v5M115.5 132v1M115.5 135v2M115.5 138v3M115.5 142v1M115.5 146v2M115.5 151v1M115.5 158v1M115.5 161v1M115.5 165v1M115.5 167v3M115.5 172v9M115.5 182v1M115.5 189v1M115.5 193v3M115.5 199v4M115.5 204v2M116.5 117v1M116.5 119v4M116.5 125v1M116.5 131v1M116.5 139v1M116.5 146v1M116.5 162v2M116.5 166v1M116.5 182v1M116.5 189v1M116.5 193v1M116.5 200v2M117.5 117v2M117.5 122v3M117.5 126v5M117.5 132v1M117.5 135v2M117.5 138v3M117.5 142v1M117.5 146v2M117.5 151v1M117.5 158v1M117.5 161v1M117.5 166v4M117.5 172v9M117.5 182v1M117.5 189v1M117.5 193v3M117.5 199v3M117.5 204v2M119.5 119v4M119.5 125v1M119.5 131v1M119.5 139v1M119.5 146v1M119.5 162v2M119.5 166v1M119.5 182v1M119.5 189v1M119.5 193v1M119.5 200v2M120.5 120v3M120.5 125v1M120.5 131v1M120.5 139v1M120.5 146v1M120.5 162v2M120.5 166v1M120.5 182v1M120.5 189v1M120.5 193v1M120.5 200v2M122.5 122v1M122.5 124v2M122.5 129v1M122.5 131v1M122.5 136v1M122.5 138v3M122.5 146v2M122.5 162v2M122.5 166v2M122.5 169v1M122.5 172v3M122.5 178v1M122.5 180v1M122.5 182v1M122.5 189v1M122.5 193v2M122.5 199v3M123.5 124v2M123.5 129v1M123.5 131v1M123.5 136v1M123.5 139v1M123.5 146v1M123.5 162v2M123.5 166v1M123.5 173v2M123.5 182v1M123.5 189v1M123.5 193v1M123.5 200v2M125.5 125v1M125.5 131v1M125.5 139v1M125.5 146v1M125.5 162v2M125.5 166v1M125.5 182v1M125.5 189v1M125.5 193v1M125.5 200v2M126.5 131v1M126.5 162v2M126.5 166v1M126.5 193v1M128.5 131v1M128.5 139v1M128.5 146v1M128.5 162v2M128.5 166v1M128.5 182v1M128.5 189v1M128.5 193v1M128.5 200v2M130.5 131v1M130.5 146v1M130.5 162v2M130.5 166v1M130.5 182v1M130.5 193v1M130.5 200v1M134.5 136v1M134.5 139v1M134.5 146v1M134.5 162v2M134.5 166v1M134.5 182v1M134.5 189v1M134.5 193v1M134.5 200v2M137.5 146v1M137.5 162v2M137.5 166v1M137.5 182v1M137.5 193v1M137.5 200v1M138.5 138v3M138.5 142v1M138.5 147v1M138.5 151v2M138.5 158v1M138.5 161v1M138.5 164v2M138.5 167v4M138.5 172v10M138.5 184v1M138.5 189v2M138.5 194v2M138.5 199v4M138.5 204v2M142.5 142v1M142.5 146v2M142.5 151v1M142.5 161v3M142.5 166v2M142.5 169v1M142.5 172v3M142.5 176v3M142.5 180v1M142.5 182v1M142.5 189v1M142.5 193v2M142.5 199v3M142.5 204v2M143.5 146v2M143.5 151v1M143.5 162v2M143.5 166v2M143.5 169v1M143.5 172v3M143.5 176v3M143.5 180v1M143.5 182v1M143.5 189v1M143.5 193v2M143.5 199v3M143.5 204v1M144.5 146v1M144.5 162v2M144.5 166v1M144.5 182v1M144.5 193v1M147.5 162v2M147.5 166v1M147.5 182v1M147.5 189v1M147.5 193v1M147.5 200v2M148.5 162v2M148.5 166v1M148.5 182v1M148.5 189v1M148.5 193v1M148.5 200v2M150.5 162v2M150.5 166v1M155.5 158v1M155.5 161v1M155.5 165v1M155.5 167v3M155.5 172v9M155.5 182v1M155.5 189v2M155.5 193v3M155.5 199v4M155.5 204v2M156.5 162v2M156.5 166v1M156.5 182v1M156.5 189v1M156.5 193v1M156.5 200v2M157.5 162v2M157.5 166v1M157.5 193v1M158.5 162v2M158.5 166v1M158.5 182v1M158.5 189v1M158.5 193v1M158.5 200v2M160.5 162v2M160.5 166v1M160.5 173v2M160.5 182v1M160.5 189v1M160.5 193v1M160.5 200v2M161.5 162v2M161.5 166v1M161.5 169v1M161.5 173v2M161.5 182v1M161.5 189v1M161.5 193v1M161.5 200v2M169.5 169v1M169.5 172v3M169.5 178v1M169.5 180v1M169.5 182v1M169.5 189v1M169.5 193v2M169.5 199v3M172.5 172v10M172.5 184v1M172.5 188v1M172.5 190v1M172.5 194v2M172.5 197v1M172.5 199v1M172.5 202v1M172.5 204v2M173.5 182v1M173.5 189v1M173.5 193v1M173.5 200v2M174.5 193v1M178.5 178v1M178.5 180v1M178.5 182v1M178.5 189v1M178.5 193v2M178.5 199v3M179.5 179v3M179.5 184v5M179.5 190v1M179.5 194v2M179.5 197v1M179.5 199v1M179.5 202v1M179.5 204v2M180.5 182v1M180.5 189v1M180.5 193v1M180.5 200v2M182.5 182v1M182.5 193v1M186.5 189v1M186.5 193v1M186.5 200v2M189.5 193v1M190.5 193v2M190.5 199v3M190.5 204v2M191.5 193v3M191.5 199v3M191.5 204v2M192.5 195v1M192.5 197v1M192.5 199v1M192.5 202v1M192.5 204v2M197.5 200v2M201.5 201v1M202.5 204v2" stroke="#a94388" stroke-width="1" fill="none"/>
<path d="M1.5 30v1M8.5 8v2M8.5 20v1M8.5 28v3M8.5 39v4M8.5 44v1M8.5 48v2M8.5 59v2M8.5 62v1M8.5 65v2M8.5 79v2M9.5 9v3M9.5 13v2M9.5 18v8M9.5 28v2M9.5 31v1M9.5 33v1M9.5 36v1M9.5 38v9M9.5 48v5M9.5 54v1M9.5 58v5M9.5 64v6M9.5 77v5M9.5 88v1M10.5 18v1M10.5 20v1M10.5 22v1M10.5 28v4M10.5 39v6M10.5 48v3M10.5 59v4M10.5 64v3M10.5 79v2M11.5 12v1M11.5 15v3M11.5 21v1M11.5 26v2M11.5 32v4M11.5 37v1M11.5 45v1M11.5 47v1M11.5 53v1M11.5 55v3M11.5 63v1M11.5 69v2M11.5 72v5M11.5 82v6M11.5 89v5M11.5 96v1M12.5 14v1M12.5 18v3M12.5 22v4M12.5 28v4M12.5 36v1M12.5 38v7M12.5 46v1M12.5 48v5M12.5 54v1M12.5 58v5M12.5 64v5M12.5 77v5M12.5 88v1M14.5 28v3M18.5 18v3M18.5 22v4M18.5 28v4M18.5 36v1M18.5 38v7M18.5 46v1M18.5 48v3M18.5 52v1M18.5 54v1M18.5 58v5M18.5 64v4M18.5 78v4M18.5 88v1M19.5 21v1M19.5 26v2M19.5 32v4M19.5 37v1M19.5 45v1M19.5 47v1M19.5 53v1M19.5 55v3M19.5 63v1M19.5 69v2M19.5 72v5M19.5 82v6M19.5 89v5M19.5 96v1M22.5 22v4M22.5 28v4M22.5 36v1M22.5 38v7M22.5 46v1M22.5 48v3M22.5 52v1M22.5 54v1M22.5 58v5M22.5 64v5M22.5 77v5M22.5 88v1M23.5 23v5M23.5 31v1M23.5 33v30M23.5 64v7M23.5 72v1M23.5 74v1M23.5 76v4M23.5 81v1M23.5 85v2M23.5 88v3M26.5 32v1M26.5 53v1M26.5 63v1M26.5 70v2M26.5 73v1M26.5 75v2M26.5 82v6M26.5 89v1M26.5 91v3M26.5 96v2M28.5 28v4M28.5 38v7M28.5 48v3M28.5 59v4M28.5 64v3M28.5 79v2M29.5 29v3M29.5 36v1M29.5 38v9M29.5 48v5M29.5 54v1M29.5 58v5M29.5 64v6M29.5 77v5M29.5 88v1M30.5 30v1M30.5 39v4M30.5 44v1M30.5 48v2M30.5 59v4M30.5 65v2M30.5 79v2M31.5 39v4M31.5 44v1M31.5 48v1M31.5 62v1M31.5 65v2M31.5 79v2M32.5 94v2M32.5 97v1M32.5 99v4M33.5 33v3M33.5 37v1M33.5 45v1M33.5 47v1M33.5 51v1M33.5 53v1M33.5 55v3M33.5 63v1M33.5 69v2M33.5 72v5M33.5 82v1M33.5 84v4M33.5 89v5M33.5 96v1M34.5 35v1M34.5 37v1M34.5 47v1M34.5 53v1M34.5 55v3M34.5 63v1M34.5 70v7M34.5 82v6M34.5 89v5M34.5 96v1M36.5 94v2M36.5 99v4M36.5 107v3M36.5 112v1M36.5 121v1M36.5 162v1M37.5 71v1M37.5 83v1M37.5 94v2M37.5 97v1M37.5 99v3M38.5 71v1M38.5 75v1M38.5 83v2M38.5 94v1M38.5 97v1M38.5 99v3M39.5 47v1M39.5 53v1M39.5 55v3M39.5 63v1M39.5 70v7M39.5 82v6M39.5 89v5M39.5 96v1M40.5 40v23M40.5 64v7M40.5 72v1M40.5 74v1M40.5 76v6M40.5 85v1M40.5 88v3M41.5 94v2M41.5 99v4M41.5 107v3M41.5 112v1M41.5 121v1M41.5 162v1M42.5 71v1M42.5 75v1M42.5 83v2M42.5 94v1M42.5 97v1M42.5 99v3M43.5 43v10M43.5 54v9M43.5 64v6M43.5 72v1M43.5 74v1M43.5 76v6M43.5 85v1M43.5 88v3M44.5 45v1M44.5 47v1M44.5 51v1M44.5 53v1M44.5 55v3M44.5 63v1M44.5 67v4M44.5 72v6M44.5 82v1M44.5 84v4M44.5 89v5M44.5 96v1M45.5 98v1M45.5 102v4M45.5 107v4M45.5 112v1M45.5 115v1M45.5 117v6M45.5 125v1M45.5 131v1M45.5 136v1M45.5 139v1M45.5 146v1M45.5 162v2M45.5 166v1M45.5 182v1M45.5 189v1M45.5 193v1M45.5 200v2M47.5 95v1M47.5 98v2M47.5 102v4M47.5 107v3M47.5 112v1M47.5 115v1M47.5 117v1M47.5 119v4M47.5 125v1M47.5 131v1M47.5 146v1M47.5 162v2M47.5 166v1M47.5 182v1M47.5 193v1M47.5 200v2M48.5 48v2M48.5 59v2M48.5 62v1M48.5 65v2M48.5 79v2M49.5 63v1M49.5 71v1M49.5 73v1M49.5 75v1M49.5 83v2M49.5 87v1M49.5 91v4M49.5 96v2M49.5 100v2M51.5 94v2M51.5 98v2M51.5 102v2M51.5 105v1M51.5 107v3M51.5 112v1M51.5 115v1M51.5 119v3M51.5 125v1M51.5 131v1M51.5 162v2M51.5 166v1M52.5 94v2M52.5 99v4M52.5 108v1M52.5 112v1M53.5 53v1M53.5 55v2M53.5 63v1M53.5 70v2M53.5 73v4M53.5 82v6M53.5 89v5M53.5 96v2M55.5 94v2M55.5 99v4M55.5 107v3M55.5 112v1M55.5 121v1M55.5 162v1M56.5 58v5M56.5 64v5M56.5 77v5M56.5 88v1M57.5 80v1M58.5 71v1M58.5 75v1M58.5 83v2M58.5 94v1M58.5 97v1M58.5 99v3M59.5 59v4M59.5 64v6M59.5 72v1M59.5 77v5M59.5 88v1M60.5 94v2M60.5 99v4M60.5 107v3M60.5 112v1M60.5 121v1M61.5 98v1M61.5 102v4M61.5 107v4M61.5 112v1M61.5 115v1M61.5 117v1M61.5 119v4M61.5 125v1M61.5 131v1M61.5 139v1M61.5 146v1M61.5 162v2M61.5 166v1M61.5 182v1M61.5 189v1M61.5 193v1M61.5 200v2M62.5 63v1M62.5 68v3M62.5 72v6M62.5 82v1M62.5 84v4M62.5 89v5M62.5 96v1M63.5 64v5M63.5 77v5M63.5 88v1M65.5 70v2M65.5 73v4M65.5 82v6M65.5 89v5M65.5 96v2M66.5 95v1M66.5 98v2M66.5 102v4M66.5 107v3M66.5 112v1M66.5 115v1M66.5 117v1M66.5 119v4M66.5 125v1M66.5 131v1M66.5 146v1M66.5 162v2M66.5 166v1M66.5 182v1M66.5 193v1M66.5 200v1M67.5 95v1M67.5 98v1M67.5 102v4M67.5 107v4M67.5 112v1M67.5 115v1M67.5 117v1M67.5 119v4M67.5 125v1M67.5 131v1M67.5 139v1M67.5 146v1M67.5 162v2M67.5 166v1M67.5 182v1M67.5 189v1M67.5 193v1M67.5 200v2M68.5 70v1M68.5 72v5M68.5 82v6M68.5 89v5M68.5 96v1M69.5 69v2M69.5 72v1M69.5 74v1M69.5 76v4M69.5 81v2M69.5 85v2M69.5 88v3M70.5 71v1M70.5 73v1M70.5 75v1M70.5 83v2M70.5 94v1M70.5 96v2M70.5 100v2M71.5 72v1M71.5 74v1M71.5 77v5M71.5 88v1M71.5 90v1M72.5 77v5M72.5 88v1M73.5 94v2M73.5 97v1M73.5 99v3M74.5 74v4M74.5 82v1M74.5 85v3M74.5 89v5M74.5 96v1M75.5 95v1M75.5 98v2M75.5 102v4M75.5 107v3M75.5 112v1M75.5 115v1M75.5 117v1M75.5 119v4M75.5 125v1M75.5 131v1M75.5 146v1M75.5 162v2M75.5 166v1M75.5 182v1M75.5 193v1M75.5 200v1M76.5 83v2M76.5 92v1M76.5 94v1M76.5 96v2M76.5 100v2M77.5 79v2M80.5 81v2M80.5 85v9M80.5 96v1M82.5 83v2M82.5 87v1M82.5 91v3M82.5 96v2M82.5 100v2M83.5 83v2M83.5 87v1M83.5 91v3M83.5 96v2M83.5 100v2M84.5 94v2M84.5 97v1M84.5 99v3M86.5 92v1M86.5 94v1M86.5 96v2M86.5 100v2M87.5 87v7M87.5 96v1M88.5 94v2M88.5 97v1M88.5 99v3M89.5 89v5M89.5 96v1M90.5 94v1M90.5 97v1M90.5 99v3M92.5 92v1M92.5 94v1M92.5 96v2M92.5 100v2M96.5 96v1M98.5 100v2M115.5 115v1M115.5 119v3M115.5 125v1M115.5 131v1M115.5 162v2M115.5 166v1M117.5 119v3M117.5 125v1M117.5 131v1M117.5 162v2M138.5 146v1M138.5 162v2M138.5 166v1M138.5 182v1M138.5 193v1M155.5 162v2M155.5 166v1M172.5 182v1M172.5 189v1M172.5 193v1M172.5 200v2M179.5 182v1M179.5 189v1M179.5 193v1M179.5 200v2M192.5 193v2M192.5 200v2" stroke="#c05589" stroke-width="1" fill="none"/>
<path d="M9.5 30v1M11.5 11v1M11.5 13v2M11.5 18v3M11.5 22v4M11.5 28v2M11.5 31v1M11.5 36v1M11.5 38v7M11.5 46v1M11.5 48v5M11.5 54v1M11.5 58v5M11.5 64v5M11.5 77v5M11.5 88v1M19.5 19v2M19.5 22v4M19.5 28v2M19.5 31v1M19.5 36v1M19.5 38v7M19.5 46v1M19.5 48v5M19.5 54v1M19.5 58v5M19.5 64v5M19.5 77v5M19.5 88v1M23.5 28v3M23.5 80v1M26.5 26v2M26.5 31v1M26.5 33v6M26.5 40v13M26.5 54v9M26.5 64v6M26.5 72v1M26.5 74v1M26.5 77v3M26.5 81v1M26.5 88v1M26.5 90v1M32.5 32v1M32.5 53v1M32.5 63v1M32.5 70v2M32.5 73v1M32.5 75v1M32.5 82v6M32.5 91v3M32.5 96v1M33.5 36v1M33.5 38v7M33.5 46v1M33.5 48v3M33.5 52v1M33.5 54v1M33.5 58v5M33.5 64v5M33.5 77v5M33.5 88v1M34.5 34v1M34.5 36v1M34.5 38v9M34.5 48v5M34.5 54v1M34.5 58v5M34.5 64v6M34.5 77v5M34.5 88v1M36.5 63v1M36.5 71v1M36.5 73v1M36.5 75v1M36.5 83v2M36.5 87v1M36.5 91v3M36.5 96v2M37.5 37v1M37.5 47v1M37.5 53v1M37.5 55v3M37.5 63v1M37.5 70v1M37.5 72v5M37.5 82v1M37.5 84v4M37.5 89v5M37.5 96v1M38.5 45v3M38.5 51v1M38.5 53v1M38.5 55v3M38.5 63v1M38.5 67v4M38.5 72v3M38.5 76v3M38.5 82v1M38.5 85v3M38.5 89v5M38.5 96v1M39.5 39v8M39.5 48v5M39.5 54v1M39.5 58v5M39.5 64v6M39.5 77v5M39.5 88v1M41.5 63v1M41.5 71v1M41.5 73v1M41.5 75v1M41.5 82v3M41.5 87v1M41.5 91v3M41.5 96v2M42.5 45v1M42.5 47v1M42.5 51v1M42.5 53v1M42.5 55v3M42.5 63v1M42.5 67v4M42.5 72v3M42.5 76v2M42.5 82v1M42.5 85v3M42.5 89v5M42.5 96v1M44.5 44v1M44.5 46v1M44.5 48v3M44.5 52v1M44.5 54v1M44.5 58v5M44.5 64v3M44.5 78v4M44.5 88v1M45.5 71v1M45.5 83v1M45.5 94v2M45.5 97v1M45.5 99v3M47.5 71v1M47.5 75v1M47.5 83v2M47.5 94v1M47.5 97v1M47.5 100v2M49.5 50v12M49.5 64v1M49.5 67v4M49.5 72v1M49.5 74v1M49.5 76v3M49.5 81v2M49.5 85v2M49.5 88v3M51.5 71v1M51.5 73v1M51.5 75v1M51.5 83v2M51.5 96v2M51.5 100v2M52.5 63v1M52.5 70v2M52.5 73v1M52.5 75v1M52.5 82v3M52.5 86v2M52.5 91v3M52.5 96v2M53.5 54v1M53.5 57v6M53.5 64v6M53.5 72v1M53.5 77v5M53.5 88v1M55.5 63v1M55.5 71v1M55.5 73v1M55.5 75v1M55.5 82v3M55.5 87v1M55.5 91v3M55.5 96v2M58.5 63v1M58.5 67v4M58.5 72v3M58.5 76v2M58.5 82v1M58.5 85v3M58.5 89v5M58.5 96v1M60.5 63v1M60.5 71v1M60.5 73v1M60.5 75v1M60.5 82v3M60.5 86v2M60.5 91v3M60.5 96v2M61.5 71v1M61.5 83v1M61.5 94v2M61.5 97v1M61.5 99v3M62.5 62v1M62.5 64v4M62.5 78v4M62.5 88v1M65.5 65v5M65.5 72v1M65.5 77v5M65.5 88v1M66.5 71v1M66.5 75v1M66.5 83v2M66.5 94v1M66.5 97v1M66.5 100v2M67.5 71v1M67.5 83v1M67.5 94v1M67.5 97v1M67.5 99v3M68.5 68v2M68.5 77v5M68.5 88v1M69.5 80v1M70.5 70v1M70.5 72v1M70.5 74v1M70.5 76v3M70.5 81v2M70.5 85v9M73.5 73v4M73.5 82v6M73.5 89v1M73.5 91v3M73.5 96v1M74.5 78v4M74.5 88v1M75.5 75v1M75.5 83v2M75.5 94v1M75.5 97v1M75.5 100v2M76.5 76v3M76.5 81v2M76.5 85v7M76.5 93v1M80.5 80v1M82.5 82v1M82.5 85v2M82.5 88v3M83.5 85v2M83.5 88v3M84.5 84v4M84.5 89v1M84.5 91v3M84.5 96v1M86.5 86v6M86.5 93v1M88.5 89v1M88.5 91v3M88.5 96v1M90.5 90v4M90.5 96v1M92.5 93v1" stroke="#d2678b" stroke-width="1" fill="none"/>
<path d="M11.5 30v1M19.5 30v1M26.5 28v3M26.5 39v1M26.5 80v1M32.5 33v6M32.5 41v3M32.5 45v8M32.5 54v8M32.5 64v1M32.5 66v4M32.5 72v1M32.5 74v1M32.5 76v3M32.5 81v1M32.5 88v3M36.5 36v3M36.5 43v1M36.5 45v3M36.5 50v9M36.5 64v1M36.5 67v4M36.5 72v1M36.5 74v1M36.5 76v3M36.5 81v2M36.5 85v2M36.5 88v3M37.5 38v9M37.5 48v5M37.5 54v1M37.5 58v5M37.5 64v6M37.5 77v5M37.5 88v1M38.5 38v7M38.5 48v3M38.5 52v1M38.5 54v1M38.5 58v5M38.5 64v3M38.5 79v3M38.5 88v1M41.5 43v1M41.5 45v3M41.5 50v10M41.5 61v1M41.5 64v1M41.5 67v4M41.5 72v1M41.5 74v1M41.5 76v3M41.5 81v1M41.5 85v2M41.5 88v3M42.5 42v3M42.5 46v1M42.5 48v3M42.5 52v1M42.5 54v1M42.5 58v5M42.5 64v3M42.5 78v4M42.5 88v1M45.5 53v1M45.5 63v1M45.5 70v1M45.5 73v1M45.5 75v2M45.5 82v1M45.5 84v4M45.5 89v1M45.5 91v3M45.5 96v1M46.5 198v1M47.5 47v1M47.5 51v1M47.5 53v1M47.5 55v3M47.5 63v1M47.5 69v2M47.5 72v3M47.5 76v1M47.5 82v1M47.5 85v3M47.5 89v5M47.5 96v1M49.5 49v1M49.5 62v1M49.5 65v2M49.5 79v2M51.5 51v1M51.5 53v1M51.5 55v3M51.5 63v1M51.5 67v4M51.5 72v1M51.5 74v1M51.5 76v3M51.5 82v1M51.5 85v3M51.5 89v5M52.5 52v10M52.5 64v1M52.5 67v3M52.5 72v1M52.5 74v1M52.5 76v3M52.5 81v1M52.5 85v1M52.5 88v3M55.5 55v5M55.5 61v1M55.5 64v1M55.5 67v4M55.5 72v1M55.5 74v1M55.5 76v3M55.5 81v1M55.5 85v2M55.5 88v3M58.5 58v5M58.5 64v3M58.5 78v4M58.5 88v1M60.5 61v1M60.5 64v1M60.5 67v4M60.5 72v1M60.5 74v1M60.5 76v3M60.5 81v1M60.5 85v1M60.5 88v3M61.5 63v1M61.5 70v1M61.5 73v4M61.5 82v1M61.5 84v4M61.5 89v1M61.5 91v3M61.5 96v1M64.5 198v1M66.5 68v3M66.5 72v3M66.5 76v2M66.5 82v1M66.5 85v3M66.5 89v5M66.5 96v1M67.5 70v1M67.5 73v4M67.5 82v1M67.5 84v4M67.5 89v5M67.5 96v1M70.5 79v2M73.5 77v3M73.5 81v1M73.5 88v1M73.5 90v1M75.5 76v2M75.5 82v1M75.5 85v3M75.5 89v5M75.5 96v1M76.5 79v2M84.5 88v1M84.5 90v1M88.5 88v1M88.5 90v1M118.5 198v1M129.5 149v2M129.5 171v1M129.5 183v1M129.5 198v1M183.5 198v1M194.5 198v1" stroke="#df788c" stroke-width="1" fill="none"/>
<path d="M21.5 113v1M21.5 141v1M21.5 149v2M21.5 155v1M21.5 171v1M21.5 183v1M21.5 191v1M21.5 196v1M21.5 198v1M32.5 39v2M32.5 44v1M32.5 62v1M32.5 65v1M32.5 79v2M36.5 39v4M36.5 44v1M36.5 48v2M36.5 59v4M36.5 65v2M36.5 79v2M41.5 41v2M41.5 44v1M41.5 48v2M41.5 60v1M41.5 62v1M41.5 65v2M41.5 79v2M45.5 45v3M45.5 50v3M45.5 54v8M45.5 64v1M45.5 67v3M45.5 72v1M45.5 74v1M45.5 77v2M45.5 81v1M45.5 88v1M45.5 90v1M46.5 98v1M46.5 103v4M46.5 110v2M46.5 113v8M46.5 122v76M46.5 199v7M47.5 48v3M47.5 52v1M47.5 54v1M47.5 58v5M47.5 64v5M47.5 77v5M47.5 88v1M51.5 52v1M51.5 54v1M51.5 58v5M51.5 64v3M51.5 79v3M51.5 88v1M52.5 62v1M52.5 65v2M52.5 79v2M54.5 106v1M54.5 110v2M54.5 113v2M54.5 116v1M54.5 118v1M54.5 123v2M54.5 126v5M54.5 132v7M54.5 140v6M54.5 147v15M54.5 164v2M54.5 167v15M54.5 183v10M54.5 194v6M54.5 202v4M55.5 60v1M55.5 62v1M55.5 65v2M55.5 79v2M60.5 60v1M60.5 62v1M60.5 65v2M60.5 79v2M61.5 61v1M61.5 64v6M61.5 72v1M61.5 77v2M61.5 81v1M61.5 88v1M61.5 90v1M64.5 104v1M64.5 106v1M64.5 110v2M64.5 113v2M64.5 116v3M64.5 122v3M64.5 126v5M64.5 132v30M64.5 164v2M64.5 167v31M64.5 199v7M66.5 66v2M66.5 78v4M66.5 88v1M67.5 67v3M67.5 72v1M67.5 77v3M67.5 81v1M67.5 88v1M73.5 80v1M75.5 78v4M75.5 88v1M81.5 113v1M81.5 141v1M81.5 145v1M81.5 149v2M81.5 155v1M81.5 171v1M81.5 183v1M81.5 191v1M81.5 196v1M81.5 198v1M81.5 203v1M106.5 113v1M106.5 141v1M106.5 145v1M106.5 149v2M106.5 155v1M106.5 171v1M106.5 183v1M106.5 191v1M106.5 196v1M106.5 198v1M118.5 118v1M118.5 122v3M118.5 126v5M118.5 132v30M118.5 164v2M118.5 167v31M118.5 199v7M129.5 129v20M129.5 151v20M129.5 172v11M129.5 184v14M129.5 199v7M141.5 141v5M141.5 148v3M141.5 152v10M141.5 164v2M141.5 168v1M141.5 170v2M141.5 175v1M141.5 179v1M141.5 181v1M141.5 183v6M141.5 190v3M141.5 195v4M141.5 202v2M141.5 205v1M154.5 154v8M154.5 164v2M154.5 167v15M154.5 183v6M154.5 190v3M154.5 194v6M154.5 202v4M163.5 164v2M163.5 168v1M163.5 170v2M163.5 175v1M163.5 179v1M163.5 181v1M163.5 183v6M163.5 190v3M163.5 195v4M163.5 202v2M163.5 205v1M171.5 171v1M171.5 183v1M171.5 191v1M171.5 196v1M171.5 198v1M183.5 183v15M183.5 199v7M194.5 194v4M194.5 199v7" stroke="#e88e98" stroke-width="1" fill="none"/>
<path d="M21.5 98v1M21.5 103v10M21.5 114v27M21.5 142v7M21.5 151v4M21.5 156v15M21.5 172v11M21.5 184v7M21.5 192v4M21.5 197v1M21.5 199v7M45.5 48v2M45.5 62v1M45.5 65v2M45.5 79v2M46.5 46v2M46.5 51v1M46.5 53v1M46.5 55v3M46.5 63v1M46.5 67v12M46.5 82v6M46.5 89v9M46.5 99v4M46.5 107v3M46.5 112v1M46.5 121v1M54.5 63v1M54.5 70v2M54.5 73v1M54.5 75v2M54.5 82v6M54.5 89v1M54.5 91v15M54.5 107v3M54.5 112v1M54.5 115v1M54.5 117v1M54.5 119v4M54.5 125v1M54.5 131v1M54.5 139v1M54.5 146v1M54.5 162v2M54.5 166v1M54.5 182v1M54.5 193v1M54.5 200v2M61.5 62v1M61.5 79v2M64.5 70v7M64.5 82v6M64.5 89v15M64.5 105v1M64.5 107v3M64.5 112v1M64.5 115v1M64.5 119v3M64.5 125v1M64.5 131v1M64.5 162v2M64.5 166v1M67.5 80v1M81.5 98v1M81.5 102v11M81.5 114v27M81.5 142v3M81.5 146v3M81.5 151v4M81.5 156v15M81.5 172v11M81.5 184v7M81.5 192v4M81.5 197v1M81.5 199v4M81.5 204v2M106.5 106v7M106.5 114v27M106.5 142v3M106.5 146v3M106.5 151v4M106.5 156v15M106.5 172v11M106.5 184v7M106.5 192v4M106.5 197v1M106.5 199v7M118.5 119v3M118.5 125v1M118.5 131v1M118.5 162v2M118.5 166v1M141.5 146v2M141.5 151v1M141.5 162v2M141.5 166v2M141.5 169v1M141.5 172v3M141.5 176v3M141.5 180v1M141.5 182v1M141.5 189v1M141.5 193v2M141.5 199v3M141.5 204v1M154.5 162v2M154.5 166v1M154.5 182v1M154.5 189v1M154.5 193v1M154.5 200v2M163.5 163v1M163.5 166v2M163.5 169v1M163.5 172v3M163.5 176v3M163.5 180v1M163.5 182v1M163.5 189v1M163.5 193v2M163.5 199v3M163.5 204v1M171.5 172v11M171.5 184v7M171.5 192v4M171.5 197v1M171.5 199v7" stroke="#efa5a7" stroke-width="1" fill="none"/>
<path d="M21.5 21v1M21.5 26v2M21.5 32v4M21.5 37v1M21.5 45v1M21.5 47v1M21.5 51v1M21.5 53v1M21.5 55v3M21.5 63v1M21.5 68v10M21.5 82v6M21.5 89v9M21.5 99v4M46.5 48v3M46.5 52v1M46.5 54v1M46.5 58v5M46.5 64v3M46.5 79v3M46.5 88v1M54.5 54v9M54.5 64v6M54.5 72v1M54.5 74v1M54.5 77v5M54.5 88v1M54.5 90v1M64.5 64v6M64.5 77v5M64.5 88v1M81.5 81v17M81.5 99v3" stroke="#f5bfbb" stroke-width="1" fill="none"/>
<path d="M21.5 22v4M21.5 28v4M21.5 36v1M21.5 38v7M21.5 46v1M21.5 48v3M21.5 52v1M21.5 54v1M21.5 58v5M21.5 64v4M21.5 78v4M21.5 88v1" stroke="#fad9d2" stroke-width="1" fill="none"/>
</g>
<path d="M0 0L-1 -1H207V207Z" fill="#450f6b" shape-rendering="geometricPrecision"/>
</g></g>
<path d="M1480.4 87.3L1480.4 98.2" stroke="#e9502c" stroke-width="2.5" fill="none"/>
<path d="M1480.4 108.6L1472.4 93.6L1480.4 98.2L1488.4 93.6Z" fill="#e9502c"/>
<path d="M1480.4 109.4L1480.4 120.3" stroke="#e9502c" stroke-width="2.5" fill="none"/>
<path d="M1480.4 130.7L1472.4 115.7L1480.4 120.3L1488.4 115.7Z" fill="#e9502c"/>
<path d="M1480.4 131.5L1480.4 142.4" stroke="#e9502c" stroke-width="2.5" fill="none"/>
<path d="M1480.4 152.8L1472.4 137.8L1480.4 142.4L1488.4 137.8Z" fill="#e9502c"/>
<path d="M1480.4 153.5L1480.4 164.4" stroke="#e9502c" stroke-width="2.5" fill="none"/>
<path d="M1480.4 174.8L1472.4 159.8L1480.4 164.4L1488.4 159.8Z" fill="#e9502c"/>
<path d="M1480.4 175.6L1480.4 186.5" stroke="#e9502c" stroke-width="2.5" fill="none"/>
<path d="M1480.4 196.9L1472.4 181.9L1480.4 186.5L1488.4 181.9Z" fill="#e9502c"/>
<path d="M1480.4 197.7L1480.4 208.6" stroke="#e9502c" stroke-width="2.5" fill="none"/>
<path d="M1480.4 219.0L1472.4 204.0L1480.4 208.6L1488.4 204.0Z" fill="#e9502c"/>
<path d="M1568.7 175.6L1568.7 186.5" stroke="#e9502c" stroke-width="2.5" fill="none"/>
<path d="M1568.7 196.9L1560.7 181.9L1568.7 186.5L1576.7 181.9Z" fill="#e9502c"/>
<path d="M1568.7 197.7L1568.7 208.6" stroke="#e9502c" stroke-width="2.5" fill="none"/>
<path d="M1568.7 219.0L1560.7 204.0L1568.7 208.6L1576.7 204.0Z" fill="#e9502c"/>
<text x="1520.3" y="304.7" font-size="35.6" font-weight="bold" textLength="213.3" lengthAdjust="spacingAndGlyphs"><tspan fill="#000" stroke="#000" stroke-width="0.3">(d) </tspan><tspan fill="#3272be" stroke="#3272be" stroke-width="0.3">Low</tspan><tspan fill="#000" stroke="#000" stroke-width="0.3"> Shift</tspan></text>
</svg>
<div class="cap" style="top:358.25px;word-spacing:5.37px">Figure 1:<span style="display:inline-block;width:6.5px"></span> Variation in spatial (a, b) and temporal (c, d) characteristics of attention patterns.<span style="display:inline-block;width:13.6px"></span> We</div>
<div class="cap" style="top:409.25px;word-spacing:0.4px">provide toy examples (left) and real examples from Mistral’s different layers (right) for illustration.</div>
<div class="cap" style="top:460.35px;word-spacing:0.24px">For more detailed analysis and visualization of attention dynamics, please refer to Appendix J.</div>
</body></html>
